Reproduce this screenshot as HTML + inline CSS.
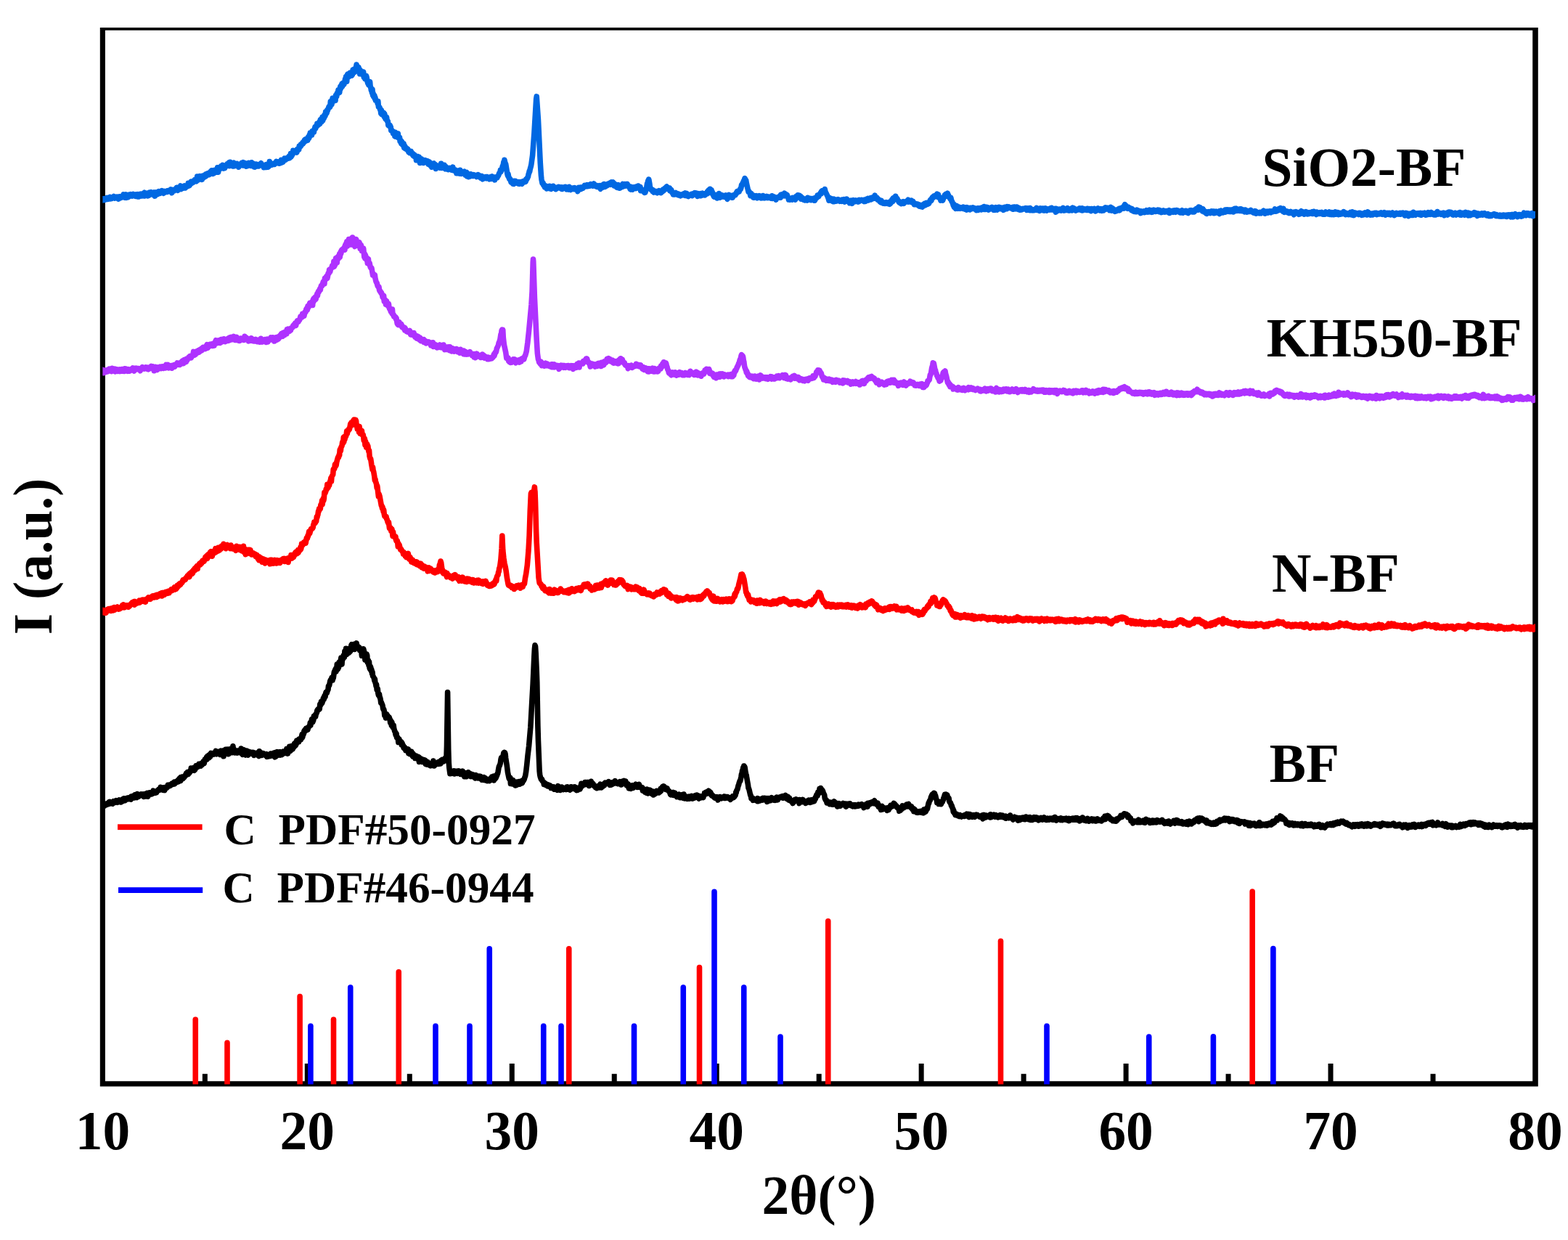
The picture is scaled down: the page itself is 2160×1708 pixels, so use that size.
<!DOCTYPE html>
<html lang="en"><head><meta charset="utf-8"><title>XRD patterns</title>
<style>html,body{margin:0;padding:0;background:#fff;}body{width:2160px;height:1708px;overflow:hidden;}svg{display:block;}text{font-family:'Liberation Serif', serif;font-weight:bold;fill:#000;}</style></head><body>
<svg width="2160" height="1708" viewBox="0 0 2160 1708">
<rect x="0" y="0" width="2160" height="1708" fill="#ffffff"/>
<defs><clipPath id="plotclip"><rect x="141.35" y="38.0" width="1973.65" height="1455.6"/></clipPath></defs>
<g fill="#000000">
<path fill-rule="evenodd" d="M137.8,38.0 H2118.8 V1496.6 H137.8 Z M144.9,41.8 V1489.3 H2111.2 V41.8 Z"/>
<rect x="419.80" y="1465" width="7.0" height="25.3"/>
<rect x="701.75" y="1465" width="7.0" height="25.3"/>
<rect x="983.70" y="1465" width="7.0" height="25.3"/>
<rect x="1265.65" y="1465" width="7.0" height="25.3"/>
<rect x="1547.60" y="1465" width="7.0" height="25.3"/>
<rect x="1829.55" y="1465" width="7.0" height="25.3"/>
<rect x="278.83" y="1479.2" width="7.0" height="11.1"/>
<rect x="560.78" y="1479.2" width="7.0" height="11.1"/>
<rect x="842.73" y="1479.2" width="7.0" height="11.1"/>
<rect x="1124.68" y="1479.2" width="7.0" height="11.1"/>
<rect x="1406.62" y="1479.2" width="7.0" height="11.1"/>
<rect x="1688.57" y="1479.2" width="7.0" height="11.1"/>
<rect x="1970.53" y="1479.2" width="7.0" height="11.1"/>
</g>
<g fill="none" stroke-linejoin="round" stroke-linecap="butt" clip-path="url(#plotclip)">
<path stroke="#000000" stroke-width="7.6" d="M138.35,1110.21 138.91,1111.82 139.47,1111.41 140.03,1109.43 140.59,1109.62 141.15,1109.35 141.71,1110.57 142.27,1109.48 142.83,1110.31 143.39,1106.87 143.95,1110.22 144.51,1108.36 145.07,1109.05 145.63,1107.89 146.19,1107.33 147.31,1108.27 147.87,1106.54 148.43,1106.47 148.99,1107.29 149.55,1105.53 150.11,1104.84 150.67,1107.41 151.79,1104.47 152.35,1105.62 152.91,1106.27 154.03,1104.92 154.59,1106.38 155.15,1107.02 155.71,1104.83 156.27,1103.85 156.83,1105.31 157.39,1105.11 157.95,1103.69 159.07,1105.25 160.19,1102.75 160.75,1104.39 161.31,1104.22 161.87,1105.18 162.43,1102.93 162.99,1103.44 163.55,1103.25 164.11,1101.84 164.67,1103.58 165.23,1104.22 165.79,1102.44 166.35,1105.01 166.91,1104.04 167.47,1103.61 168.03,1103.39 168.59,1103.73 169.15,1100.88 169.71,1103.24 170.27,1102.86 170.83,1099.81 171.39,1102.32 171.95,1101.36 172.51,1102.51 173.07,1100.61 174.19,1101.15 174.75,1099.41 175.31,1100.98 175.87,1100.02 176.43,1100.18 176.99,1099.07 177.55,1100.63 178.67,1098.76 179.79,1100.58 180.35,1101.03 180.91,1097.06 181.47,1099.69 182.59,1098.05 183.15,1096.50 183.71,1099.15 184.27,1096.04 184.83,1098.00 185.39,1098.73 185.95,1094.79 186.51,1096.11 187.07,1094.62 188.19,1097.86 188.75,1098.39 189.31,1093.47 190.99,1097.20 192.11,1094.63 192.67,1095.61 193.23,1094.82 193.79,1094.58 194.35,1093.99 194.91,1095.61 195.47,1095.83 196.59,1095.46 197.15,1094.03 197.71,1095.13 198.27,1097.26 199.39,1093.53 199.95,1096.18 200.51,1095.15 201.07,1096.87 201.63,1094.20 202.19,1093.64 202.75,1092.50 203.31,1095.97 203.87,1097.07 204.43,1092.59 204.99,1092.99 205.55,1094.20 206.11,1091.81 206.67,1092.51 207.23,1092.15 207.79,1092.66 208.35,1093.86 208.91,1092.54 209.47,1093.69 210.03,1091.60 210.59,1092.17 211.15,1089.14 211.71,1089.68 212.27,1092.52 212.83,1090.15 213.39,1091.35 213.95,1091.21 214.51,1091.95 215.07,1091.46 215.63,1091.62 216.75,1089.22 217.31,1088.54 217.87,1088.96 218.43,1087.53 219.55,1088.18 220.11,1088.19 220.67,1087.23 221.23,1084.35 221.79,1086.29 222.35,1086.70 222.91,1087.52 223.47,1086.72 224.03,1085.19 224.59,1084.91 225.15,1088.37 225.71,1086.42 226.27,1088.21 226.83,1088.54 227.39,1084.66 227.95,1086.03 229.63,1085.34 230.75,1084.19 231.31,1081.35 231.87,1082.99 232.43,1081.76 232.99,1082.23 233.55,1081.19 234.11,1082.47 234.67,1082.19 235.23,1081.07 235.79,1081.24 236.35,1080.75 236.91,1079.08 237.47,1079.29 238.03,1078.98 238.59,1080.30 239.15,1079.57 239.71,1079.87 240.27,1077.22 240.83,1079.73 241.39,1077.37 242.51,1077.64 243.07,1076.51 243.63,1077.33 244.19,1075.68 245.31,1074.31 245.87,1076.88 246.99,1072.60 247.55,1074.06 248.11,1071.72 248.67,1075.58 249.23,1070.61 249.79,1073.02 250.35,1073.12 250.91,1070.00 251.47,1072.03 252.03,1072.38 252.59,1071.20 253.15,1070.53 253.71,1070.85 254.27,1069.36 254.83,1069.09 255.39,1067.40 255.95,1067.89 256.51,1065.42 257.07,1067.47 257.63,1064.88 258.19,1063.65 259.31,1066.47 260.43,1063.09 260.99,1064.55 261.55,1062.16 262.67,1062.37 263.23,1058.16 263.79,1061.43 264.35,1059.19 264.91,1059.47 265.47,1057.72 266.03,1057.71 266.59,1058.36 267.15,1060.42 267.71,1061.20 268.27,1058.43 268.83,1059.91 269.95,1054.86 270.51,1057.49 271.07,1057.00 271.63,1055.60 272.19,1056.32 272.75,1056.20 273.31,1053.68 273.87,1052.50 274.43,1054.04 274.99,1053.80 275.55,1053.17 276.11,1054.58 276.67,1054.94 277.23,1051.50 277.79,1053.27 278.35,1053.42 278.91,1051.96 279.47,1052.07 280.03,1049.01 280.59,1049.88 281.15,1051.61 282.27,1046.22 282.83,1047.01 283.39,1046.99 283.95,1045.52 284.51,1043.08 285.07,1046.07 285.63,1041.75 286.19,1043.93 286.75,1042.78 287.31,1040.53 287.87,1043.95 288.99,1039.38 289.55,1042.38 290.67,1037.47 291.23,1039.12 291.79,1039.79 292.35,1039.82 292.91,1038.91 293.47,1038.64 294.03,1038.92 294.59,1037.23 295.15,1038.92 295.71,1036.98 296.83,1037.25 297.39,1034.40 297.95,1034.85 298.51,1038.80 299.07,1036.94 299.63,1036.24 300.19,1037.78 300.75,1036.32 301.31,1037.37 301.87,1035.85 302.43,1037.89 302.99,1034.95 303.55,1039.46 304.67,1034.11 305.23,1035.98 305.79,1035.81 306.35,1036.90 306.91,1034.73 307.47,1036.65 308.03,1041.77 308.59,1033.62 309.15,1036.13 309.71,1034.79 310.27,1035.71 310.83,1032.23 311.39,1032.48 311.95,1035.05 312.51,1033.88 313.07,1036.56 313.63,1032.17 314.19,1033.63 314.75,1038.75 315.31,1032.17 315.87,1031.86 316.43,1033.65 316.99,1033.14 317.55,1034.93 318.67,1032.23 319.23,1033.51 319.79,1036.71 320.35,1034.69 320.91,1027.84 321.47,1032.14 322.03,1031.42 322.59,1034.05 323.15,1033.11 323.71,1036.96 324.27,1035.18 324.83,1035.77 325.39,1034.50 325.95,1034.28 327.07,1037.07 327.63,1036.15 328.19,1034.22 328.75,1036.56 329.31,1034.94 329.87,1034.71 330.43,1034.01 330.99,1034.58 331.55,1034.45 332.11,1031.05 332.67,1037.74 333.23,1037.76 333.79,1036.90 334.35,1039.28 334.91,1037.86 335.47,1037.41 336.03,1032.89 336.59,1036.35 337.71,1039.71 338.27,1040.04 338.83,1039.63 339.39,1035.52 339.95,1034.07 340.51,1039.11 341.07,1038.12 341.63,1040.07 342.19,1038.18 342.75,1038.05 343.31,1035.42 343.87,1038.20 344.43,1036.50 344.99,1038.01 345.55,1037.70 346.11,1036.33 346.67,1036.89 347.23,1036.53 347.79,1038.32 348.35,1037.73 348.91,1036.40 349.47,1036.56 350.03,1040.37 350.59,1037.58 351.15,1039.63 351.71,1038.95 352.27,1037.54 352.83,1037.70 353.39,1039.22 353.95,1039.10 354.51,1039.94 355.07,1036.75 355.63,1038.33 356.19,1038.96 356.75,1041.56 357.31,1034.85 357.87,1039.10 358.43,1037.37 358.99,1038.81 359.55,1036.75 360.67,1040.33 361.23,1039.16 362.35,1039.64 362.91,1037.60 363.47,1039.47 364.59,1038.66 365.15,1039.87 365.71,1039.17 366.27,1040.71 367.39,1038.70 367.95,1042.30 368.51,1041.94 369.07,1042.06 369.63,1040.68 370.19,1039.86 371.31,1039.14 371.87,1041.55 372.43,1040.59 372.99,1038.07 373.55,1040.44 374.11,1038.34 374.67,1040.77 375.23,1038.29 375.79,1038.37 376.35,1040.85 376.91,1040.16 377.47,1037.04 378.03,1040.85 378.59,1042.74 379.15,1036.65 379.71,1042.18 380.27,1037.66 380.83,1037.71 381.39,1038.18 381.95,1035.73 382.51,1040.53 383.63,1037.28 384.19,1038.10 384.75,1035.92 385.87,1040.07 386.43,1035.66 386.99,1037.75 388.11,1039.59 388.67,1039.38 389.23,1035.82 389.79,1035.31 390.35,1036.74 390.91,1035.53 391.47,1035.21 392.03,1037.11 392.59,1037.39 393.15,1035.08 393.71,1034.52 394.27,1036.02 394.83,1031.57 395.39,1034.70 395.95,1032.36 396.51,1038.08 397.07,1034.89 398.19,1032.92 398.75,1028.30 399.31,1032.89 399.87,1034.46 400.43,1029.66 400.99,1032.04 401.55,1031.47 402.11,1027.52 402.67,1031.19 403.23,1031.77 403.79,1029.30 404.35,1028.42 404.91,1029.05 405.47,1024.59 406.03,1026.73 406.59,1027.52 407.15,1023.17 407.71,1026.16 408.83,1020.02 409.39,1023.03 409.95,1020.69 410.51,1022.22 411.07,1019.16 411.63,1021.81 412.19,1018.20 412.75,1019.86 413.31,1017.30 413.87,1017.12 414.43,1018.79 416.11,1011.69 416.67,1015.76 417.79,1010.68 418.35,1011.06 418.91,1006.96 420.03,1005.20 420.59,1007.03 421.15,1006.09 421.71,1003.45 422.27,1005.44 422.83,1005.26 423.39,1003.18 423.95,1005.11 424.51,1001.86 425.07,1001.26 425.63,1001.10 426.19,999.68 426.75,999.91 427.31,995.45 427.87,999.08 428.43,994.20 428.99,993.79 429.55,990.83 430.11,993.84 430.67,994.75 431.79,992.09 432.35,986.58 433.47,986.62 434.03,984.95 434.59,987.36 435.15,984.26 435.71,982.55 436.27,981.98 436.83,978.74 437.95,976.88 438.51,978.13 439.07,977.17 440.19,976.68 440.75,970.36 441.31,970.72 441.87,970.79 442.43,966.53 442.99,966.77 443.55,968.70 444.67,965.41 445.23,962.27 445.79,960.97 446.35,963.14 446.91,958.41 447.47,958.30 448.03,959.72 448.59,955.33 449.15,953.38 450.27,954.53 451.39,950.78 451.95,950.11 452.51,944.75 453.07,944.16 453.63,943.91 454.75,938.20 455.31,936.77 456.43,936.24 456.99,933.56 457.55,934.45 458.11,936.94 458.67,932.34 459.23,933.88 460.35,925.88 460.91,926.03 461.47,923.17 462.03,925.66 462.59,920.98 463.15,924.89 463.71,921.92 464.27,914.96 464.83,920.70 465.39,921.63 465.95,915.66 466.51,919.55 467.07,912.33 467.63,915.74 468.19,911.48 468.75,915.38 469.31,909.29 469.87,906.13 470.43,911.76 470.99,915.04 471.55,906.61 472.11,908.47 473.23,902.74 474.35,905.44 474.91,896.96 475.47,900.68 476.03,899.20 476.59,893.38 477.15,901.04 477.71,901.24 478.27,893.44 478.83,900.12 479.39,895.16 479.95,895.25 480.51,899.46 481.07,895.57 481.63,895.61 482.19,897.71 482.75,896.88 483.31,895.21 483.87,888.75 484.43,887.67 484.99,893.61 485.55,888.05 486.11,891.45 486.67,887.70 487.23,890.15 487.79,887.25 488.35,894.49 488.91,887.12 489.47,889.83 490.03,889.38 490.59,892.94 491.15,885.93 491.71,889.96 492.27,889.83 492.83,891.82 493.39,892.11 493.95,890.93 494.51,892.76 495.07,892.02 495.63,895.64 496.19,894.34 496.75,893.73 497.87,897.47 498.43,903.26 498.99,896.14 500.11,902.90 500.67,893.79 501.79,898.10 502.91,908.97 503.47,904.81 504.03,906.66 504.59,904.68 505.15,901.12 505.71,902.85 506.27,912.18 506.83,911.47 507.39,909.34 507.95,916.19 508.51,911.89 509.07,919.87 509.63,921.59 510.19,917.75 510.75,919.26 511.31,924.07 511.87,922.25 512.43,927.56 512.99,925.35 513.55,931.30 514.11,931.69 515.23,933.76 515.79,937.10 516.35,935.15 516.91,940.04 517.47,941.56 518.03,944.77 518.59,942.73 519.15,950.00 519.71,948.30 520.27,948.82 520.83,954.94 521.39,957.49 521.95,955.72 522.51,956.17 523.07,960.35 523.63,961.07 524.19,963.60 524.75,968.02 525.31,967.45 526.99,971.58 527.55,975.55 528.11,977.35 528.67,976.91 529.23,979.08 529.79,985.53 530.35,983.36 530.91,983.65 531.47,988.93 532.03,985.69 532.59,983.71 533.15,987.68 533.71,985.19 534.83,989.21 535.39,988.79 535.95,987.79 537.07,990.56 537.63,995.28 538.19,992.52 538.75,993.48 539.31,999.16 539.87,994.98 540.43,1000.17 540.99,1001.58 541.55,999.82 542.11,998.75 542.67,1003.25 543.79,1007.67 544.35,1007.75 544.91,1011.29 545.47,1013.09 546.03,1010.38 546.59,1015.82 547.15,1015.26 547.71,1015.72 548.27,1017.56 548.83,1022.50 549.39,1021.79 549.95,1018.04 550.51,1021.43 552.19,1022.73 552.75,1021.82 553.31,1025.86 553.87,1023.12 554.43,1025.24 555.55,1027.09 556.11,1030.36 556.67,1030.79 557.23,1029.52 557.79,1029.58 558.35,1031.11 558.91,1033.68 559.47,1032.95 560.03,1033.08 560.59,1032.45 561.71,1034.61 562.27,1031.91 562.83,1037.74 563.39,1034.66 563.95,1035.52 564.51,1038.52 565.07,1037.15 565.63,1037.46 566.75,1035.20 567.87,1040.66 568.43,1037.55 568.99,1042.02 569.55,1038.73 570.11,1040.13 570.67,1042.66 571.23,1042.40 571.79,1044.48 572.35,1042.17 572.91,1042.06 573.47,1041.18 574.59,1043.03 575.15,1042.69 575.71,1045.51 576.27,1044.46 576.83,1042.58 577.39,1049.40 577.95,1044.69 578.51,1044.35 579.07,1048.93 579.63,1048.93 580.19,1045.39 580.75,1045.35 581.31,1046.43 581.87,1049.46 582.43,1047.86 582.99,1047.33 583.55,1048.20 584.11,1050.14 584.67,1046.70 585.23,1048.54 585.79,1047.24 586.35,1052.61 586.91,1052.85 588.03,1051.14 588.59,1053.15 589.15,1049.41 589.71,1053.11 590.27,1050.86 590.83,1051.27 591.39,1052.35 591.95,1052.88 592.51,1054.73 593.07,1054.83 593.63,1053.94 594.19,1051.90 594.75,1054.18 595.31,1053.02 595.87,1054.33 596.99,1048.01 598.11,1054.97 598.67,1052.74 599.23,1052.14 599.79,1053.52 600.35,1052.67 600.91,1052.69 601.47,1050.97 602.03,1052.41 602.59,1052.40 603.71,1049.60 604.83,1052.35 605.39,1051.91 606.51,1050.08 607.07,1051.83 607.63,1047.58 608.19,1047.71 608.75,1049.12 609.31,1046.40 609.87,1046.91 610.99,1048.89 611.55,1046.74 612.11,1046.44 612.67,1045.60 613.23,1044.05 613.79,1047.74 614.35,1045.36 614.91,1044.97 615.47,1027.62 616.59,953.51 617.71,1031.58 618.27,1050.87 618.83,1057.76 619.95,1065.72 620.51,1065.50 621.07,1064.42 622.19,1063.79 622.75,1065.28 623.31,1062.53 623.87,1063.46 624.43,1062.12 624.99,1062.85 625.55,1062.06 626.11,1065.88 626.67,1062.01 627.23,1063.42 627.79,1063.15 628.91,1063.78 629.47,1064.32 630.03,1065.32 630.59,1062.10 631.15,1063.67 631.71,1061.99 632.27,1064.00 632.83,1062.10 633.39,1062.68 634.51,1066.27 635.07,1064.95 635.63,1064.65 636.19,1066.40 636.75,1063.43 637.31,1062.26 637.87,1065.01 638.43,1065.61 639.55,1069.50 640.11,1064.57 640.67,1069.78 642.35,1066.80 642.91,1069.69 643.47,1066.03 644.03,1065.17 644.59,1066.29 645.15,1063.83 645.71,1066.90 646.27,1066.13 647.39,1067.30 647.95,1065.57 648.51,1069.58 649.07,1066.69 649.63,1069.40 650.19,1066.43 650.75,1069.51 651.31,1068.32 651.87,1069.88 652.99,1067.47 653.55,1068.78 654.11,1071.04 654.67,1071.85 655.23,1068.99 655.79,1067.75 656.35,1069.31 656.91,1070.13 658.03,1069.28 658.59,1071.86 659.71,1071.36 660.27,1069.12 660.83,1070.71 661.39,1070.36 661.95,1069.52 662.51,1073.01 663.07,1071.65 663.63,1071.08 664.19,1074.23 664.75,1073.44 665.87,1074.28 666.43,1073.57 666.99,1070.72 668.11,1074.64 668.67,1071.72 669.79,1073.73 670.35,1075.33 670.91,1075.73 671.47,1075.45 672.03,1073.74 672.59,1074.74 673.71,1073.80 674.27,1075.59 675.39,1072.48 675.95,1074.59 676.51,1072.57 677.07,1073.40 677.63,1070.12 678.19,1071.94 678.75,1070.73 679.31,1070.67 679.87,1069.20 680.43,1075.00 680.99,1072.15 681.55,1072.26 682.11,1072.84 682.67,1070.93 683.23,1071.45 683.79,1067.85 684.35,1068.76 684.91,1066.49 685.47,1065.70 686.03,1063.51 687.15,1056.92 687.71,1055.07 688.27,1054.58 689.39,1050.83 689.95,1046.26 690.51,1043.98 691.07,1045.17 692.19,1042.70 692.75,1042.53 693.87,1036.93 694.43,1036.50 694.99,1037.40 695.55,1036.67 696.11,1038.67 696.67,1044.25 698.35,1054.89 699.47,1064.04 701.15,1072.09 701.71,1073.09 702.27,1071.90 702.83,1071.32 703.39,1079.48 703.95,1078.40 704.51,1077.76 705.07,1075.62 705.63,1076.41 706.19,1079.96 706.75,1074.57 707.87,1079.89 708.43,1078.93 708.99,1079.62 709.55,1078.35 710.11,1081.88 710.67,1077.24 711.23,1077.08 712.35,1081.05 712.91,1078.67 713.47,1079.79 714.03,1077.66 714.59,1076.79 715.15,1080.03 715.71,1080.20 716.27,1079.98 716.83,1076.98 717.39,1076.02 717.95,1076.11 718.51,1077.85 719.07,1078.82 719.63,1077.80 720.19,1074.80 720.75,1075.94 721.87,1074.07 722.43,1072.58 722.99,1070.45 723.55,1069.30 724.11,1066.05 724.67,1062.75 725.79,1053.08 726.91,1041.54 728.59,1027.58 730.83,1001.71 734.19,941.30 735.87,903.41 736.43,893.47 737.00,888.80 737.55,890.51 738.11,898.99 739.23,924.25 739.79,940.22 740.91,1000.91 741.47,1020.40 743.15,1062.22 743.71,1067.53 744.27,1069.99 745.39,1073.28 745.95,1073.75 746.51,1073.23 747.07,1075.58 748.19,1076.72 748.75,1077.03 749.31,1080.28 749.87,1079.40 750.43,1080.75 750.99,1079.55 751.55,1079.29 752.67,1081.45 753.23,1080.66 753.79,1081.02 754.35,1082.90 754.91,1082.27 755.47,1080.92 756.03,1081.99 756.59,1082.02 757.15,1083.49 757.71,1081.91 758.83,1085.43 759.39,1084.83 759.95,1083.66 760.51,1083.88 761.07,1085.10 761.63,1085.49 762.19,1086.26 763.31,1084.08 763.87,1087.27 764.43,1085.95 765.55,1086.68 766.11,1085.07 767.79,1088.19 768.35,1086.51 768.91,1082.65 769.47,1086.11 770.59,1087.37 771.15,1086.05 771.71,1088.48 772.27,1087.32 773.39,1087.02 773.95,1083.99 774.51,1086.96 775.07,1086.66 775.63,1085.66 776.19,1087.57 776.75,1087.43 777.31,1085.98 777.87,1086.34 778.43,1085.71 778.99,1086.56 779.55,1085.95 780.11,1087.50 780.67,1084.18 781.23,1086.10 781.79,1083.98 782.91,1087.12 784.59,1086.48 785.15,1088.05 785.71,1084.45 786.27,1087.04 786.83,1083.77 787.95,1086.18 788.51,1084.81 789.07,1085.79 789.63,1086.21 790.19,1084.17 790.75,1086.05 791.31,1085.59 791.87,1083.92 792.43,1086.01 792.99,1084.86 793.55,1087.62 794.11,1084.85 794.67,1088.60 795.23,1085.66 795.79,1088.27 796.35,1086.60 796.91,1085.81 797.47,1086.15 798.03,1086.03 798.59,1086.60 799.15,1086.76 799.71,1083.36 800.27,1081.78 800.83,1079.27 801.39,1081.61 801.95,1082.88 803.07,1081.48 803.63,1080.27 804.19,1079.64 805.31,1079.88 805.87,1077.53 806.43,1080.69 806.99,1077.55 807.55,1078.82 809.23,1077.50 809.79,1077.43 810.35,1078.95 810.91,1077.64 811.47,1082.36 812.03,1078.49 813.71,1078.51 814.27,1076.30 814.83,1079.40 815.39,1080.75 815.95,1078.49 816.51,1080.49 817.07,1079.51 817.63,1081.50 818.75,1083.00 819.31,1083.49 819.87,1082.65 820.43,1084.63 820.99,1083.15 821.55,1084.79 822.11,1085.61 823.23,1083.26 823.79,1084.97 824.35,1082.69 824.91,1082.81 825.47,1082.44 826.03,1084.87 826.59,1083.19 827.15,1080.16 827.71,1083.63 828.27,1084.93 828.83,1084.49 829.39,1081.30 830.51,1082.67 831.07,1082.82 832.19,1079.52 832.75,1081.63 833.31,1080.85 833.87,1078.18 834.99,1079.38 835.55,1078.40 836.67,1079.20 837.79,1078.05 838.35,1076.61 838.91,1079.44 840.03,1081.24 840.59,1078.59 841.15,1078.98 841.71,1081.12 842.27,1081.05 842.83,1079.46 843.39,1079.66 843.95,1077.75 844.51,1079.80 845.07,1077.59 845.63,1078.67 846.19,1078.51 846.75,1077.67 847.31,1075.64 848.43,1078.82 848.99,1077.84 849.55,1077.78 850.11,1078.97 851.23,1079.55 851.79,1077.72 852.35,1079.16 852.91,1078.05 854.03,1076.83 854.59,1077.98 855.15,1077.22 855.71,1081.00 856.27,1077.35 857.39,1076.54 857.95,1079.76 858.51,1075.95 859.07,1076.44 859.63,1075.56 860.75,1076.50 861.31,1078.77 861.87,1076.06 862.99,1081.61 863.55,1079.48 864.11,1081.14 864.67,1081.36 865.23,1079.79 865.79,1083.90 866.35,1085.93 867.47,1081.88 868.03,1084.95 869.15,1086.22 869.71,1085.72 870.27,1084.31 870.83,1084.63 871.39,1081.76 871.95,1085.54 872.51,1083.78 873.07,1084.58 873.63,1084.06 874.19,1082.58 874.75,1082.72 875.31,1081.77 875.87,1080.22 876.43,1082.53 876.99,1082.85 877.55,1081.42 878.11,1084.33 878.67,1083.34 879.23,1083.43 880.35,1080.41 880.91,1084.13 881.47,1083.99 882.03,1083.50 883.15,1084.45 884.27,1086.07 884.83,1084.81 885.39,1089.12 885.95,1086.53 886.51,1088.63 887.63,1089.86 888.19,1087.45 888.75,1091.20 889.31,1090.26 889.87,1090.85 890.43,1091.92 891.55,1087.13 892.11,1091.61 892.67,1092.82 893.23,1092.50 893.79,1090.31 894.91,1091.13 895.47,1088.17 896.03,1089.77 896.59,1089.75 897.15,1092.68 897.71,1090.08 898.27,1093.42 899.39,1090.00 899.95,1094.86 900.51,1091.01 901.63,1094.21 902.19,1091.37 902.75,1090.43 903.31,1092.78 904.43,1089.31 904.99,1089.39 905.55,1090.00 906.11,1091.91 906.67,1090.21 907.79,1091.85 908.35,1090.95 908.91,1091.10 909.47,1090.57 910.03,1086.48 910.59,1089.49 912.27,1084.25 912.83,1083.44 913.95,1084.79 914.51,1083.01 915.63,1084.02 916.19,1085.89 916.25,1085.00 916.75,1085.53 917.31,1087.34 917.87,1085.54 918.43,1087.15 918.99,1085.68 919.55,1088.19 920.11,1088.54 920.67,1089.36 921.23,1089.28 921.79,1089.58 922.35,1091.39 922.91,1091.61 923.47,1094.31 924.03,1094.70 924.59,1091.98 925.15,1094.16 925.71,1092.37 926.27,1093.62 927.39,1091.58 927.95,1095.41 928.51,1094.91 929.07,1092.88 929.63,1092.22 930.19,1094.27 930.75,1094.21 931.87,1096.20 932.43,1097.69 932.99,1095.22 933.55,1097.49 934.11,1097.12 935.23,1094.07 935.79,1096.89 936.35,1096.70 936.91,1098.72 938.03,1096.57 938.59,1097.64 939.15,1094.87 939.71,1096.88 940.27,1096.17 940.83,1099.17 941.39,1098.16 941.95,1094.04 942.51,1099.58 943.07,1097.43 943.63,1099.78 944.19,1098.31 945.31,1099.59 945.87,1098.81 946.43,1097.35 946.99,1100.28 948.11,1098.31 948.67,1098.90 949.23,1097.06 949.79,1100.16 950.35,1098.21 950.91,1098.59 951.47,1098.47 952.03,1096.91 952.59,1096.41 953.15,1098.34 953.71,1098.57 954.27,1100.00 954.83,1098.82 955.39,1096.74 955.95,1098.52 957.07,1098.81 957.63,1097.61 958.19,1095.69 958.75,1098.38 959.31,1096.16 959.87,1097.91 960.43,1095.12 960.99,1097.71 961.55,1096.17 962.11,1098.76 962.67,1099.97 963.23,1099.35 963.79,1096.66 964.91,1096.68 965.47,1098.84 967.15,1097.87 968.27,1097.66 968.83,1098.40 969.39,1096.02 969.95,1095.47 970.51,1092.29 971.07,1092.27 971.63,1092.55 972.19,1091.57 972.75,1092.90 973.31,1093.19 973.87,1090.86 974.99,1090.06 975.55,1090.61 976.11,1089.23 976.25,1090.00 976.67,1090.49 977.23,1090.42 977.79,1091.13 978.35,1090.97 978.91,1091.63 979.47,1094.65 980.03,1093.68 980.59,1095.84 981.15,1095.57 981.71,1095.63 982.27,1096.46 982.83,1096.78 983.39,1098.11 983.95,1097.75 984.51,1097.72 985.07,1099.19 985.63,1097.75 986.19,1099.19 986.75,1098.33 987.31,1099.30 987.87,1097.78 988.43,1099.00 988.99,1101.96 989.55,1099.94 990.11,1100.37 990.67,1099.24 991.23,1100.13 991.79,1097.58 992.35,1097.68 992.91,1099.40 993.47,1099.69 994.03,1098.17 994.59,1098.76 995.15,1098.39 995.71,1098.59 996.27,1097.62 996.83,1097.34 997.39,1099.29 997.95,1097.07 998.51,1097.92 999.07,1098.35 999.63,1097.61 1000.19,1099.27 1000.75,1098.37 1001.31,1098.69 1001.87,1097.64 1002.43,1097.66 1002.99,1099.08 1003.55,1099.57 1004.11,1098.57 1004.67,1099.91 1005.23,1099.56 1005.79,1099.47 1006.35,1101.26 1006.91,1098.60 1007.47,1099.43 1008.03,1099.55 1009.15,1096.93 1009.71,1098.92 1010.27,1098.74 1011.95,1097.15 1012.51,1095.50 1013.07,1095.47 1013.63,1091.69 1014.19,1091.85 1014.75,1088.85 1015.87,1087.18 1016.99,1082.26 1017.55,1081.29 1018.11,1078.73 1019.23,1075.45 1019.79,1075.61 1020.91,1070.15 1021.47,1066.18 1022.03,1065.56 1022.59,1061.23 1023.15,1061.03 1023.71,1057.49 1024.27,1060.94 1024.83,1055.00 1025.00,1057.50 1025.39,1058.65 1025.95,1056.33 1027.07,1063.89 1027.63,1066.59 1028.19,1067.65 1028.75,1071.68 1030.43,1080.88 1030.99,1085.49 1031.55,1086.21 1032.11,1088.20 1033.79,1095.68 1034.35,1095.80 1034.91,1099.78 1035.47,1098.28 1036.03,1100.14 1037.15,1102.26 1037.71,1099.78 1038.83,1102.04 1039.39,1101.83 1040.51,1102.20 1041.07,1101.26 1042.19,1102.46 1042.75,1101.60 1043.31,1103.55 1043.87,1099.64 1044.43,1100.46 1044.99,1103.58 1046.11,1101.00 1047.23,1102.84 1047.79,1100.73 1048.35,1101.87 1048.91,1100.73 1049.47,1100.83 1050.03,1100.68 1050.59,1101.94 1051.15,1099.48 1052.27,1101.64 1052.83,1099.28 1053.39,1099.26 1053.95,1101.48 1054.51,1100.73 1055.63,1101.27 1056.19,1099.65 1056.75,1104.33 1057.31,1100.27 1057.87,1101.11 1058.43,1099.57 1058.99,1100.70 1059.55,1103.02 1060.11,1100.72 1060.67,1101.44 1061.23,1100.44 1061.79,1102.53 1062.91,1098.60 1063.47,1101.11 1064.03,1100.13 1064.59,1101.41 1065.15,1101.37 1065.71,1101.99 1066.27,1101.69 1067.39,1099.77 1067.95,1102.31 1068.51,1101.09 1069.07,1101.44 1069.63,1100.40 1070.19,1098.24 1070.75,1098.75 1071.31,1101.87 1071.87,1099.44 1072.43,1099.79 1072.99,1098.47 1073.55,1099.03 1075.23,1098.50 1075.79,1097.26 1077.47,1097.72 1078.03,1096.87 1078.59,1099.24 1079.15,1097.56 1079.71,1097.40 1080.27,1096.74 1080.83,1098.91 1081.39,1095.86 1081.95,1095.42 1082.51,1096.51 1083.07,1099.17 1083.63,1097.19 1084.19,1100.19 1085.31,1097.21 1086.43,1102.01 1086.99,1099.30 1087.55,1099.30 1088.11,1101.74 1088.67,1103.13 1089.23,1103.37 1089.79,1102.40 1090.91,1104.01 1092.03,1106.58 1092.59,1103.86 1093.15,1105.19 1093.71,1103.17 1094.27,1103.99 1094.83,1101.69 1095.39,1101.80 1095.95,1102.49 1096.51,1100.84 1097.07,1102.83 1097.63,1101.35 1098.19,1102.42 1099.31,1102.21 1100.43,1104.24 1100.99,1106.64 1101.55,1101.45 1102.11,1103.50 1102.67,1102.96 1103.23,1101.88 1103.79,1103.48 1104.35,1101.95 1105.47,1104.48 1106.03,1101.39 1106.59,1104.47 1107.15,1104.70 1107.71,1103.01 1108.27,1104.94 1108.83,1105.25 1109.39,1104.44 1109.95,1106.30 1110.51,1103.57 1111.07,1105.73 1112.19,1103.31 1112.75,1104.33 1113.31,1104.01 1113.87,1104.68 1114.43,1102.20 1114.99,1103.56 1115.55,1103.08 1116.11,1105.30 1116.67,1102.29 1117.23,1104.98 1117.79,1101.74 1118.35,1104.04 1118.91,1103.50 1119.47,1104.27 1120.59,1101.37 1121.15,1101.22 1121.71,1103.69 1122.83,1099.20 1123.39,1100.13 1123.95,1097.37 1125.07,1094.46 1125.63,1096.23 1126.19,1096.04 1126.75,1091.37 1127.31,1091.69 1127.87,1091.66 1128.43,1092.43 1128.99,1086.48 1129.55,1088.90 1130.11,1088.60 1130.67,1085.47 1131.23,1087.72 1131.79,1088.94 1132.35,1087.63 1132.91,1089.54 1133.47,1089.36 1134.03,1091.70 1135.71,1095.21 1136.27,1099.71 1137.39,1102.05 1137.95,1101.63 1138.51,1102.92 1139.07,1105.84 1140.19,1103.82 1140.75,1105.10 1141.87,1105.91 1142.43,1105.11 1142.99,1107.68 1144.11,1106.37 1144.67,1105.25 1145.79,1106.72 1146.35,1108.04 1146.91,1106.40 1147.47,1108.10 1148.59,1106.21 1149.15,1103.88 1149.71,1105.88 1150.27,1105.87 1150.83,1107.49 1151.39,1107.63 1151.95,1108.84 1153.07,1106.53 1153.63,1110.88 1154.19,1108.94 1155.31,1107.80 1155.87,1106.73 1156.43,1109.06 1156.99,1108.64 1157.55,1110.13 1158.67,1108.69 1159.23,1108.55 1159.79,1107.17 1160.35,1107.12 1160.91,1107.51 1161.47,1106.53 1162.03,1108.03 1162.59,1107.86 1163.15,1108.95 1163.71,1108.73 1164.27,1107.19 1165.39,1111.18 1165.95,1107.25 1167.07,1109.13 1167.63,1107.41 1168.19,1108.42 1168.75,1108.93 1169.31,1107.22 1169.87,1108.60 1170.43,1108.41 1170.99,1106.89 1172.11,1109.56 1172.67,1108.57 1173.23,1109.44 1173.79,1109.61 1174.35,1109.03 1174.91,1110.75 1175.47,1110.17 1176.03,1108.72 1176.59,1110.45 1177.71,1110.80 1178.27,1108.57 1179.39,1110.39 1179.95,1109.20 1180.51,1110.32 1181.07,1110.37 1181.63,1108.94 1182.19,1109.61 1182.75,1108.29 1183.31,1110.00 1184.43,1108.45 1184.99,1108.95 1185.55,1108.88 1186.11,1109.31 1186.67,1109.16 1187.23,1107.79 1187.79,1108.53 1188.35,1109.81 1188.91,1109.85 1189.47,1109.52 1190.03,1112.54 1191.15,1109.65 1191.71,1110.64 1192.27,1111.17 1192.83,1110.02 1193.39,1107.71 1193.95,1109.30 1194.51,1108.97 1195.07,1111.05 1195.63,1106.41 1196.19,1109.44 1196.75,1107.03 1197.31,1107.86 1197.87,1105.94 1198.43,1106.16 1198.99,1107.25 1199.55,1105.90 1200.11,1106.60 1200.67,1104.80 1201.23,1104.80 1201.79,1105.15 1202.35,1104.43 1202.91,1104.57 1203.47,1106.67 1204.03,1103.65 1204.59,1102.85 1205.71,1106.61 1206.27,1106.11 1207.39,1107.89 1207.95,1106.67 1208.51,1107.93 1209.07,1106.04 1210.19,1111.32 1210.75,1109.56 1211.31,1109.47 1211.87,1110.42 1213.55,1115.42 1214.11,1114.11 1214.67,1111.23 1215.23,1110.56 1215.79,1113.69 1216.35,1114.72 1216.91,1112.41 1217.47,1113.55 1218.03,1113.42 1218.59,1113.65 1219.15,1113.26 1220.27,1114.85 1220.83,1114.03 1221.95,1116.31 1222.51,1112.75 1223.07,1112.82 1223.63,1114.51 1224.19,1115.43 1224.75,1112.99 1225.31,1113.56 1225.87,1111.21 1226.43,1111.65 1226.99,1109.44 1227.55,1110.93 1228.11,1110.59 1228.67,1109.85 1229.23,1110.77 1229.79,1110.12 1230.35,1107.87 1230.91,1109.44 1231.47,1106.44 1232.03,1109.67 1232.50,1107.50 1232.59,1109.04 1233.15,1109.36 1233.71,1109.23 1234.27,1110.49 1234.83,1109.90 1235.39,1111.81 1235.95,1111.50 1236.51,1112.10 1237.07,1113.39 1237.63,1113.92 1238.19,1112.55 1238.75,1117.22 1239.87,1113.54 1240.43,1116.32 1240.99,1114.64 1242.11,1114.49 1243.23,1109.90 1243.79,1112.74 1244.35,1112.44 1244.91,1112.64 1245.47,1110.45 1246.59,1111.47 1247.15,1110.49 1247.71,1109.98 1248.27,1109.95 1248.83,1108.03 1249.39,1110.90 1249.95,1108.00 1250.51,1108.76 1251.07,1107.89 1251.63,1107.54 1253.31,1111.22 1254.43,1110.45 1254.99,1112.33 1255.55,1110.88 1256.11,1113.22 1256.67,1114.51 1257.23,1115.25 1257.79,1113.82 1258.35,1113.77 1258.91,1117.67 1259.47,1115.82 1260.03,1114.98 1260.59,1115.82 1261.15,1117.39 1261.71,1118.36 1262.27,1117.58 1262.83,1118.98 1263.95,1118.35 1264.51,1119.19 1265.07,1118.05 1265.63,1118.49 1266.19,1117.85 1266.75,1117.61 1267.31,1118.82 1267.87,1117.42 1268.43,1118.20 1268.99,1117.67 1269.55,1117.88 1270.11,1117.46 1270.67,1119.31 1271.23,1118.22 1271.79,1118.38 1272.35,1119.80 1272.91,1115.06 1273.47,1117.11 1274.03,1115.43 1274.59,1117.99 1275.15,1118.11 1276.27,1115.51 1276.83,1113.16 1277.39,1114.42 1279.07,1106.45 1279.63,1106.55 1280.19,1103.87 1280.75,1102.76 1281.31,1102.22 1281.87,1100.92 1282.43,1098.21 1282.99,1099.13 1283.55,1095.68 1284.11,1094.57 1284.67,1094.89 1286.35,1092.46 1286.75,1093.75 1286.91,1093.19 1287.47,1092.71 1288.03,1096.22 1288.59,1095.59 1289.71,1100.53 1290.27,1101.74 1290.83,1105.74 1291.39,1102.93 1292.51,1105.44 1293.07,1107.46 1294.19,1104.40 1294.75,1107.39 1295.31,1105.55 1296.43,1107.62 1296.99,1105.44 1298.11,1104.80 1298.67,1102.96 1299.23,1102.19 1299.79,1099.50 1300.35,1098.57 1301.47,1094.50 1302.03,1097.61 1303.15,1094.07 1303.71,1095.36 1304.27,1095.86 1304.83,1095.08 1305.39,1098.48 1305.95,1098.11 1306.51,1099.79 1307.07,1099.51 1307.63,1103.51 1308.75,1105.61 1309.31,1105.49 1309.87,1107.12 1310.43,1109.71 1310.99,1109.42 1312.11,1113.16 1312.67,1113.76 1313.23,1117.88 1313.79,1116.31 1314.35,1119.66 1314.91,1120.53 1315.47,1120.00 1316.03,1122.53 1317.15,1122.13 1317.71,1121.21 1318.83,1123.01 1319.39,1122.27 1319.95,1123.97 1320.51,1123.20 1321.07,1123.27 1321.63,1124.51 1322.19,1122.52 1322.75,1123.01 1323.31,1124.00 1323.87,1124.14 1324.43,1124.94 1325.55,1123.85 1326.11,1123.94 1326.67,1123.39 1327.79,1122.91 1328.35,1124.41 1328.91,1122.73 1329.47,1123.06 1330.03,1123.82 1330.59,1122.82 1331.15,1123.23 1331.71,1121.21 1332.27,1123.77 1332.83,1122.98 1333.95,1123.80 1334.51,1121.40 1335.07,1125.56 1335.63,1123.44 1336.19,1123.46 1336.75,1121.78 1337.31,1124.43 1337.87,1124.21 1338.43,1123.48 1339.55,1125.22 1340.11,1123.75 1340.67,1122.85 1341.23,1124.90 1341.79,1123.52 1342.35,1122.76 1342.91,1125.30 1343.47,1123.16 1344.03,1122.73 1344.59,1123.45 1345.15,1122.32 1345.71,1123.11 1346.27,1123.31 1346.83,1122.79 1347.39,1123.47 1349.63,1125.12 1350.75,1125.53 1351.31,1124.78 1351.87,1124.78 1352.43,1125.91 1352.99,1123.08 1354.11,1127.80 1354.67,1122.61 1355.23,1125.52 1355.79,1122.51 1356.91,1125.73 1357.47,1125.96 1358.03,1123.37 1358.59,1123.09 1359.15,1123.17 1359.71,1125.04 1360.27,1123.87 1362.51,1124.63 1363.07,1124.39 1363.63,1122.48 1364.19,1125.89 1364.75,1121.72 1365.31,1125.79 1365.87,1123.71 1366.43,1124.25 1366.99,1123.73 1367.55,1123.58 1368.11,1123.70 1368.67,1123.27 1369.23,1122.35 1369.79,1124.32 1370.35,1122.88 1370.91,1125.10 1371.47,1123.18 1372.03,1122.71 1372.59,1124.22 1373.15,1124.91 1373.71,1123.37 1374.27,1124.05 1374.83,1125.96 1375.39,1123.76 1375.95,1123.83 1376.51,1125.32 1377.63,1122.57 1378.19,1123.28 1378.75,1124.89 1379.31,1125.08 1380.43,1124.59 1380.99,1123.07 1381.55,1125.13 1382.11,1125.71 1382.67,1124.12 1383.23,1125.87 1383.79,1125.05 1384.91,1126.08 1385.47,1124.09 1386.03,1127.24 1386.59,1124.88 1387.15,1125.35 1387.71,1124.93 1388.27,1125.83 1388.83,1125.82 1389.39,1125.47 1389.95,1126.76 1391.07,1125.28 1391.63,1123.01 1392.19,1125.96 1392.75,1126.20 1393.31,1125.86 1393.87,1125.88 1394.43,1127.52 1395.55,1129.05 1396.11,1128.10 1396.67,1126.06 1397.23,1126.94 1397.79,1125.28 1398.35,1127.22 1398.91,1126.99 1399.47,1126.18 1400.03,1126.48 1401.15,1126.41 1402.27,1130.18 1402.83,1127.82 1403.39,1128.16 1403.95,1127.24 1404.51,1126.78 1405.07,1129.59 1405.63,1126.86 1406.19,1127.23 1406.75,1126.68 1407.31,1127.38 1407.87,1127.10 1408.43,1127.95 1408.99,1126.14 1410.11,1128.26 1410.67,1126.03 1411.23,1126.76 1411.79,1128.73 1412.35,1127.68 1412.91,1128.28 1413.47,1125.07 1414.03,1127.21 1414.59,1125.98 1415.15,1125.79 1415.71,1127.87 1416.27,1128.47 1416.83,1126.00 1418.51,1126.83 1419.07,1125.69 1419.63,1129.35 1420.75,1126.69 1421.31,1126.73 1421.87,1129.42 1422.43,1129.17 1422.99,1126.67 1424.11,1128.24 1424.67,1125.67 1425.23,1126.46 1425.79,1128.30 1426.35,1126.07 1426.91,1126.66 1427.47,1126.13 1428.03,1126.94 1428.59,1128.49 1429.15,1127.12 1429.71,1126.67 1430.27,1127.39 1430.83,1129.83 1431.39,1128.39 1431.95,1127.82 1432.51,1128.48 1433.63,1128.41 1434.19,1126.45 1434.75,1128.65 1435.31,1127.80 1435.87,1128.99 1436.43,1126.61 1436.99,1128.64 1438.11,1125.85 1438.67,1128.75 1439.23,1127.21 1439.79,1128.34 1440.35,1128.26 1440.91,1129.36 1441.47,1129.52 1442.59,1129.25 1443.15,1127.18 1443.71,1127.40 1444.27,1129.23 1444.83,1127.94 1445.39,1129.10 1445.95,1128.68 1446.51,1127.07 1447.07,1127.56 1447.63,1127.27 1448.75,1127.70 1449.87,1129.04 1450.43,1126.87 1450.99,1127.00 1451.55,1129.24 1452.67,1128.07 1453.23,1125.49 1454.35,1128.16 1454.91,1127.36 1455.47,1130.04 1456.03,1128.54 1456.59,1128.78 1457.15,1127.51 1457.71,1127.52 1458.27,1127.90 1459.39,1128.11 1459.95,1128.63 1460.51,1128.48 1461.07,1129.38 1461.63,1126.88 1462.19,1128.28 1462.75,1128.28 1463.31,1129.69 1463.87,1127.91 1464.43,1128.73 1464.99,1127.66 1465.55,1128.92 1466.11,1128.67 1466.67,1127.60 1467.79,1128.30 1468.35,1128.95 1468.91,1127.09 1469.47,1128.93 1470.03,1127.95 1470.59,1129.99 1471.15,1129.49 1471.71,1127.83 1472.27,1127.45 1472.83,1130.57 1473.39,1128.70 1473.95,1128.58 1474.51,1127.73 1475.07,1127.86 1475.63,1128.89 1476.19,1128.93 1476.75,1127.43 1477.31,1129.21 1477.87,1128.54 1478.43,1127.12 1478.99,1129.15 1479.55,1128.05 1480.11,1129.00 1480.67,1127.60 1481.23,1128.38 1481.79,1126.55 1482.35,1129.11 1482.91,1127.42 1483.47,1129.21 1484.03,1126.73 1484.59,1128.92 1485.15,1129.67 1485.71,1129.55 1486.27,1130.34 1486.83,1128.39 1487.39,1130.83 1487.95,1130.60 1488.51,1127.51 1489.07,1127.74 1490.19,1128.78 1490.75,1128.64 1491.31,1126.02 1491.87,1128.99 1492.99,1127.47 1493.55,1129.84 1494.11,1128.92 1494.67,1129.89 1495.23,1129.23 1495.79,1128.96 1496.35,1130.70 1496.91,1130.19 1498.03,1127.36 1499.15,1129.27 1499.71,1128.74 1500.27,1131.11 1500.83,1129.55 1501.39,1129.33 1501.95,1129.67 1502.51,1128.50 1503.07,1129.58 1503.63,1129.09 1504.19,1127.87 1504.75,1128.38 1505.31,1130.64 1505.87,1129.53 1506.43,1130.06 1506.99,1128.41 1507.55,1129.18 1508.11,1130.49 1509.23,1128.77 1509.79,1130.97 1510.35,1129.45 1510.91,1129.20 1511.47,1130.27 1512.03,1127.88 1512.59,1130.22 1513.15,1128.71 1514.83,1130.21 1515.39,1130.36 1516.51,1130.08 1517.07,1130.97 1517.63,1130.88 1518.19,1129.55 1518.75,1129.40 1519.31,1127.41 1519.87,1126.78 1520.43,1127.98 1520.99,1127.04 1521.55,1127.54 1522.11,1124.23 1522.67,1128.56 1523.23,1124.44 1524.35,1126.77 1524.91,1124.11 1525.47,1124.82 1526.03,1123.47 1526.59,1124.25 1527.15,1124.25 1527.71,1126.47 1528.27,1126.78 1528.83,1126.24 1529.39,1128.21 1529.95,1128.74 1530.51,1127.61 1531.63,1128.52 1532.19,1128.56 1532.75,1130.56 1533.31,1129.83 1533.87,1129.46 1534.43,1129.73 1534.99,1130.75 1535.55,1130.19 1536.11,1130.65 1536.67,1130.03 1537.23,1131.23 1537.79,1131.06 1538.35,1128.14 1538.91,1129.13 1539.47,1129.33 1540.03,1127.41 1540.59,1128.08 1541.15,1127.29 1541.71,1126.87 1542.27,1125.81 1543.39,1125.45 1543.95,1123.20 1545.07,1123.16 1545.63,1125.35 1546.19,1123.49 1547.31,1122.63 1547.87,1121.56 1548.43,1120.95 1548.99,1122.07 1549.55,1120.85 1550.11,1121.51 1551.23,1121.42 1551.79,1121.64 1552.35,1122.18 1553.47,1125.60 1554.03,1123.06 1554.59,1124.97 1555.15,1126.09 1555.71,1125.34 1556.83,1127.79 1557.39,1126.96 1557.95,1130.63 1558.51,1130.51 1559.07,1130.77 1560.19,1131.73 1560.75,1133.92 1561.31,1131.73 1561.87,1132.25 1562.43,1130.90 1562.99,1131.93 1563.55,1131.35 1564.11,1131.59 1564.67,1131.09 1565.23,1131.26 1565.79,1132.47 1566.35,1132.67 1566.91,1132.45 1567.47,1131.07 1568.03,1131.84 1568.59,1129.16 1569.15,1132.58 1569.71,1131.52 1570.27,1131.72 1570.83,1132.57 1571.39,1131.15 1571.95,1132.52 1572.51,1131.24 1573.07,1132.28 1573.63,1131.43 1574.19,1131.69 1574.75,1132.60 1575.31,1130.10 1575.87,1130.19 1576.99,1130.93 1577.55,1133.23 1578.11,1129.93 1578.67,1128.38 1579.23,1129.94 1579.79,1129.26 1580.35,1130.55 1580.91,1131.24 1581.47,1130.40 1582.03,1130.66 1582.59,1129.89 1583.15,1132.23 1583.71,1131.59 1584.27,1133.51 1584.83,1133.39 1585.39,1131.62 1586.51,1131.85 1587.07,1132.72 1587.63,1130.02 1588.19,1130.96 1588.75,1132.85 1589.31,1131.10 1589.87,1131.69 1590.43,1131.31 1590.99,1130.52 1591.55,1132.52 1592.11,1131.71 1592.67,1131.78 1593.23,1132.79 1593.79,1132.54 1594.35,1129.67 1594.91,1131.56 1595.47,1130.78 1596.03,1131.25 1596.59,1130.49 1597.15,1130.50 1597.71,1132.16 1598.27,1131.07 1598.83,1130.96 1599.39,1131.15 1599.95,1131.91 1600.51,1131.69 1601.07,1129.39 1601.63,1130.99 1603.31,1133.51 1603.87,1131.57 1604.43,1134.30 1604.99,1132.30 1605.55,1133.02 1606.11,1132.19 1606.67,1132.00 1607.23,1133.93 1607.79,1132.17 1608.35,1132.34 1609.47,1134.04 1610.03,1130.97 1610.59,1132.21 1611.15,1132.48 1611.71,1134.55 1612.27,1135.06 1612.83,1132.87 1613.39,1132.72 1614.51,1133.46 1615.07,1132.28 1615.63,1133.34 1616.75,1130.41 1618.43,1133.96 1618.99,1131.33 1619.55,1131.45 1620.11,1132.90 1620.67,1129.55 1621.23,1133.25 1621.79,1133.41 1622.35,1129.93 1622.91,1133.26 1623.47,1132.32 1624.03,1133.67 1624.59,1132.84 1625.15,1132.64 1626.27,1133.73 1626.83,1133.02 1627.39,1132.70 1627.95,1131.65 1628.51,1133.85 1629.07,1133.52 1629.63,1134.94 1630.19,1133.47 1630.75,1133.52 1631.31,1133.23 1631.87,1134.49 1632.99,1133.13 1633.55,1135.10 1634.11,1135.04 1634.67,1132.99 1635.23,1132.10 1635.79,1134.06 1636.35,1132.17 1636.91,1135.66 1637.47,1132.59 1638.03,1133.48 1638.59,1131.22 1639.71,1133.78 1640.27,1133.45 1640.83,1132.38 1641.39,1135.01 1641.95,1132.93 1642.51,1132.30 1643.07,1131.82 1643.63,1131.91 1644.19,1132.99 1644.75,1130.67 1645.31,1130.72 1645.87,1129.76 1646.43,1131.27 1646.99,1129.70 1647.55,1129.98 1648.11,1129.42 1648.67,1128.05 1649.23,1129.24 1649.79,1129.30 1650.35,1127.18 1650.91,1128.68 1651.47,1131.65 1652.00,1127.50 1652.03,1129.01 1652.59,1126.76 1653.15,1128.47 1653.71,1127.29 1654.27,1128.41 1655.39,1127.17 1655.95,1129.64 1656.51,1128.61 1657.07,1128.26 1657.63,1129.58 1658.19,1129.13 1658.75,1130.56 1659.31,1130.72 1659.87,1130.58 1660.43,1131.77 1660.99,1130.19 1661.55,1132.68 1662.11,1129.88 1662.67,1133.77 1663.23,1132.44 1663.79,1132.63 1664.35,1132.41 1664.91,1133.66 1665.47,1133.32 1666.03,1133.30 1666.59,1134.48 1667.15,1133.29 1667.71,1133.63 1668.83,1135.17 1669.39,1133.94 1669.95,1134.38 1670.51,1133.98 1671.63,1135.31 1672.19,1133.16 1672.75,1133.65 1673.31,1133.66 1674.43,1135.00 1674.99,1133.46 1675.55,1133.49 1676.11,1134.40 1676.67,1131.30 1677.79,1131.49 1678.91,1131.21 1679.47,1130.04 1680.03,1131.85 1680.59,1129.23 1681.15,1129.41 1681.71,1131.00 1682.27,1130.48 1682.83,1129.45 1683.95,1129.74 1684.51,1129.27 1685.07,1129.84 1685.63,1128.24 1686.19,1129.15 1686.75,1127.07 1687.31,1127.67 1687.87,1127.39 1688.43,1129.81 1688.99,1128.46 1689.55,1128.94 1690.11,1127.49 1690.67,1128.32 1691.23,1128.21 1691.79,1127.81 1692.35,1129.95 1692.91,1127.67 1694.03,1131.58 1694.59,1128.52 1695.15,1130.00 1695.71,1128.56 1696.27,1130.06 1696.83,1128.57 1697.39,1130.92 1698.51,1128.69 1699.07,1129.55 1699.63,1129.38 1700.75,1131.56 1701.31,1130.67 1701.87,1130.18 1702.43,1130.40 1702.99,1131.84 1703.55,1129.52 1704.11,1132.58 1704.67,1132.50 1705.23,1130.01 1705.79,1133.72 1706.35,1131.33 1707.47,1134.43 1708.03,1131.53 1708.59,1131.43 1709.71,1131.68 1710.27,1132.57 1710.83,1132.20 1711.95,1132.09 1712.51,1132.60 1713.07,1132.17 1713.63,1133.12 1714.19,1132.96 1714.75,1132.09 1715.31,1134.98 1715.87,1132.38 1716.43,1134.36 1716.99,1132.84 1717.55,1133.61 1718.11,1133.82 1718.67,1134.45 1719.23,1135.47 1719.79,1133.43 1720.35,1137.18 1720.91,1134.79 1721.47,1133.76 1722.03,1133.56 1722.59,1137.38 1723.15,1136.72 1723.71,1134.97 1724.83,1136.15 1725.39,1134.87 1725.95,1134.47 1726.51,1134.95 1727.07,1135.88 1728.19,1134.26 1728.75,1136.80 1729.31,1134.80 1729.87,1135.71 1730.43,1137.60 1730.99,1136.47 1731.55,1136.41 1732.11,1136.05 1732.67,1137.07 1733.79,1133.88 1734.35,1135.76 1734.91,1132.76 1735.47,1133.67 1736.03,1137.53 1736.59,1137.20 1737.15,1135.73 1738.27,1136.26 1738.83,1136.78 1739.39,1135.32 1739.95,1135.21 1740.51,1135.37 1741.07,1135.84 1741.63,1135.89 1742.19,1135.48 1742.75,1136.73 1743.31,1135.07 1743.87,1136.02 1744.99,1134.97 1745.55,1137.17 1746.11,1135.55 1746.67,1134.73 1747.23,1135.66 1747.79,1134.54 1748.35,1135.85 1748.91,1135.97 1749.47,1135.75 1750.03,1133.65 1750.59,1134.26 1751.15,1136.06 1751.71,1133.87 1752.27,1134.89 1752.83,1134.78 1753.39,1131.31 1753.95,1133.26 1754.51,1132.41 1755.07,1132.40 1755.63,1132.96 1756.75,1130.29 1757.31,1130.40 1757.87,1129.11 1758.43,1129.82 1758.99,1126.90 1759.55,1129.91 1760.11,1126.93 1760.67,1127.17 1761.79,1126.22 1762.91,1125.88 1763.47,1123.97 1764.03,1124.95 1765.15,1124.91 1765.71,1128.03 1766.27,1127.32 1766.83,1128.00 1767.39,1126.73 1767.95,1127.32 1768.51,1128.61 1769.07,1129.15 1770.19,1129.04 1770.75,1130.55 1771.31,1130.81 1771.87,1134.26 1772.43,1132.99 1773.55,1134.75 1774.11,1134.67 1774.67,1135.60 1775.79,1133.38 1776.35,1136.39 1776.91,1133.86 1777.47,1134.21 1778.03,1134.01 1778.59,1134.28 1779.71,1135.67 1780.27,1133.95 1780.83,1135.73 1781.39,1134.96 1781.95,1136.91 1782.51,1134.70 1783.07,1135.91 1783.63,1136.55 1784.19,1134.38 1784.75,1136.05 1785.31,1136.37 1785.87,1134.99 1786.43,1135.34 1786.99,1136.51 1788.11,1134.95 1788.67,1135.26 1789.79,1136.53 1790.35,1136.01 1791.47,1137.32 1792.03,1134.73 1792.59,1134.78 1793.15,1134.54 1793.71,1137.50 1794.27,1134.86 1794.83,1136.73 1795.39,1137.65 1795.95,1135.59 1796.51,1136.19 1797.07,1135.98 1797.63,1137.00 1798.19,1134.62 1798.75,1136.29 1799.31,1136.62 1800.43,1136.07 1800.99,1137.12 1801.55,1136.35 1802.11,1136.29 1802.67,1135.78 1803.23,1136.90 1803.79,1135.87 1804.35,1136.50 1804.91,1135.85 1805.47,1136.83 1806.03,1135.05 1808.27,1137.24 1808.83,1136.77 1809.95,1138.75 1810.51,1137.71 1811.07,1136.04 1811.63,1136.23 1812.19,1138.27 1812.75,1137.18 1813.31,1137.58 1813.87,1137.14 1814.43,1138.28 1814.99,1138.17 1815.55,1136.06 1816.11,1137.07 1817.23,1135.43 1817.79,1137.44 1818.35,1137.08 1818.91,1137.58 1819.47,1139.56 1820.03,1138.81 1820.59,1138.89 1821.15,1137.58 1821.71,1136.89 1822.27,1139.39 1822.83,1137.90 1823.39,1137.98 1823.95,1137.59 1824.51,1138.18 1825.07,1140.09 1825.63,1137.32 1826.75,1137.86 1827.31,1137.46 1827.87,1135.80 1828.43,1135.33 1828.99,1136.27 1829.55,1136.44 1830.11,1135.83 1831.23,1135.18 1832.35,1135.96 1832.91,1134.56 1834.03,1136.47 1834.59,1135.95 1835.15,1134.73 1835.71,1135.79 1836.27,1135.74 1836.83,1136.40 1837.39,1133.75 1837.95,1135.97 1838.51,1134.50 1839.07,1134.95 1839.63,1134.82 1840.19,1133.03 1840.75,1132.78 1841.87,1134.41 1842.99,1132.21 1844.67,1134.09 1845.23,1132.49 1845.79,1132.53 1846.91,1132.09 1847.47,1131.24 1848.59,1132.43 1849.71,1132.01 1850.27,1131.27 1851.39,1132.07 1851.95,1133.77 1852.51,1134.14 1853.07,1133.35 1853.63,1134.69 1854.19,1133.55 1854.75,1134.16 1855.31,1133.55 1855.87,1135.20 1856.43,1134.71 1856.99,1135.87 1857.55,1136.47 1858.67,1135.73 1859.23,1136.36 1859.79,1136.48 1860.35,1136.89 1860.91,1137.70 1861.47,1137.02 1862.03,1136.88 1862.59,1138.78 1863.71,1136.32 1864.27,1135.83 1865.39,1136.39 1865.95,1136.98 1866.51,1138.33 1867.07,1135.90 1868.19,1135.96 1868.75,1136.52 1869.87,1135.85 1870.43,1137.93 1870.99,1136.98 1871.55,1138.07 1872.11,1136.52 1872.67,1137.21 1873.23,1137.55 1873.79,1135.36 1874.35,1135.66 1874.91,1137.42 1875.47,1136.81 1876.03,1135.02 1876.59,1135.99 1877.15,1135.53 1877.71,1136.07 1878.27,1137.76 1878.83,1135.60 1879.39,1138.13 1879.95,1135.87 1880.51,1135.23 1881.07,1137.28 1881.63,1136.28 1882.75,1137.74 1883.31,1137.04 1883.87,1137.42 1884.43,1134.65 1884.99,1135.40 1885.55,1136.87 1886.11,1136.65 1886.67,1137.30 1887.23,1135.73 1887.79,1137.33 1888.35,1138.00 1888.91,1136.56 1890.03,1136.44 1890.59,1136.67 1891.71,1135.63 1892.27,1136.42 1892.83,1136.22 1893.39,1134.54 1893.95,1135.96 1895.07,1136.13 1895.63,1135.60 1896.19,1136.37 1896.75,1136.47 1897.31,1135.40 1898.43,1136.77 1898.99,1137.01 1899.55,1135.43 1900.11,1135.19 1900.67,1136.14 1901.23,1135.20 1901.79,1138.36 1902.35,1135.41 1902.91,1135.43 1903.47,1136.89 1904.59,1133.94 1905.15,1135.77 1905.71,1134.99 1906.27,1135.58 1906.83,1134.83 1907.95,1136.15 1908.51,1136.11 1909.07,1135.38 1909.63,1135.83 1910.19,1135.78 1910.75,1136.67 1911.31,1136.35 1911.87,1135.28 1912.43,1136.95 1912.99,1135.68 1913.55,1136.73 1914.11,1135.52 1914.67,1136.51 1915.79,1136.13 1916.35,1136.60 1917.47,1135.93 1918.03,1135.89 1918.59,1134.64 1919.15,1135.60 1919.71,1134.12 1920.27,1134.28 1920.83,1135.86 1921.39,1135.86 1921.95,1137.67 1922.51,1136.95 1923.07,1137.50 1923.63,1136.25 1924.75,1137.43 1925.31,1136.84 1925.87,1136.98 1926.43,1136.76 1926.99,1135.66 1927.55,1135.98 1928.11,1135.46 1928.67,1137.31 1929.79,1137.02 1930.35,1137.87 1930.91,1137.20 1932.03,1139.70 1932.59,1138.22 1933.71,1136.32 1934.27,1139.10 1935.39,1136.41 1935.95,1138.43 1936.51,1136.02 1937.07,1137.06 1937.63,1137.51 1938.19,1137.57 1938.75,1136.91 1939.31,1140.45 1939.87,1137.83 1940.43,1138.41 1940.99,1138.04 1941.55,1136.78 1943.23,1138.98 1943.79,1138.00 1944.35,1138.59 1944.91,1137.82 1945.47,1138.75 1946.03,1135.96 1946.59,1138.59 1947.15,1137.33 1947.71,1137.37 1948.27,1135.31 1949.39,1137.66 1949.95,1139.38 1950.51,1136.59 1951.07,1136.60 1951.63,1137.50 1952.19,1137.41 1952.75,1136.72 1953.31,1136.86 1953.87,1136.32 1954.43,1137.34 1954.99,1137.49 1955.55,1138.36 1956.11,1137.64 1957.23,1136.76 1957.79,1137.34 1958.35,1135.51 1958.91,1138.58 1959.47,1137.05 1960.03,1137.89 1960.59,1135.68 1961.15,1137.21 1962.83,1135.17 1963.39,1135.11 1963.95,1137.42 1964.51,1136.81 1965.07,1135.58 1965.63,1135.39 1966.75,1133.64 1967.31,1133.56 1967.87,1134.37 1968.43,1134.53 1968.99,1133.48 1969.55,1135.21 1970.11,1134.76 1970.67,1134.68 1971.23,1132.77 1971.79,1134.20 1972.35,1134.29 1973.47,1132.62 1974.03,1136.80 1975.15,1134.38 1975.71,1136.24 1976.27,1136.04 1976.83,1135.18 1977.39,1135.31 1978.51,1136.72 1979.07,1135.22 1979.63,1135.02 1980.19,1135.81 1980.75,1132.94 1981.31,1135.61 1981.87,1135.61 1982.43,1135.92 1982.99,1135.67 1983.55,1136.00 1984.11,1135.71 1985.79,1136.19 1986.35,1135.49 1986.91,1136.80 1987.47,1134.39 1988.03,1136.46 1988.59,1136.98 1989.15,1135.62 1989.71,1136.26 1990.27,1138.27 1991.39,1136.42 1991.95,1134.78 1992.51,1137.86 1993.07,1137.44 1993.63,1137.74 1994.19,1139.14 1994.75,1137.57 1995.31,1137.78 1995.87,1136.88 1996.43,1137.65 1996.99,1137.56 1997.55,1138.48 1998.11,1138.29 1998.67,1137.21 1999.23,1137.69 1999.79,1139.56 2000.35,1137.14 2000.91,1138.73 2001.47,1139.37 2002.03,1138.43 2002.59,1137.99 2003.15,1138.97 2003.71,1138.16 2004.83,1137.57 2005.39,1138.90 2005.95,1138.59 2006.51,1139.40 2007.07,1137.96 2007.63,1138.40 2008.19,1138.09 2008.75,1138.72 2009.31,1137.71 2009.87,1139.14 2010.43,1138.59 2011.55,1135.35 2012.11,1136.09 2012.67,1138.60 2013.23,1137.50 2013.79,1137.46 2014.35,1137.12 2014.91,1137.54 2015.47,1135.29 2016.03,1135.10 2016.59,1135.27 2017.15,1136.93 2017.71,1137.36 2018.83,1136.06 2019.39,1134.60 2019.95,1136.40 2020.51,1135.39 2021.07,1135.54 2021.63,1135.27 2022.75,1133.90 2023.31,1134.14 2023.87,1133.37 2024.43,1134.58 2024.99,1134.21 2025.55,1135.41 2026.11,1132.82 2026.67,1135.66 2027.23,1134.32 2027.79,1134.34 2028.35,1133.47 2028.91,1133.68 2029.47,1132.81 2030.03,1134.98 2030.59,1133.95 2031.15,1134.58 2031.71,1134.28 2032.27,1133.03 2033.39,1133.45 2033.95,1134.71 2034.51,1134.26 2035.07,1134.24 2035.63,1134.47 2036.19,1134.05 2036.75,1136.31 2037.31,1133.84 2037.87,1136.02 2038.43,1136.15 2038.99,1133.74 2039.55,1135.35 2040.11,1135.32 2040.67,1136.08 2041.23,1134.35 2041.79,1136.36 2042.35,1135.55 2042.91,1136.45 2043.47,1138.12 2044.59,1135.71 2045.71,1137.01 2046.27,1139.22 2046.83,1137.51 2047.39,1136.58 2047.95,1138.92 2048.51,1138.43 2049.07,1138.52 2049.63,1137.39 2050.19,1139.48 2051.31,1136.06 2053.55,1138.53 2054.11,1137.05 2054.67,1137.28 2055.23,1139.63 2055.79,1137.73 2056.35,1137.22 2056.91,1137.57 2057.47,1135.98 2058.03,1137.44 2058.59,1137.94 2059.15,1136.64 2059.71,1138.20 2060.27,1137.17 2060.83,1137.66 2061.39,1136.80 2062.51,1136.78 2063.07,1138.37 2063.63,1137.80 2064.19,1137.75 2064.75,1136.95 2065.31,1136.84 2065.87,1137.23 2066.43,1138.25 2066.99,1138.32 2067.55,1137.14 2068.67,1139.54 2069.23,1138.30 2069.79,1139.72 2070.35,1138.32 2070.91,1139.18 2071.47,1137.29 2072.03,1138.66 2072.59,1136.67 2073.15,1137.75 2073.71,1137.58 2074.27,1135.92 2074.83,1136.68 2075.39,1138.87 2075.95,1138.33 2076.51,1139.31 2077.07,1138.19 2077.63,1135.20 2078.19,1138.05 2078.75,1136.87 2080.43,1136.91 2080.99,1136.58 2081.55,1138.40 2082.11,1137.82 2082.67,1136.78 2083.23,1136.81 2083.79,1138.16 2084.35,1137.54 2084.91,1137.35 2085.47,1135.88 2086.03,1136.51 2087.15,1135.53 2087.71,1138.34 2088.27,1137.66 2088.83,1137.62 2089.39,1137.07 2089.95,1138.90 2090.51,1140.03 2091.07,1139.00 2091.63,1139.14 2092.19,1136.95 2092.75,1138.12 2093.31,1137.73 2093.87,1138.91 2094.99,1136.76 2095.55,1137.65 2096.11,1137.40 2096.67,1139.23 2097.23,1138.36 2097.79,1138.17 2098.91,1139.18 2099.47,1138.11 2100.03,1137.62 2100.59,1136.50 2101.15,1138.98 2101.71,1138.25 2102.27,1138.64 2102.83,1137.99 2103.39,1139.09 2103.95,1136.76 2104.51,1138.72 2105.07,1136.88 2105.63,1137.34 2106.19,1136.82 2106.75,1138.00 2107.31,1137.57 2107.87,1138.34 2108.99,1136.71 2109.55,1138.31 2110.11,1138.78 2111.23,1138.15 2111.79,1138.68 2112.35,1136.43 2113.47,1138.57 2114.59,1136.51 2115.15,1138.23 2115.71,1137.03 2116.27,1137.49 2116.83,1135.56 2117.95,1137.50"/>
<path stroke="#ff0000" stroke-width="7.6" d="M138.35,841.35 138.91,841.48 139.47,841.15 140.03,841.85 140.59,843.82 141.15,840.28 141.71,843.06 142.27,843.22 142.83,841.11 143.39,840.68 145.07,844.35 145.63,843.22 146.19,844.00 146.75,841.59 147.31,840.99 147.87,839.53 149.55,840.77 150.11,838.54 150.67,840.29 151.23,838.97 151.79,838.41 152.35,838.18 152.91,841.43 153.47,839.38 154.03,838.17 154.59,837.83 155.15,840.91 155.71,838.41 156.27,840.86 156.83,840.51 157.39,836.55 157.95,840.17 158.51,837.81 159.07,836.89 159.63,837.24 160.19,838.37 160.75,838.17 161.31,837.42 161.87,836.00 162.43,837.84 162.99,838.16 163.55,838.97 164.11,837.76 164.67,838.73 165.23,838.57 165.79,836.75 166.35,836.92 166.91,836.84 167.47,836.43 168.03,836.85 168.59,833.74 169.15,835.06 169.71,835.64 170.27,832.90 170.83,833.64 171.39,836.81 171.95,833.73 173.07,835.54 173.63,834.22 174.19,833.82 174.75,834.40 175.31,834.48 175.87,834.03 176.99,836.13 177.55,834.26 178.11,835.40 178.67,834.14 179.23,833.95 179.79,833.16 180.35,831.76 180.91,832.38 181.47,831.75 182.03,829.96 182.59,832.01 183.15,831.66 183.71,831.66 184.27,830.83 184.83,828.50 185.39,833.13 186.51,828.62 187.07,831.75 187.63,829.59 188.19,831.19 188.75,829.96 189.31,830.87 189.87,829.48 190.99,828.89 191.55,830.03 192.11,827.16 192.67,830.00 193.23,828.91 193.79,827.06 194.35,827.54 194.91,826.75 196.03,828.09 196.59,826.08 197.15,827.56 197.71,827.81 198.27,827.65 198.83,828.52 199.39,826.05 199.95,827.00 200.51,829.13 201.07,825.86 202.19,825.18 202.75,825.45 203.31,823.97 203.87,824.61 204.43,822.83 204.99,823.72 205.55,823.31 206.11,823.19 206.67,823.89 207.23,825.33 208.35,822.39 208.91,823.66 209.47,823.46 210.03,821.23 210.59,822.79 211.15,821.01 211.71,821.32 212.27,820.94 212.83,822.88 213.39,820.48 214.51,821.27 215.07,822.21 215.63,822.44 216.19,819.32 216.75,821.89 217.31,820.40 217.87,821.37 218.43,820.96 218.99,818.91 219.55,819.39 220.11,817.92 220.67,818.52 221.23,820.34 221.79,817.77 222.35,816.89 222.91,821.03 223.47,816.50 224.03,817.70 224.59,817.56 225.15,816.45 225.71,819.03 226.27,819.33 226.83,818.13 227.39,818.08 227.95,817.61 228.51,815.49 229.07,817.88 229.63,815.81 230.19,815.79 230.75,816.83 231.31,817.10 231.87,814.32 232.43,816.44 232.99,816.56 233.55,814.14 234.11,813.62 234.67,813.70 235.23,813.04 235.79,811.93 236.35,813.65 236.91,813.61 237.47,812.17 238.59,810.97 239.15,810.92 240.27,808.92 240.83,812.16 241.39,809.93 241.95,809.84 242.51,811.42 243.07,808.92 243.63,810.13 244.19,806.51 245.31,808.05 246.43,804.54 246.99,804.24 247.55,806.18 248.11,803.67 248.67,805.07 249.79,802.73 250.35,802.27 250.91,802.52 252.03,798.82 252.59,800.01 253.15,798.56 253.71,798.16 254.27,798.44 254.83,797.59 255.39,798.25 255.95,796.36 256.51,795.50 257.07,795.17 257.63,795.40 258.19,793.24 258.75,793.29 259.87,791.42 260.43,791.33 260.99,794.66 261.55,790.04 262.11,790.39 263.23,788.67 263.79,788.46 264.35,790.61 264.91,787.33 265.47,789.55 266.59,785.15 267.15,784.53 267.71,784.40 268.27,782.92 268.83,785.48 269.39,783.98 269.95,783.36 270.51,780.81 271.07,782.04 271.63,779.58 272.19,783.61 272.75,779.19 273.31,778.97 273.87,778.41 274.43,776.70 274.99,776.08 275.55,775.81 276.11,777.75 276.67,775.00 277.23,775.24 277.79,775.95 278.91,772.30 279.47,771.95 280.03,772.84 280.59,771.68 281.15,773.23 281.71,770.79 282.27,770.07 282.83,767.51 283.39,769.04 284.51,765.83 285.07,766.29 285.63,769.44 286.19,764.20 286.75,763.67 287.31,766.17 287.87,765.46 288.43,763.77 288.99,766.00 289.55,760.75 290.11,761.41 290.67,759.71 291.23,764.62 291.79,762.23 292.35,766.13 292.91,762.69 293.47,762.42 294.03,759.30 294.59,759.03 295.15,759.76 295.71,761.68 296.27,757.79 296.83,755.62 297.39,760.63 297.95,760.06 298.51,756.37 299.07,758.45 299.63,759.05 300.19,758.98 300.75,754.33 301.31,757.61 301.87,755.14 302.43,758.00 303.55,754.00 304.11,755.36 304.67,756.07 305.23,752.18 305.79,751.77 306.35,751.79 306.91,752.85 307.47,752.07 308.03,749.27 308.59,749.90 309.15,752.24 309.71,753.00 310.27,750.68 311.39,755.67 311.95,752.00 312.51,751.00 313.07,750.51 313.63,752.20 314.19,752.64 314.75,753.49 315.31,752.50 315.87,753.28 316.43,753.14 316.99,752.30 317.55,755.55 318.11,751.02 318.67,755.27 319.23,753.19 319.79,753.88 320.35,755.94 320.91,753.80 322.03,754.21 322.59,756.23 323.15,756.59 323.71,754.15 324.27,755.75 324.83,758.29 325.39,756.05 325.95,752.31 326.51,753.21 327.07,753.69 327.63,755.33 328.19,753.76 328.75,756.87 329.31,753.64 329.87,757.16 330.43,753.21 330.99,756.60 331.55,755.22 332.11,757.60 332.67,758.75 333.23,758.78 333.79,758.33 334.35,755.42 334.91,755.59 335.47,752.27 336.03,760.64 337.15,761.04 337.71,757.47 338.27,763.69 338.83,758.05 339.39,761.12 339.95,757.16 340.51,758.74 341.07,761.43 341.63,760.84 342.19,757.30 343.31,762.15 343.87,757.23 344.43,761.83 344.99,757.82 345.55,762.34 346.11,761.61 346.67,763.99 347.23,761.51 348.35,762.10 348.91,761.84 349.47,762.79 350.03,762.47 350.59,762.82 351.15,764.80 351.71,763.24 352.27,766.39 352.83,766.13 353.39,766.89 353.95,764.38 355.07,769.20 355.63,769.01 356.75,771.65 357.31,766.97 357.87,771.06 358.43,771.23 359.55,768.44 360.11,770.68 360.67,770.62 361.23,774.08 361.79,773.34 362.35,771.14 362.91,769.91 363.47,770.56 364.03,772.27 364.59,771.36 365.15,775.86 365.71,770.98 366.27,773.24 366.83,773.29 367.39,773.98 367.95,771.90 369.07,774.21 369.63,774.34 370.19,773.66 370.75,773.51 371.31,774.05 371.87,776.70 372.43,771.33 372.99,774.76 373.55,776.35 374.11,771.31 374.67,775.92 375.23,775.33 375.79,773.65 376.91,776.10 377.47,772.88 378.03,773.72 378.59,771.45 379.71,773.26 380.27,773.38 380.83,776.00 381.95,771.73 382.51,775.51 384.19,773.36 384.75,772.12 385.31,772.21 385.87,775.45 386.99,772.65 387.55,773.01 388.67,770.65 389.79,772.45 390.35,769.57 390.91,770.06 391.47,769.47 392.59,773.32 393.15,770.62 393.71,770.92 394.27,769.72 394.83,771.58 395.39,770.03 395.95,769.89 396.51,769.13 397.07,774.42 397.63,770.40 398.19,768.44 398.75,768.16 399.31,769.77 399.87,769.06 400.43,768.25 400.99,764.53 401.55,769.19 402.11,769.03 402.67,768.37 403.79,766.21 404.35,767.59 404.91,764.20 405.47,765.41 406.03,762.24 407.71,760.03 408.27,760.13 408.83,761.80 409.39,762.56 409.95,759.14 410.51,757.78 411.07,761.17 411.63,758.02 412.19,758.38 412.75,757.51 413.31,757.94 413.87,753.99 414.43,756.56 414.99,754.72 415.55,749.05 416.11,751.29 416.67,750.27 417.23,750.50 418.35,747.18 419.47,747.63 420.59,745.25 421.15,748.16 422.27,741.36 422.83,742.06 423.39,741.75 423.95,738.07 424.51,738.48 425.63,732.47 426.19,735.31 426.75,734.55 428.43,728.58 428.99,729.15 429.55,728.34 430.67,727.65 431.23,726.26 431.79,722.44 432.35,722.31 432.91,718.98 433.47,721.16 434.03,720.00 434.59,719.97 435.15,717.59 435.71,717.67 436.27,712.14 436.83,712.98 437.39,710.28 437.95,708.80 438.51,704.37 439.07,704.49 439.63,700.71 440.19,702.19 440.75,700.94 441.31,700.73 441.87,695.46 442.43,696.40 442.99,694.42 443.55,689.60 444.11,694.65 445.23,686.93 445.79,689.54 446.35,686.59 446.91,678.30 447.47,680.14 448.03,678.64 448.59,677.76 449.15,674.02 449.71,674.66 450.27,673.90 450.83,667.24 451.39,670.92 451.95,671.85 452.51,668.70 453.07,669.01 453.63,668.46 454.19,665.04 454.75,662.89 455.31,661.58 455.87,658.52 456.43,663.04 456.99,656.76 457.55,655.24 458.67,653.83 459.23,646.48 459.79,645.61 460.35,646.14 460.91,645.24 461.47,639.68 462.03,638.92 462.59,641.85 463.15,640.60 463.71,636.67 465.39,630.49 465.95,629.20 466.51,629.91 467.07,626.71 467.63,627.10 468.19,619.86 468.75,618.36 469.31,621.01 469.87,616.06 470.99,614.24 471.55,609.86 472.11,607.99 472.67,610.45 473.23,602.65 473.79,608.37 474.35,601.45 474.91,605.42 475.47,602.77 476.03,601.56 476.59,600.94 477.15,598.44 477.71,593.78 478.27,597.50 478.83,594.35 479.39,594.00 480.51,590.88 481.07,591.82 481.63,590.36 482.75,583.87 483.31,583.47 483.87,582.25 484.43,586.09 485.55,582.78 486.11,582.06 486.67,579.65 487.23,583.51 487.70,580.50 487.79,578.11 488.35,581.64 488.91,582.13 489.47,580.76 490.03,578.38 490.59,580.08 491.15,586.82 491.71,586.82 492.27,590.95 492.83,586.78 493.39,590.31 493.95,588.74 494.51,595.05 495.07,587.43 495.63,593.44 496.19,597.12 496.75,592.06 497.87,593.98 498.43,593.45 498.99,599.03 499.55,599.29 500.11,598.49 500.67,601.29 501.23,606.53 501.79,603.52 502.35,604.27 502.91,612.78 503.47,607.53 504.03,610.10 504.59,616.25 505.15,614.64 505.71,611.84 506.27,615.76 506.83,614.12 507.39,619.10 507.95,622.00 508.51,620.28 509.07,628.45 510.19,632.41 510.75,632.42 511.87,640.36 512.99,646.44 513.55,643.46 514.11,648.24 514.67,649.71 515.79,656.05 516.35,661.47 516.91,659.77 517.47,663.61 518.03,664.82 518.59,666.97 519.15,671.85 519.71,669.23 521.39,683.86 521.95,680.23 522.51,681.81 523.07,683.60 525.31,696.23 525.87,696.58 526.43,699.93 526.99,698.32 528.11,704.48 528.67,702.24 529.23,708.09 529.79,710.75 530.35,710.44 530.91,711.91 531.47,712.57 532.03,711.60 532.59,714.83 533.15,715.21 533.71,717.78 534.83,720.71 535.39,719.09 536.51,727.74 537.07,727.94 537.63,727.26 538.19,727.06 538.75,731.30 539.31,730.99 539.87,728.80 540.99,738.20 541.55,732.75 542.11,737.39 542.67,737.27 543.23,739.68 543.79,740.18 544.35,740.46 544.91,739.07 545.47,743.67 546.03,745.06 546.59,745.65 547.15,744.61 547.71,747.03 548.27,752.76 548.83,748.50 549.39,750.53 549.95,750.22 551.63,756.81 552.19,756.38 552.75,756.68 553.87,759.33 554.43,759.32 554.99,759.96 555.55,762.97 556.11,760.46 556.67,762.59 557.23,761.69 557.79,762.40 558.35,765.82 558.91,762.66 560.03,767.76 560.59,765.60 561.71,764.11 562.27,762.30 562.83,765.72 563.39,766.70 563.95,770.33 564.51,770.59 565.07,767.50 565.63,771.18 566.19,769.36 566.75,773.81 567.87,772.53 568.43,771.27 568.99,774.58 569.55,773.82 570.11,775.29 570.67,774.25 571.23,773.79 571.79,776.15 572.35,773.76 572.91,776.61 573.47,775.86 574.03,773.86 574.59,777.67 575.15,776.89 575.71,776.58 576.27,777.28 576.83,778.64 577.39,776.04 577.95,776.29 578.51,779.73 579.07,779.08 579.63,776.31 580.19,779.64 580.75,777.61 581.31,781.74 581.87,781.39 582.43,782.07 582.99,779.46 583.55,780.61 584.11,783.02 584.67,780.00 585.23,782.93 585.79,782.00 586.35,782.35 586.91,781.11 587.47,783.08 588.03,782.84 588.59,783.87 589.15,786.86 589.71,782.47 590.27,783.55 590.83,781.95 591.39,786.41 591.95,783.22 592.51,785.90 593.07,782.88 593.63,783.89 594.19,785.80 594.75,786.00 595.31,785.15 595.87,786.89 596.43,786.27 596.99,788.14 597.55,785.95 598.11,787.50 598.67,786.51 599.23,788.96 599.79,787.20 600.35,786.70 600.91,785.73 601.47,787.68 602.03,785.98 602.59,785.10 603.15,787.65 603.71,784.13 604.27,785.92 604.83,784.07 605.39,778.06 605.95,777.47 607.00,773.00 607.07,775.63 607.63,774.37 608.19,778.93 608.75,782.44 609.31,784.61 609.87,788.54 610.43,787.67 610.99,789.79 611.55,788.46 612.11,789.91 612.67,787.98 613.23,789.57 613.79,790.43 614.35,790.89 615.47,794.55 616.03,789.59 616.59,792.71 617.15,791.48 617.71,792.09 618.83,792.62 619.39,793.30 620.51,795.51 621.07,794.60 621.63,794.43 622.19,795.48 622.75,795.09 623.31,797.00 623.87,793.52 624.43,792.85 624.99,794.50 625.55,795.19 626.11,794.51 626.67,795.50 627.23,791.65 627.79,794.59 628.35,795.16 628.91,793.93 630.59,797.19 631.15,795.43 631.71,794.78 632.83,800.10 633.39,797.85 633.95,797.98 634.51,796.51 635.63,800.04 636.19,795.57 636.75,799.66 637.31,795.16 637.87,799.89 638.99,797.73 639.55,798.79 640.11,800.83 640.67,797.42 641.23,800.26 642.35,799.08 642.91,801.44 643.47,797.07 644.03,799.25 644.59,797.78 645.15,799.78 645.71,800.49 646.27,797.41 646.83,799.89 647.39,799.74 647.95,798.28 649.07,801.12 649.63,800.11 650.19,802.19 650.75,798.58 651.31,798.60 651.87,802.25 652.43,799.25 652.99,802.95 653.55,801.02 654.11,801.90 654.67,800.45 655.23,802.16 655.79,802.78 656.35,802.85 656.91,801.57 657.47,799.28 658.03,802.16 658.59,801.28 659.15,803.05 659.71,799.20 660.27,801.75 660.83,800.29 661.39,800.78 661.95,802.42 662.51,802.27 663.07,803.46 663.63,802.31 664.19,802.55 664.75,802.46 665.31,800.81 665.87,804.33 666.43,801.56 666.99,802.09 667.55,803.57 668.11,801.94 668.67,802.72 669.23,800.47 669.79,802.94 670.35,802.86 670.91,803.88 671.47,806.13 672.03,805.44 672.59,805.77 673.71,807.52 674.27,807.35 675.39,805.71 675.95,807.18 676.51,805.61 677.07,805.39 677.63,806.53 678.75,803.75 679.31,803.77 680.43,804.90 680.99,804.47 681.55,801.66 682.11,801.87 683.23,797.83 683.79,800.31 684.35,795.07 684.91,793.39 686.03,791.84 686.59,788.05 687.15,787.55 687.71,782.97 688.27,781.83 688.83,778.94 689.95,770.50 691.07,755.72 691.80,738.00 692.75,757.73 693.87,768.48 694.99,775.82 696.11,780.52 697.23,786.90 698.35,795.45 700.03,804.53 700.59,806.27 701.71,806.39 702.83,807.41 703.39,807.38 703.95,806.46 705.07,809.38 706.19,808.11 706.75,809.50 707.31,809.93 707.87,808.04 708.43,811.47 708.99,810.59 709.55,808.20 710.11,809.81 710.67,808.87 711.23,809.24 711.79,806.92 712.35,807.52 713.47,807.48 714.03,807.15 714.59,806.15 715.15,806.64 715.71,808.19 716.27,807.26 716.83,810.08 717.39,809.38 717.95,807.70 718.51,808.01 719.07,805.58 719.63,808.05 720.19,808.11 720.75,805.80 721.31,804.98 722.43,804.27 723.55,796.05 724.67,790.48 726.35,778.38 728.03,758.15 729.15,737.40 730.27,703.25 731.39,680.03 731.95,678.34 732.51,683.25 733.63,688.76 734.19,684.79 735.31,680.47 735.87,674.43 736.43,670.89 736.60,674.20 736.99,677.13 737.55,691.35 738.67,733.11 739.23,747.52 742.03,795.74 743.15,802.99 744.27,804.33 744.83,804.15 745.39,805.05 745.95,807.49 747.07,807.37 747.63,810.12 748.19,808.38 748.75,808.02 749.87,811.88 750.99,813.54 751.55,811.79 752.11,813.73 753.23,813.57 753.79,812.38 754.35,815.09 755.47,812.79 756.03,814.23 756.59,816.84 757.15,811.60 758.27,816.39 758.83,816.96 759.39,814.14 759.95,815.20 760.51,813.09 761.07,815.36 761.63,813.46 762.19,814.37 762.75,817.24 763.31,813.32 763.87,812.13 764.43,814.22 765.55,814.44 766.11,815.99 766.67,813.50 767.79,815.15 768.35,814.30 768.91,816.42 770.03,814.32 770.59,814.03 771.71,814.19 772.27,811.08 773.39,812.72 773.95,812.94 774.51,813.76 775.07,813.82 775.63,814.71 776.19,814.41 776.75,815.72 777.87,815.44 778.99,814.40 779.55,815.60 780.11,814.16 781.23,816.32 781.79,815.35 782.35,813.20 782.91,813.89 783.47,816.93 784.03,812.28 784.59,816.17 785.15,813.11 786.27,814.98 786.83,812.44 787.39,814.81 787.95,810.76 788.51,813.53 789.07,812.76 789.63,813.73 790.19,814.07 790.75,814.80 791.31,814.81 791.87,812.85 792.43,812.15 792.99,813.74 793.55,812.56 794.11,810.55 794.67,810.47 795.23,812.41 795.79,812.22 796.35,812.67 796.91,812.32 797.47,809.79 798.03,812.36 798.59,810.49 799.15,812.78 799.71,811.94 800.27,813.49 801.39,809.16 802.51,809.43 803.07,808.91 803.63,807.93 804.19,805.18 804.75,805.00 805.31,807.52 805.87,806.61 806.43,807.51 806.99,806.59 807.55,807.66 808.11,806.70 808.67,804.48 809.23,806.49 809.79,804.19 811.47,808.68 812.03,809.43 812.59,807.12 813.15,811.01 813.71,808.83 814.27,810.90 814.83,810.16 815.39,812.91 815.95,811.47 817.07,811.73 818.19,809.71 818.75,811.94 819.31,810.61 819.87,810.47 820.43,806.48 820.99,806.31 821.55,810.73 822.11,809.17 822.67,806.07 823.23,808.73 823.79,808.30 824.35,806.29 824.91,806.92 825.47,809.95 826.03,806.26 826.59,807.71 827.15,805.42 827.71,804.46 828.27,809.47 829.39,805.34 830.51,804.39 831.07,802.97 831.63,804.59 832.19,804.64 832.75,802.69 833.31,802.82 833.87,800.56 834.43,802.79 834.99,799.94 836.11,804.67 836.67,801.96 837.23,806.07 837.79,801.20 838.35,802.07 838.91,802.38 839.47,803.45 840.03,803.51 841.15,799.02 841.71,802.76 842.27,801.60 842.83,801.79 843.39,799.15 843.95,802.13 844.51,801.48 845.63,805.43 846.19,802.83 846.75,804.80 847.31,805.65 847.87,804.82 848.43,805.87 848.99,805.66 849.55,803.66 850.11,803.21 850.67,804.07 851.23,800.91 851.79,802.57 852.91,801.65 853.47,798.69 854.03,801.79 854.59,801.91 855.00,798.75 855.15,801.04 855.71,800.86 856.83,799.28 857.39,801.90 857.95,800.80 859.07,805.14 859.63,805.94 860.19,805.93 860.75,807.14 861.31,807.10 861.87,807.60 862.43,806.58 862.99,806.55 863.55,807.46 864.11,806.51 865.23,811.58 865.79,809.60 866.35,810.60 866.91,808.04 867.47,809.41 868.03,808.09 868.59,810.48 869.15,810.05 869.71,808.80 870.27,811.82 870.83,809.80 871.39,810.85 872.51,811.62 873.07,810.99 873.63,809.68 874.19,808.93 874.75,808.96 875.31,808.40 875.87,811.78 876.43,809.01 876.99,811.28 877.55,808.62 878.11,809.33 878.67,811.56 879.23,811.11 879.79,810.27 880.35,813.49 880.91,810.58 881.47,811.54 882.03,814.40 882.59,815.73 883.15,814.03 883.71,813.60 884.27,817.26 884.83,814.88 885.39,814.17 886.51,817.22 887.07,812.16 888.19,816.98 889.31,816.32 889.87,816.46 890.43,817.96 890.99,818.62 891.55,816.81 892.11,817.27 892.67,818.84 893.79,816.90 894.35,818.45 894.91,817.09 895.47,819.27 896.03,819.79 896.59,818.58 897.71,819.98 898.27,821.03 898.83,820.92 899.39,820.41 899.95,820.73 900.51,821.86 901.63,820.76 902.19,818.45 902.75,819.24 903.31,819.51 904.99,816.04 905.55,818.73 906.67,817.57 907.23,816.51 907.79,817.19 908.35,817.23 908.91,818.00 909.47,816.79 910.03,814.83 910.59,814.76 911.15,813.64 911.71,816.42 912.27,813.42 912.83,815.41 913.39,813.51 913.95,815.49 914.51,811.75 915.00,813.75 915.07,812.13 915.63,812.22 916.19,813.11 916.75,812.66 917.87,816.06 918.43,818.89 918.99,817.35 919.55,816.76 920.11,819.73 920.67,821.28 921.23,817.37 921.79,821.12 922.35,819.48 922.91,819.13 923.47,821.79 924.59,823.82 925.15,822.25 925.71,821.82 926.27,822.49 927.95,823.64 928.51,823.22 929.07,823.79 929.63,823.87 930.19,822.99 931.31,826.19 931.87,825.66 932.43,822.72 932.99,827.29 933.55,824.52 934.11,827.86 934.67,827.46 935.23,825.61 935.79,827.16 936.35,823.80 936.91,824.81 937.47,824.02 938.03,824.65 938.59,824.32 939.71,824.72 940.27,826.79 940.83,825.17 941.39,824.65 941.95,824.72 942.51,825.53 943.07,825.72 943.63,824.22 944.75,824.56 945.87,822.45 946.43,823.52 946.99,821.59 947.55,824.00 948.11,822.80 948.67,823.66 949.23,824.06 949.79,825.86 950.91,826.18 951.47,823.99 952.03,823.31 952.59,824.95 953.15,823.10 953.71,823.68 954.27,822.86 955.39,824.96 955.95,822.95 956.51,824.35 957.63,823.68 958.19,823.85 958.75,823.29 959.31,824.01 959.87,823.76 960.43,822.55 960.99,825.81 961.55,824.84 962.11,825.05 963.23,821.72 963.79,824.00 964.35,822.77 964.91,825.55 965.47,825.22 966.03,822.42 966.59,824.18 967.71,821.96 968.27,819.78 968.83,821.66 969.95,820.56 970.51,817.87 971.07,817.96 972.19,816.22 972.75,814.83 973.31,816.47 974.43,814.05 975.00,815.00 976.11,816.07 976.67,817.40 977.23,816.63 977.79,819.45 978.35,819.17 979.47,823.40 980.03,822.50 980.59,825.33 981.15,825.60 981.71,826.61 982.83,821.17 983.95,827.89 984.51,825.77 985.07,825.14 985.63,825.41 986.19,826.20 986.75,825.50 987.31,828.16 988.43,824.50 988.99,824.77 989.55,826.53 990.11,826.72 990.67,827.65 991.79,828.82 992.35,826.45 992.91,827.68 993.47,826.33 994.03,827.04 994.59,825.74 995.15,828.25 995.71,828.79 996.83,825.62 997.39,827.88 997.95,827.17 998.51,825.91 999.07,828.10 1000.19,827.89 1000.75,825.12 1001.31,827.98 1001.87,828.41 1002.43,826.44 1002.99,828.47 1003.55,827.26 1004.11,827.92 1004.67,824.92 1005.79,827.31 1006.35,825.13 1007.47,828.71 1008.03,825.04 1008.59,828.00 1009.15,826.93 1009.71,824.57 1010.83,822.32 1011.39,822.33 1011.95,818.74 1012.51,820.84 1013.07,817.12 1013.63,817.29 1014.19,815.61 1014.75,815.07 1015.31,811.69 1015.87,810.39 1016.43,811.18 1016.99,809.59 1017.55,805.67 1019.79,797.03 1020.91,791.43 1021.47,792.82 1022.03,791.41 1022.50,791.00 1022.59,793.10 1023.15,794.26 1023.71,793.33 1024.27,796.36 1024.83,797.35 1027.07,810.88 1027.63,815.58 1028.19,815.40 1028.75,818.64 1029.31,818.43 1029.87,821.10 1030.43,818.95 1032.11,826.50 1033.23,825.38 1034.35,828.90 1034.91,826.07 1035.47,827.68 1036.59,826.87 1037.15,827.94 1037.71,826.56 1038.27,828.04 1038.83,828.45 1039.39,829.77 1039.95,828.47 1040.51,828.84 1041.07,827.96 1041.63,829.10 1042.19,828.24 1042.75,831.22 1043.31,827.00 1043.87,830.04 1044.43,829.57 1044.99,829.94 1045.55,827.95 1046.11,830.74 1046.67,827.76 1047.23,826.45 1047.79,827.57 1048.35,827.65 1048.91,830.15 1050.03,828.28 1050.59,828.70 1051.15,829.50 1051.71,829.32 1052.83,831.18 1053.39,828.66 1054.51,830.07 1055.07,828.10 1055.63,830.49 1056.19,831.46 1056.75,830.19 1057.31,830.80 1057.87,829.72 1058.99,830.41 1059.55,830.37 1060.11,831.85 1060.67,829.85 1061.23,831.69 1061.79,829.98 1062.35,832.37 1062.91,832.12 1064.03,829.03 1064.59,829.62 1065.15,827.84 1065.71,831.67 1066.27,830.05 1066.83,829.55 1067.39,830.00 1067.95,828.12 1070.19,831.37 1070.75,827.75 1071.31,829.51 1071.87,827.70 1072.43,827.05 1072.99,828.44 1073.55,828.18 1074.11,825.79 1075.23,829.00 1075.79,825.78 1076.35,825.67 1076.91,827.94 1078.03,825.34 1078.59,826.71 1079.15,825.47 1079.71,824.89 1080.27,826.88 1080.83,825.70 1081.39,827.39 1081.95,828.42 1082.51,826.29 1083.07,827.03 1083.63,827.07 1084.19,828.33 1084.75,827.86 1085.87,830.37 1086.43,828.99 1086.99,830.93 1087.55,832.07 1088.11,831.74 1088.67,829.85 1089.23,832.58 1089.79,830.31 1090.35,832.28 1090.91,828.99 1091.47,831.23 1092.03,830.03 1092.59,830.24 1093.15,829.97 1093.71,829.05 1094.27,830.52 1094.83,829.96 1095.39,830.81 1095.95,829.10 1096.51,830.81 1097.07,831.19 1097.63,828.72 1098.19,831.14 1098.75,831.58 1099.31,828.39 1099.87,829.28 1100.43,833.21 1100.99,830.95 1102.11,829.69 1102.67,831.66 1103.23,830.35 1103.79,831.70 1105.47,832.69 1106.03,831.78 1106.59,833.10 1107.15,833.10 1108.27,832.13 1109.39,834.34 1109.95,831.95 1110.51,831.53 1111.07,832.30 1111.63,831.10 1112.19,831.58 1112.75,831.24 1113.31,830.32 1113.87,831.21 1114.43,829.86 1114.99,830.14 1115.55,828.87 1116.11,829.41 1117.23,831.17 1117.79,832.60 1118.35,829.20 1118.91,828.34 1119.47,830.77 1120.03,826.20 1120.59,828.39 1121.15,827.42 1121.71,828.15 1122.27,825.74 1122.83,825.26 1123.39,822.17 1123.95,822.61 1124.51,822.18 1125.63,819.78 1126.19,820.95 1126.75,817.52 1127.31,816.07 1127.87,816.09 1128.43,816.63 1128.75,817.50 1128.99,816.79 1129.55,816.82 1130.11,820.44 1130.67,818.96 1131.79,823.36 1132.35,826.66 1132.91,825.65 1133.47,826.80 1134.03,829.79 1135.15,829.00 1135.71,829.54 1136.27,831.24 1136.83,830.66 1137.39,833.73 1137.95,833.56 1138.51,835.28 1139.63,832.75 1140.19,833.76 1140.75,833.47 1141.31,831.86 1141.87,834.89 1142.43,833.34 1142.99,834.01 1143.55,832.61 1144.67,836.16 1145.23,833.45 1145.79,832.81 1146.35,833.91 1146.91,833.96 1147.47,834.47 1148.03,832.53 1148.59,835.49 1150.27,833.69 1150.83,835.34 1151.39,836.20 1151.95,835.51 1152.51,835.63 1153.07,834.82 1153.63,835.04 1154.19,833.14 1154.75,836.02 1155.31,835.40 1155.87,834.24 1156.43,834.78 1156.99,833.08 1157.55,833.47 1158.11,835.19 1158.67,833.82 1159.23,833.30 1160.35,835.66 1160.91,833.47 1161.47,835.16 1162.03,835.27 1162.59,835.70 1164.27,834.44 1164.83,835.61 1165.39,833.41 1165.95,836.04 1166.51,833.35 1167.07,834.55 1167.63,834.93 1168.19,832.84 1168.75,835.23 1169.31,836.03 1169.87,833.93 1170.99,836.04 1171.55,836.10 1172.11,836.65 1172.67,833.83 1173.79,837.14 1174.35,834.26 1174.91,834.59 1175.47,835.61 1176.03,835.55 1176.59,834.20 1177.71,835.37 1178.27,835.59 1178.83,837.25 1179.95,835.49 1180.51,834.93 1181.63,838.04 1182.19,834.33 1182.75,833.91 1183.31,833.97 1183.87,835.21 1184.99,832.78 1185.55,834.07 1186.11,833.74 1186.67,835.87 1187.23,836.89 1187.79,834.98 1188.35,834.62 1188.91,836.54 1189.47,835.27 1190.03,834.89 1190.59,836.28 1191.15,834.44 1192.27,836.71 1192.83,831.99 1193.39,833.56 1193.95,832.25 1194.51,833.46 1195.07,832.81 1195.63,830.51 1196.19,830.66 1196.75,830.07 1197.31,831.82 1197.87,829.49 1198.43,829.95 1198.99,830.90 1199.55,829.32 1200.11,828.35 1200.67,827.86 1201.23,828.06 1201.25,828.75 1201.79,828.54 1202.35,829.94 1202.91,830.08 1203.47,831.98 1204.03,832.14 1204.59,833.54 1205.15,832.18 1205.71,832.28 1206.27,835.25 1206.83,834.97 1207.39,833.04 1209.63,839.72 1210.75,837.52 1211.87,837.35 1212.43,837.78 1212.99,837.83 1214.11,840.38 1214.67,839.88 1215.23,838.80 1215.79,840.89 1216.35,841.51 1216.91,840.47 1217.47,840.17 1218.59,840.54 1219.15,837.87 1219.71,838.93 1220.27,838.05 1220.83,839.20 1221.39,839.53 1221.95,837.87 1222.51,839.13 1223.07,838.32 1223.63,838.50 1224.19,837.96 1224.75,836.22 1225.31,839.39 1226.43,835.59 1226.99,837.95 1227.55,838.31 1228.11,835.61 1229.23,838.15 1230.35,836.61 1230.91,836.27 1231.47,836.69 1232.03,834.95 1233.15,836.79 1233.71,836.81 1234.27,838.48 1234.83,835.35 1235.39,839.81 1235.95,837.39 1236.51,837.54 1237.63,839.58 1238.19,838.04 1238.75,839.87 1239.31,839.83 1239.87,839.00 1240.43,838.89 1241.55,839.71 1242.11,837.86 1242.67,841.27 1243.23,840.15 1243.79,840.29 1244.35,839.47 1244.91,839.39 1245.47,841.42 1246.03,838.09 1246.59,840.07 1247.71,837.90 1248.27,840.35 1248.83,838.49 1249.39,839.98 1249.95,838.87 1250.51,836.99 1251.07,838.80 1251.63,838.08 1252.19,839.42 1252.75,839.54 1253.31,840.55 1253.87,840.27 1254.99,840.61 1256.11,840.08 1256.67,842.54 1257.23,841.52 1258.35,843.55 1258.91,844.05 1259.47,844.13 1260.03,843.28 1261.71,843.82 1262.27,842.32 1263.39,845.17 1263.95,844.51 1264.51,845.09 1265.07,842.49 1265.63,843.93 1266.19,847.37 1266.75,843.73 1267.31,845.47 1267.87,846.27 1268.43,845.91 1269.55,844.67 1270.11,843.56 1270.67,846.30 1271.23,844.01 1271.79,844.78 1272.35,841.35 1272.91,840.32 1273.47,839.52 1274.03,841.53 1274.59,839.75 1275.15,838.76 1275.71,838.84 1276.83,837.48 1277.39,835.71 1277.95,834.74 1279.07,835.65 1279.63,832.93 1280.19,833.04 1280.75,831.48 1281.31,831.41 1281.87,828.56 1282.43,831.32 1282.99,830.21 1283.55,827.35 1284.11,826.21 1284.67,823.99 1285.23,826.27 1285.79,824.80 1286.35,824.89 1286.91,822.84 1287.47,826.22 1288.03,823.79 1288.59,825.51 1289.15,828.24 1289.71,828.99 1290.27,830.31 1290.83,833.78 1291.95,833.68 1292.51,831.66 1293.07,834.75 1293.63,833.44 1294.19,833.28 1294.75,835.45 1295.31,832.44 1295.87,832.49 1296.43,832.85 1296.99,829.53 1297.55,828.78 1298.11,827.36 1298.67,827.46 1299.23,825.93 1299.79,827.48 1300.00,827.00 1300.35,827.72 1300.91,827.77 1301.47,827.35 1302.03,828.25 1302.59,828.36 1303.15,830.07 1304.27,831.72 1304.83,833.92 1305.39,833.69 1305.95,834.62 1306.51,836.37 1307.07,835.04 1307.63,837.05 1308.19,836.69 1308.75,839.88 1309.31,841.57 1309.87,840.44 1310.99,843.28 1311.55,845.71 1312.11,846.21 1312.67,847.66 1313.23,847.68 1313.79,848.30 1314.35,845.65 1314.91,845.52 1315.47,848.82 1316.03,849.87 1316.59,846.46 1317.15,846.38 1317.71,848.84 1318.27,849.80 1318.83,846.75 1319.39,847.60 1319.95,849.38 1321.07,849.50 1321.63,850.20 1322.19,848.22 1322.75,848.59 1323.31,851.10 1323.87,847.82 1324.43,850.22 1324.99,848.96 1325.55,850.16 1326.11,848.54 1326.67,848.46 1327.23,849.90 1327.79,848.58 1328.35,848.72 1328.91,846.68 1329.47,849.68 1330.03,848.86 1330.59,850.21 1331.15,848.77 1331.71,847.95 1332.27,850.66 1332.83,849.43 1333.39,848.86 1333.95,847.79 1334.51,850.60 1335.07,850.35 1335.63,848.81 1336.19,850.71 1336.75,850.65 1337.31,850.92 1337.87,849.97 1338.43,851.92 1338.99,847.83 1339.55,848.31 1340.11,850.41 1340.67,850.93 1341.23,850.65 1341.79,852.89 1342.91,848.93 1343.47,852.61 1344.03,851.06 1344.59,850.85 1345.15,851.97 1345.71,851.57 1346.27,850.73 1346.83,851.68 1347.39,851.30 1348.51,851.17 1349.07,849.39 1349.63,850.27 1350.75,850.45 1351.31,852.24 1351.87,850.80 1352.43,850.26 1352.99,849.09 1353.55,849.88 1354.11,849.31 1354.67,849.50 1355.23,850.54 1355.79,849.38 1356.35,850.05 1356.91,851.71 1358.03,850.49 1358.59,851.16 1359.15,850.92 1359.71,852.88 1360.27,852.78 1360.83,853.64 1361.39,851.67 1361.95,851.85 1362.51,852.80 1363.07,850.62 1363.63,851.01 1364.19,852.76 1364.75,851.21 1365.31,851.19 1365.87,852.23 1366.43,851.71 1366.99,851.50 1367.55,852.47 1368.11,850.72 1368.67,853.08 1369.23,852.57 1369.79,852.76 1370.35,852.29 1370.91,852.78 1371.47,850.32 1372.03,852.26 1372.59,853.45 1373.15,851.55 1374.27,851.56 1374.83,851.03 1375.39,855.31 1375.95,852.43 1376.51,853.30 1377.07,851.69 1377.63,852.08 1378.75,851.34 1379.87,854.20 1380.43,852.17 1381.55,855.11 1382.11,853.40 1383.23,854.01 1383.79,852.27 1384.35,851.97 1384.91,851.04 1386.03,853.98 1386.59,853.32 1388.27,852.31 1388.83,852.68 1389.39,855.51 1390.51,853.40 1391.63,852.22 1392.19,854.26 1392.75,853.10 1393.31,853.17 1393.87,852.81 1394.43,854.45 1394.99,853.40 1395.55,854.81 1396.11,852.45 1396.67,852.36 1397.23,851.63 1397.79,852.86 1398.35,851.68 1398.91,852.47 1399.47,854.33 1400.59,852.79 1401.15,852.66 1401.71,849.62 1402.27,850.64 1402.83,853.46 1403.39,851.43 1403.95,851.65 1404.51,853.41 1405.07,851.19 1405.63,852.71 1406.19,852.32 1406.75,852.80 1407.31,852.46 1407.87,854.44 1408.43,853.97 1408.99,854.97 1409.55,852.48 1410.11,853.08 1410.67,853.18 1411.23,854.75 1412.35,853.57 1412.91,852.21 1413.47,853.31 1414.03,851.87 1415.71,853.42 1416.27,852.93 1416.83,854.63 1417.95,852.23 1418.51,853.24 1419.07,851.86 1419.63,853.65 1420.75,853.51 1421.31,852.08 1421.87,854.06 1422.43,853.84 1422.99,855.10 1423.55,853.88 1424.11,853.16 1425.79,852.43 1426.35,852.67 1426.91,854.08 1427.47,853.28 1428.03,853.25 1428.59,852.65 1429.15,853.84 1429.71,854.53 1430.27,854.22 1430.83,852.68 1431.39,853.48 1431.95,856.05 1432.51,854.31 1433.63,853.57 1434.75,852.05 1435.31,853.71 1435.87,854.00 1436.43,853.31 1437.55,854.76 1438.11,854.75 1438.67,855.42 1439.23,852.61 1439.79,854.08 1440.35,854.31 1440.91,854.06 1441.47,852.51 1442.03,852.25 1442.59,855.10 1443.15,853.07 1443.71,853.95 1444.27,852.93 1444.83,853.19 1445.39,854.35 1445.95,854.55 1446.51,853.51 1447.07,853.20 1447.63,854.70 1448.19,853.78 1449.31,853.40 1449.87,854.01 1450.43,853.41 1451.55,854.06 1452.67,855.51 1453.23,853.96 1453.79,853.39 1454.35,856.33 1455.47,854.44 1456.03,852.75 1456.59,855.71 1457.15,853.96 1457.71,854.74 1458.27,852.29 1458.83,855.27 1459.39,855.58 1459.95,854.19 1460.51,854.26 1461.07,854.63 1461.63,853.24 1462.19,853.18 1462.75,854.88 1463.31,853.57 1464.43,854.56 1464.99,855.63 1465.55,854.36 1466.11,855.24 1466.67,855.64 1467.23,854.29 1468.35,855.83 1468.91,856.21 1469.47,855.35 1470.03,855.48 1470.59,854.24 1471.15,854.52 1471.71,855.17 1472.27,854.47 1472.83,854.13 1473.39,854.24 1473.95,855.74 1474.51,853.58 1475.07,855.00 1475.63,854.87 1476.19,854.48 1476.75,853.68 1477.31,854.66 1477.87,854.30 1478.43,855.52 1478.99,854.63 1479.55,854.91 1480.11,854.10 1480.67,855.97 1481.23,852.83 1481.79,856.87 1482.35,853.89 1482.91,854.59 1483.47,854.75 1484.03,853.89 1484.59,856.17 1485.15,854.59 1485.71,854.65 1486.27,856.80 1486.83,856.16 1487.39,853.87 1487.95,854.16 1488.51,855.58 1489.63,855.94 1490.19,855.08 1490.75,856.29 1491.31,855.89 1491.87,855.15 1492.43,854.86 1492.99,855.66 1493.55,855.44 1494.11,854.41 1494.67,854.14 1495.23,855.26 1495.79,854.23 1496.91,855.58 1497.47,853.57 1498.03,853.71 1498.59,852.91 1499.71,855.24 1500.27,854.36 1500.83,855.02 1501.95,854.08 1502.51,856.21 1503.07,855.08 1503.63,856.00 1504.75,854.97 1505.31,856.25 1505.87,854.13 1506.43,853.98 1506.99,855.34 1508.11,853.36 1508.67,853.62 1509.23,852.35 1509.79,853.95 1510.35,854.25 1510.91,853.73 1511.47,853.95 1512.03,854.48 1513.15,852.67 1513.71,853.09 1514.27,854.35 1514.83,854.21 1515.39,854.37 1515.95,853.13 1517.07,855.46 1517.63,853.68 1518.19,854.79 1518.75,853.62 1519.31,853.10 1519.87,854.54 1520.43,855.00 1520.99,854.08 1521.55,854.73 1522.11,853.18 1523.23,852.61 1523.79,854.76 1524.35,855.91 1524.91,854.36 1525.47,854.12 1526.03,855.71 1527.15,856.18 1527.71,855.70 1528.27,857.98 1528.83,856.42 1529.39,857.27 1529.95,856.23 1530.51,858.11 1531.07,859.10 1531.63,858.39 1532.19,855.96 1532.75,857.05 1533.31,854.95 1533.87,855.30 1534.43,854.64 1534.99,855.22 1536.11,853.53 1536.67,853.31 1537.23,854.61 1537.79,851.76 1538.35,852.59 1538.91,854.58 1540.03,851.53 1540.59,852.97 1541.15,852.95 1541.71,850.94 1542.27,851.76 1542.83,851.03 1543.39,852.16 1544.51,850.33 1545.07,851.59 1545.63,850.15 1546.19,852.59 1546.75,851.76 1547.31,850.23 1548.43,852.24 1548.99,852.15 1549.55,850.93 1550.11,851.89 1551.23,853.05 1551.79,852.06 1552.91,857.22 1553.47,854.49 1554.59,855.08 1555.15,856.03 1555.71,855.25 1556.27,855.81 1556.83,856.92 1557.39,854.70 1558.51,858.80 1559.07,858.38 1559.63,857.57 1560.19,857.85 1560.75,855.13 1561.31,858.27 1561.87,857.28 1562.43,858.86 1562.99,858.08 1563.55,858.40 1564.11,856.14 1564.67,856.07 1565.23,859.29 1565.79,857.19 1566.35,856.82 1566.91,858.78 1567.47,858.33 1568.03,858.38 1568.59,859.32 1569.15,857.98 1569.71,857.51 1570.27,857.47 1570.83,855.98 1571.39,857.70 1572.51,856.98 1573.07,859.80 1573.63,856.85 1574.19,857.32 1575.31,857.27 1575.87,858.39 1576.43,857.67 1576.99,858.71 1577.55,860.48 1578.11,857.85 1578.67,857.63 1579.23,857.80 1579.79,859.60 1580.35,858.68 1580.91,858.70 1581.47,858.01 1582.03,857.77 1582.59,859.72 1583.15,859.58 1583.71,857.37 1585.39,857.99 1585.95,859.19 1586.51,859.58 1587.07,858.40 1587.63,857.98 1588.19,859.83 1588.75,860.05 1589.31,857.31 1589.87,858.80 1590.43,857.68 1591.55,858.06 1592.11,859.91 1593.23,857.81 1593.79,858.48 1594.35,858.41 1594.91,856.74 1595.47,858.22 1596.03,856.78 1596.59,856.86 1597.15,859.17 1597.71,854.86 1598.27,858.77 1598.83,858.99 1599.39,857.96 1599.95,859.29 1600.51,859.01 1601.07,858.09 1601.63,859.24 1602.19,858.29 1602.75,858.55 1603.31,858.17 1603.87,861.64 1605.55,857.81 1606.11,858.53 1606.67,858.66 1607.23,858.42 1607.79,859.39 1608.35,859.46 1608.91,861.25 1609.47,861.20 1610.03,858.81 1610.59,861.46 1611.15,859.06 1611.71,860.76 1612.83,859.84 1613.39,860.15 1613.95,859.24 1614.51,858.80 1615.07,861.47 1615.63,858.56 1616.19,860.58 1616.75,858.96 1617.31,859.99 1618.43,859.27 1618.99,858.16 1620.11,859.92 1620.67,858.21 1621.23,858.54 1621.79,856.37 1622.35,856.34 1622.91,857.08 1623.47,854.58 1624.03,856.25 1624.59,854.78 1625.15,854.73 1625.71,856.39 1626.27,853.92 1626.83,856.38 1627.39,854.25 1627.95,854.07 1628.51,856.37 1629.07,857.10 1629.63,854.78 1630.75,858.68 1631.87,856.35 1632.99,857.98 1633.55,858.19 1634.11,857.63 1635.79,860.64 1636.35,859.70 1636.91,860.07 1637.47,859.82 1638.03,858.30 1638.59,860.96 1639.15,860.64 1639.71,858.95 1640.27,858.62 1640.83,858.43 1641.95,859.01 1642.51,858.74 1643.07,857.23 1643.63,856.30 1644.19,855.88 1644.75,858.42 1645.31,856.16 1646.43,853.27 1646.99,855.89 1647.55,855.17 1648.11,854.88 1648.67,853.65 1649.23,854.21 1649.79,853.58 1650.35,854.36 1650.91,856.39 1651.47,853.69 1652.03,853.38 1652.59,855.54 1653.15,855.96 1653.71,854.82 1654.27,855.65 1654.83,855.53 1655.39,858.53 1656.51,856.19 1657.07,858.89 1657.63,859.45 1658.19,857.27 1658.75,859.20 1659.31,859.59 1659.87,858.09 1660.43,858.17 1660.99,862.83 1661.55,859.36 1662.11,860.96 1663.23,862.06 1663.79,861.82 1664.35,860.84 1665.47,859.75 1666.03,861.24 1666.59,860.05 1667.15,861.77 1667.71,860.06 1668.27,861.11 1668.83,858.20 1669.39,861.17 1669.95,858.91 1670.51,859.31 1671.07,857.63 1671.63,859.27 1672.19,858.58 1672.75,859.26 1673.31,858.68 1673.87,859.92 1674.43,856.22 1674.99,856.90 1675.55,855.96 1676.11,856.76 1676.67,857.19 1677.23,857.12 1677.79,855.35 1678.35,854.37 1679.47,856.24 1680.03,854.10 1680.59,855.70 1681.15,854.42 1681.71,856.05 1682.27,854.97 1682.83,856.75 1683.39,855.03 1683.95,855.92 1684.51,859.09 1685.07,852.39 1685.63,856.20 1686.75,856.94 1687.31,856.86 1688.43,855.91 1689.55,857.17 1690.11,854.75 1690.67,857.13 1691.23,856.48 1691.79,858.04 1692.35,856.60 1692.91,857.99 1693.47,856.98 1694.03,858.25 1694.59,858.58 1695.15,857.31 1695.71,858.89 1696.27,858.19 1696.83,859.04 1697.39,858.24 1697.95,858.23 1698.51,859.18 1699.07,859.55 1699.63,858.85 1700.19,858.90 1700.75,858.07 1701.31,859.57 1702.43,858.06 1702.99,860.72 1703.55,858.40 1704.11,860.91 1704.67,859.83 1705.23,860.31 1705.79,862.01 1706.35,859.20 1707.47,857.94 1708.59,860.54 1709.15,859.57 1710.27,860.22 1710.83,859.86 1711.39,860.50 1712.51,858.74 1713.07,859.76 1713.63,859.83 1714.19,861.36 1714.75,860.65 1715.31,859.35 1715.87,861.41 1716.43,860.96 1716.99,859.38 1717.55,861.86 1718.11,860.20 1718.67,859.66 1719.23,859.87 1719.79,860.96 1720.91,859.57 1721.47,862.48 1722.03,860.78 1722.59,860.04 1723.15,860.70 1723.71,860.94 1724.27,862.31 1724.83,862.33 1725.39,859.64 1725.95,860.53 1727.07,860.95 1727.63,861.84 1728.19,861.41 1728.75,859.81 1729.31,862.47 1729.87,861.41 1730.43,858.79 1730.99,861.60 1731.55,861.00 1732.11,859.54 1732.67,860.86 1733.23,861.33 1734.35,860.10 1734.91,860.62 1735.47,860.28 1736.03,860.24 1736.59,860.72 1737.15,859.16 1737.71,860.30 1738.83,861.41 1739.39,861.34 1739.95,860.55 1740.51,860.68 1741.07,860.55 1741.63,863.12 1742.19,861.44 1742.75,861.24 1743.87,862.59 1744.43,862.28 1744.99,859.77 1745.55,862.08 1746.11,860.78 1746.67,862.55 1747.23,862.00 1747.79,859.76 1748.35,858.87 1748.91,858.74 1750.03,859.77 1751.15,860.00 1751.71,860.00 1752.27,858.84 1752.83,858.94 1753.95,860.36 1754.51,859.02 1755.07,858.47 1755.63,859.73 1756.19,858.92 1756.75,858.77 1757.31,858.19 1757.87,858.30 1758.99,856.71 1759.55,857.50 1760.11,855.84 1761.23,859.16 1761.79,856.21 1762.35,856.50 1762.91,857.98 1763.47,856.69 1764.03,858.01 1764.59,857.44 1765.15,857.25 1765.71,858.59 1766.27,857.34 1766.83,857.44 1767.39,857.11 1767.95,859.18 1768.51,858.80 1769.07,858.71 1769.63,860.35 1770.19,859.80 1770.75,861.26 1771.31,861.25 1771.87,860.45 1772.43,860.19 1772.99,862.43 1773.55,860.90 1774.11,860.40 1774.67,860.96 1775.23,859.64 1775.79,861.53 1776.35,860.20 1776.91,861.76 1777.47,860.82 1778.03,861.43 1778.59,863.10 1779.15,862.59 1779.71,861.15 1780.27,861.86 1780.83,860.33 1781.95,862.59 1782.51,861.99 1783.07,862.13 1783.63,861.56 1784.19,860.16 1784.75,861.24 1785.31,860.27 1785.87,862.14 1786.43,861.14 1786.99,861.36 1787.55,860.94 1788.11,862.24 1788.67,862.39 1789.23,862.38 1789.79,860.54 1790.35,862.31 1790.91,861.61 1791.47,859.77 1792.03,862.22 1792.59,861.83 1793.15,860.20 1793.71,862.73 1794.27,862.22 1794.83,863.57 1795.39,862.49 1795.95,862.11 1796.51,860.61 1797.07,864.23 1797.63,861.00 1798.75,862.83 1799.31,862.04 1799.87,859.40 1800.43,861.79 1800.99,861.42 1801.55,862.86 1802.11,861.82 1802.67,863.43 1803.23,863.08 1803.79,863.61 1804.35,863.58 1804.91,865.19 1805.47,864.05 1806.03,864.09 1806.59,863.11 1807.15,862.86 1807.71,861.89 1808.27,861.42 1808.83,862.07 1809.39,863.68 1809.95,862.18 1810.51,862.62 1811.07,862.49 1812.19,863.45 1812.75,864.60 1813.31,861.69 1813.87,864.61 1814.43,862.63 1814.99,862.34 1815.55,862.53 1816.11,864.28 1816.67,863.60 1817.23,864.22 1817.79,862.48 1818.35,864.35 1818.91,863.18 1819.47,863.62 1820.03,862.26 1820.59,862.77 1821.15,862.37 1821.71,863.84 1822.27,863.80 1822.83,859.94 1823.39,863.01 1823.95,863.03 1824.51,861.68 1825.07,862.21 1825.63,864.32 1826.19,862.88 1826.75,863.88 1827.31,863.76 1827.87,860.66 1828.43,864.66 1828.99,861.82 1829.55,862.95 1830.67,863.89 1831.23,863.96 1831.79,863.41 1832.35,863.50 1832.91,864.05 1833.47,864.17 1834.03,863.13 1834.59,863.61 1835.15,863.11 1835.71,861.92 1836.83,861.80 1837.39,863.91 1837.95,861.81 1838.51,862.46 1839.07,862.22 1839.63,861.14 1840.19,862.26 1840.75,860.52 1841.31,860.65 1841.87,862.24 1842.43,861.27 1842.99,861.87 1843.55,861.67 1844.11,863.01 1844.67,860.46 1845.23,860.43 1845.79,858.01 1846.35,861.39 1846.91,859.89 1847.47,859.63 1848.03,860.94 1849.15,859.31 1849.71,859.28 1850.27,860.67 1850.83,860.66 1851.39,860.03 1851.95,859.87 1852.51,861.86 1853.07,859.49 1853.63,858.96 1854.19,860.41 1855.31,858.61 1855.87,860.28 1856.43,859.70 1856.99,861.99 1857.55,860.95 1858.67,862.04 1859.23,861.71 1859.79,862.43 1860.35,860.88 1861.47,862.02 1862.03,863.49 1862.59,863.42 1863.71,864.11 1864.83,862.34 1865.39,862.11 1865.95,864.29 1866.51,861.61 1867.07,862.13 1867.63,863.53 1868.19,862.44 1868.75,863.95 1869.31,862.57 1869.87,863.36 1870.43,862.69 1870.99,864.28 1871.55,863.94 1872.11,864.78 1872.67,864.07 1873.23,864.02 1873.79,862.90 1874.35,863.51 1874.91,863.18 1875.47,862.12 1876.03,862.35 1876.59,863.39 1877.15,863.77 1877.71,864.86 1878.27,862.47 1878.83,861.63 1879.39,863.73 1879.95,862.79 1880.51,862.45 1881.07,862.62 1881.63,861.09 1882.19,863.42 1882.75,863.65 1883.87,862.90 1884.43,863.06 1884.99,864.12 1885.55,862.29 1886.11,865.17 1886.67,863.22 1887.23,863.48 1887.79,865.93 1888.35,863.64 1888.91,863.06 1889.47,863.95 1890.03,862.45 1890.59,864.83 1891.15,863.56 1891.71,863.42 1892.27,862.75 1893.39,864.75 1893.95,861.32 1894.51,862.39 1895.07,864.26 1895.63,863.39 1896.19,863.73 1896.75,862.69 1897.31,862.20 1897.87,864.13 1898.43,863.25 1898.99,863.60 1899.55,860.12 1900.11,863.40 1900.67,863.35 1901.23,863.60 1901.79,862.41 1902.35,864.48 1902.91,864.95 1903.47,863.46 1904.03,860.95 1904.59,863.48 1905.15,863.54 1905.71,864.08 1906.27,862.83 1906.83,864.04 1907.39,863.16 1908.51,863.00 1909.63,863.75 1910.19,863.38 1910.75,861.42 1911.31,863.04 1911.87,861.94 1912.43,862.28 1912.99,859.21 1913.55,862.59 1914.11,861.67 1915.23,862.23 1915.79,860.75 1916.35,860.74 1916.91,858.93 1917.47,861.69 1918.03,860.89 1918.59,861.73 1919.15,861.99 1919.71,860.94 1920.27,862.15 1920.83,859.46 1921.39,861.41 1921.95,862.19 1922.51,861.39 1923.07,862.28 1923.63,861.58 1924.19,862.59 1924.75,862.73 1925.31,861.19 1925.87,861.54 1926.43,862.28 1926.99,861.86 1927.55,862.35 1928.11,861.86 1928.67,862.44 1929.23,861.50 1929.79,862.93 1930.35,863.67 1930.91,861.96 1931.47,863.60 1932.03,863.52 1932.59,864.02 1933.15,861.56 1933.71,863.14 1934.27,862.92 1934.83,863.84 1935.39,864.24 1935.95,860.67 1937.07,863.64 1937.63,863.63 1938.19,863.94 1938.75,863.08 1939.31,863.53 1939.87,864.64 1940.43,864.80 1940.99,864.65 1941.55,863.67 1942.11,861.68 1942.67,863.95 1943.23,864.18 1943.79,863.90 1944.35,864.64 1944.91,864.67 1945.47,865.98 1946.03,864.05 1946.59,864.46 1947.15,865.38 1947.71,864.77 1948.27,863.29 1948.83,864.62 1949.39,862.52 1949.95,864.20 1950.51,864.38 1951.07,863.04 1951.63,864.11 1952.75,862.39 1953.31,863.45 1953.87,861.97 1954.43,862.50 1954.99,861.20 1955.55,863.43 1956.11,861.50 1956.67,861.02 1957.23,861.29 1957.79,862.50 1958.35,863.04 1958.91,861.17 1959.47,860.28 1960.03,860.58 1960.59,860.50 1961.15,861.26 1961.71,860.63 1962.27,861.36 1962.83,859.04 1963.95,860.73 1964.51,860.04 1965.07,860.36 1965.63,862.14 1966.19,860.99 1966.75,861.17 1968.43,860.36 1969.55,861.52 1970.67,861.81 1971.23,863.03 1971.79,862.16 1972.35,862.76 1972.91,862.31 1973.47,862.83 1974.03,861.27 1974.59,861.25 1975.15,862.99 1975.71,862.41 1976.27,862.64 1976.83,860.60 1977.39,864.58 1977.95,862.60 1978.51,864.96 1979.07,862.67 1979.63,862.78 1980.19,861.13 1980.75,863.97 1981.31,864.03 1981.87,863.74 1982.43,864.36 1982.99,863.27 1983.55,864.74 1984.11,864.33 1984.67,864.37 1985.23,863.41 1985.79,863.33 1986.35,865.04 1986.91,864.26 1988.03,864.35 1988.59,864.08 1989.15,862.84 1989.71,864.23 1990.83,863.21 1991.39,865.06 1991.95,865.72 1992.51,863.29 1993.07,863.98 1993.63,862.44 1994.19,864.50 1994.75,863.74 1995.31,864.29 1995.87,864.39 1996.43,863.53 1996.99,864.12 1997.55,863.92 1998.11,864.21 1998.67,864.05 1999.23,862.77 1999.79,863.27 2000.35,862.70 2000.91,862.57 2002.03,865.61 2003.15,863.80 2003.71,866.50 2004.27,865.01 2004.83,865.38 2005.39,863.81 2005.95,864.43 2006.51,862.99 2007.07,863.46 2007.63,862.34 2008.19,863.46 2009.31,862.11 2009.87,863.91 2010.43,863.20 2010.99,863.16 2011.55,863.48 2012.11,862.54 2012.67,863.64 2013.23,863.45 2013.79,862.96 2014.35,863.12 2014.91,864.00 2016.59,862.79 2017.15,864.17 2017.71,864.56 2018.83,862.75 2019.39,866.13 2019.95,864.12 2020.51,865.32 2021.07,862.12 2022.19,862.10 2022.75,862.29 2023.31,860.14 2023.87,861.08 2024.43,862.98 2024.99,861.84 2025.55,862.72 2026.11,861.86 2026.67,861.41 2027.23,862.59 2027.79,862.92 2028.35,862.03 2028.91,862.94 2029.47,862.54 2030.03,862.84 2030.59,862.66 2031.71,862.94 2032.83,862.49 2033.39,863.60 2033.95,863.15 2034.51,863.98 2035.07,863.27 2035.63,861.06 2036.19,864.25 2036.75,860.81 2037.31,862.61 2037.87,861.78 2038.43,862.23 2038.99,863.33 2040.11,863.17 2040.67,861.81 2041.23,862.95 2041.79,862.70 2042.35,862.71 2042.91,861.90 2043.47,861.86 2044.03,863.42 2044.59,861.98 2045.15,861.74 2045.71,863.79 2046.27,863.55 2046.83,862.86 2047.39,864.73 2047.95,863.27 2048.51,864.02 2049.07,861.33 2049.63,864.06 2050.19,865.20 2050.75,863.00 2051.31,865.00 2051.87,864.25 2052.43,863.95 2052.99,864.34 2054.11,862.16 2054.67,862.35 2055.23,865.04 2055.79,864.44 2056.35,862.67 2056.91,864.55 2057.47,864.55 2058.03,863.80 2058.59,864.91 2059.15,865.07 2059.71,864.85 2060.27,865.56 2060.83,863.59 2061.95,865.66 2062.51,866.11 2063.07,864.21 2063.63,865.60 2064.19,863.68 2064.75,862.53 2065.31,864.66 2065.87,865.37 2066.43,863.77 2066.99,865.29 2067.55,863.03 2069.79,865.14 2070.35,865.14 2070.91,865.74 2071.47,864.37 2072.03,864.79 2072.59,866.57 2073.15,865.19 2073.71,866.09 2074.27,865.63 2074.83,865.47 2075.39,865.82 2075.95,864.48 2076.51,865.75 2077.07,866.23 2077.63,865.72 2078.19,864.69 2078.75,864.29 2079.31,864.75 2079.87,866.07 2080.43,865.62 2080.99,864.57 2081.55,865.76 2082.11,863.80 2082.67,865.18 2083.23,864.33 2083.79,862.82 2084.35,864.02 2084.91,863.63 2085.47,864.08 2086.59,864.09 2087.15,865.00 2087.71,864.96 2088.27,864.20 2088.83,865.74 2089.39,865.73 2089.95,864.74 2090.51,865.11 2091.63,864.49 2092.75,865.78 2093.31,865.66 2093.87,864.06 2094.99,866.42 2095.55,866.90 2096.11,865.45 2096.67,866.48 2097.23,866.09 2097.79,864.81 2098.35,865.98 2098.91,864.75 2099.47,864.01 2100.03,866.56 2101.15,865.57 2101.71,864.24 2102.27,865.56 2102.83,864.99 2103.39,865.75 2103.95,865.40 2104.51,865.84 2105.07,863.72 2105.63,864.91 2106.19,865.07 2106.75,865.96 2107.31,863.42 2107.87,866.71 2108.43,866.67 2108.99,864.80 2109.55,864.26 2110.11,866.48 2110.67,864.07 2111.23,865.39 2112.35,867.03 2112.91,866.01 2113.47,865.43 2114.59,865.69 2115.15,866.13 2115.71,863.09 2116.27,864.74 2116.83,865.10 2117.39,864.42 2117.95,864.95"/>
<path stroke="#ae32ff" stroke-width="7.6" d="M138.35,511.38 138.91,510.58 139.47,511.96 140.03,511.31 140.59,509.15 141.15,512.39 141.71,511.16 142.83,513.67 143.95,510.02 144.51,510.54 145.07,512.73 145.63,510.05 146.19,511.80 146.75,511.81 147.31,509.73 147.87,511.10 148.43,511.64 148.99,509.75 149.55,509.69 150.11,510.53 150.67,508.24 151.23,508.65 151.79,510.83 152.35,509.91 152.91,507.84 153.47,509.06 154.03,511.60 154.59,507.29 155.15,510.30 155.71,510.37 156.27,509.31 156.83,510.07 157.39,508.22 157.95,511.29 158.51,511.75 159.07,508.36 159.63,509.64 160.19,510.11 160.75,509.40 161.31,510.67 161.87,509.02 162.43,511.28 162.99,510.05 163.55,510.27 164.11,511.19 164.67,511.48 165.23,508.86 165.79,510.66 166.35,510.53 166.91,509.53 167.47,511.21 168.03,508.58 168.59,508.83 169.15,509.95 169.71,508.70 170.27,511.07 170.83,509.56 171.39,511.41 171.95,507.78 172.51,508.25 173.07,510.81 173.63,508.08 174.19,510.52 174.75,508.60 175.87,511.31 176.99,508.64 177.55,508.94 178.11,511.24 178.67,510.19 179.23,510.65 179.79,509.83 180.35,509.89 180.91,509.33 181.47,508.13 182.03,509.95 182.59,509.89 183.15,506.97 183.71,509.18 184.83,511.05 185.39,507.34 185.95,508.76 186.51,509.35 187.07,509.25 187.63,507.23 188.19,508.62 188.75,507.60 189.31,508.14 189.87,507.76 190.43,508.58 190.99,507.79 191.55,508.53 192.11,508.61 193.23,510.68 193.79,507.96 194.35,507.17 194.91,507.60 195.47,507.21 196.03,505.68 196.59,507.53 197.15,506.28 197.71,507.89 198.27,506.59 198.83,508.03 199.39,507.90 199.95,506.19 200.51,506.40 201.07,505.92 201.63,506.38 202.19,508.16 202.75,506.49 203.31,506.68 203.87,506.21 204.43,508.83 204.99,506.75 205.55,507.15 206.11,506.34 206.67,507.34 207.23,506.04 207.79,506.33 208.35,504.35 208.91,504.71 209.47,507.12 210.03,507.80 210.59,504.82 211.15,507.08 211.71,507.19 212.27,510.73 212.83,505.59 213.39,506.17 213.95,505.65 214.51,507.61 215.07,507.99 215.63,506.29 216.19,508.70 216.75,509.38 217.31,505.91 217.87,507.73 218.99,506.46 220.11,506.83 220.67,505.22 221.79,507.58 222.35,505.80 222.91,506.00 223.47,504.95 224.03,506.77 224.59,506.16 225.15,507.38 226.27,504.47 226.83,506.91 227.39,505.50 227.95,506.72 228.51,506.46 229.07,502.44 229.63,502.83 230.19,505.11 230.75,504.14 231.31,502.47 232.43,506.75 232.99,505.93 233.55,503.77 234.67,505.84 235.23,504.68 235.79,506.79 236.35,503.58 236.91,507.18 238.03,504.92 238.59,504.34 239.15,504.23 239.71,502.73 240.27,504.53 240.83,504.95 241.95,502.82 242.51,502.78 243.07,501.18 243.63,501.33 244.19,499.97 244.75,502.07 245.31,500.39 245.87,501.91 246.43,500.13 246.99,502.51 247.55,502.56 248.67,501.62 249.23,499.56 249.79,499.19 250.35,498.00 251.47,500.62 252.03,496.80 252.59,500.78 253.15,496.70 253.71,495.73 254.27,497.63 254.83,498.57 255.39,496.45 255.95,495.50 256.51,498.59 257.07,494.33 257.63,496.73 258.75,493.88 259.31,494.01 259.87,492.07 260.43,491.61 260.99,492.92 261.55,490.60 262.11,490.50 262.67,492.90 263.23,492.95 264.35,490.86 264.91,489.06 265.47,488.87 266.03,487.67 266.59,484.43 267.15,488.28 267.71,488.18 268.27,488.97 268.83,485.67 269.39,488.27 269.95,485.54 270.51,484.18 271.63,486.25 272.19,484.63 272.75,484.67 273.31,482.66 273.87,484.56 274.43,484.98 274.99,482.34 275.55,484.19 276.11,481.23 276.67,483.35 277.23,480.49 277.79,482.85 278.91,479.11 279.47,481.06 280.03,478.44 280.59,479.91 281.15,478.42 281.71,479.86 282.27,478.20 282.83,480.57 283.39,479.35 283.95,479.50 284.51,476.25 285.07,474.68 285.63,476.19 286.19,479.29 286.75,475.11 287.31,477.84 287.87,477.34 288.43,474.46 288.99,474.38 289.55,476.23 290.11,474.57 291.23,473.96 291.79,474.86 292.35,474.49 292.91,476.33 293.47,473.67 294.03,475.06 294.59,473.07 295.15,476.12 295.71,471.62 296.27,471.43 296.83,470.48 297.39,468.76 297.95,469.75 298.51,471.90 299.07,469.87 299.63,472.56 300.19,469.02 300.75,468.84 301.31,471.59 301.87,471.27 302.43,468.62 302.99,472.45 303.55,472.41 304.67,467.52 305.23,471.30 305.79,468.80 306.91,468.90 307.47,467.25 308.03,469.82 308.59,466.78 309.15,469.67 309.71,469.40 310.27,470.59 310.83,468.62 311.39,469.15 311.95,467.75 312.51,467.72 313.07,467.07 313.63,468.95 314.19,466.45 314.75,469.37 315.31,466.82 315.87,465.21 316.43,465.59 316.99,468.40 317.55,465.99 318.11,467.56 318.67,464.37 319.23,467.21 319.79,467.50 320.35,466.77 320.91,467.60 321.47,464.83 322.03,463.57 322.59,464.14 323.15,467.18 323.71,466.69 324.27,468.39 324.83,466.48 325.39,468.45 325.95,464.38 326.51,467.55 327.07,465.80 327.63,466.79 328.19,469.08 328.75,469.30 329.31,467.02 329.87,466.85 330.43,469.28 330.99,468.52 331.55,466.06 332.11,467.27 332.67,466.31 333.23,467.84 333.79,467.34 334.35,467.29 335.47,465.83 336.03,468.45 336.59,467.43 337.15,463.21 337.71,466.39 338.27,467.47 338.83,465.57 339.39,465.19 339.95,465.79 340.51,468.04 341.07,466.29 342.19,469.82 342.75,469.11 343.31,468.81 343.87,467.18 344.43,469.38 344.99,467.89 345.55,468.57 346.11,465.76 346.67,469.19 347.23,466.83 347.79,467.85 348.35,469.54 348.91,467.99 349.47,467.67 350.03,467.84 350.59,469.96 351.15,469.89 351.71,469.19 352.27,467.28 352.83,468.25 353.39,470.39 353.95,470.53 354.51,468.23 355.07,468.20 355.63,470.39 356.19,470.74 357.31,467.91 357.87,471.22 358.43,468.94 358.99,469.97 359.55,466.34 360.11,469.03 360.67,469.70 361.23,470.93 361.79,469.19 362.35,468.16 362.91,468.27 363.47,469.78 364.03,470.49 364.59,470.52 365.15,467.56 366.27,469.62 366.83,471.33 367.39,470.60 367.95,470.35 368.51,467.21 369.07,470.96 369.63,468.56 370.19,468.85 370.75,467.69 371.31,467.46 372.43,466.06 372.99,465.03 373.55,467.32 374.11,467.83 374.67,465.67 375.23,464.84 375.79,464.80 376.35,466.29 376.91,468.72 377.47,466.90 378.03,470.03 378.59,465.41 379.15,465.05 379.71,465.52 380.27,465.11 381.39,468.14 381.95,464.23 382.51,465.17 383.07,465.57 383.63,466.97 384.19,463.64 384.75,464.44 385.31,464.53 385.87,462.17 386.43,462.50 386.99,460.67 387.55,459.77 388.11,460.42 388.67,462.93 389.23,463.28 390.35,458.42 390.91,462.09 391.47,459.85 392.03,461.73 393.15,457.10 393.71,457.80 394.27,456.51 394.83,459.86 395.39,453.93 395.95,456.24 396.51,456.09 397.07,453.14 397.63,456.40 398.75,456.23 399.31,455.79 399.87,453.72 400.43,454.92 400.99,451.99 401.55,452.45 402.67,450.94 403.23,450.79 403.79,448.46 404.35,448.53 404.91,447.24 405.47,447.39 406.03,447.06 406.59,445.03 407.15,448.55 407.71,448.27 408.27,445.22 409.39,441.92 409.95,442.14 410.51,441.67 411.07,443.21 411.63,441.08 412.19,441.04 412.75,440.62 413.87,436.19 414.43,436.50 414.99,435.86 416.11,436.91 416.67,432.33 417.23,434.31 417.79,432.23 418.91,435.25 420.03,429.82 420.59,429.21 421.15,429.78 421.71,426.23 422.27,425.08 422.83,425.36 423.39,426.91 423.95,421.81 424.51,423.85 425.07,422.81 426.75,417.28 427.31,417.53 427.87,419.45 428.43,420.23 428.99,417.22 430.11,415.39 430.67,420.52 431.23,412.95 431.79,411.64 432.35,415.00 432.91,410.94 433.47,413.41 434.03,409.52 434.59,412.47 435.15,412.14 435.71,407.75 436.27,407.86 436.83,404.81 437.39,407.47 437.95,403.31 438.51,401.41 439.07,402.48 440.75,397.56 441.31,399.41 441.87,395.79 442.43,393.62 442.99,393.31 443.55,393.84 444.11,391.43 444.67,390.44 445.23,388.20 445.79,387.91 446.35,386.85 446.91,391.03 447.47,383.27 448.03,385.68 448.59,385.01 449.15,382.22 449.71,380.53 450.27,382.64 450.83,383.21 451.39,381.01 451.95,377.14 452.51,375.56 453.07,376.49 453.63,371.27 454.19,371.08 454.75,374.21 455.31,371.34 455.87,370.02 456.43,369.57 456.99,368.43 457.55,366.19 458.11,368.32 458.67,367.18 459.23,366.83 459.79,360.39 460.35,367.39 460.91,365.01 461.47,365.22 462.59,355.82 463.15,356.55 463.71,356.54 464.27,361.60 464.83,354.17 465.39,353.58 465.95,356.39 466.51,355.64 467.07,354.49 467.63,349.78 468.19,354.38 469.31,347.05 469.87,349.05 470.43,344.59 470.99,343.92 471.55,344.76 472.11,343.06 472.67,343.96 473.79,342.15 474.35,340.48 474.91,344.19 475.47,338.03 476.03,338.05 476.59,335.58 477.15,335.22 477.71,332.88 478.27,339.26 478.83,333.09 479.39,335.81 480.51,329.53 481.07,331.43 482.19,329.44 483.31,336.89 483.87,332.73 484.43,334.53 484.99,335.10 485.55,326.98 486.11,336.67 486.67,329.51 487.23,337.39 487.79,333.35 488.35,334.83 488.91,339.59 489.47,336.19 490.03,329.53 490.59,329.52 491.15,331.26 491.71,336.47 492.27,335.13 492.83,336.96 493.39,336.01 493.95,338.18 494.51,334.18 495.07,333.97 496.19,342.43 496.75,339.03 497.31,337.28 498.43,345.59 498.99,345.28 499.55,344.44 500.11,344.64 500.67,341.99 501.79,353.86 502.35,349.73 502.91,355.97 503.47,351.30 504.03,354.63 505.15,358.27 505.71,355.46 506.27,362.55 507.39,356.67 507.95,363.49 508.51,363.13 509.07,362.17 510.19,368.00 510.75,369.00 511.31,369.51 511.87,368.99 513.55,378.92 514.11,376.97 515.23,380.11 516.35,378.69 516.91,383.19 518.03,387.82 518.59,389.14 519.15,389.71 520.27,394.01 520.83,394.48 521.39,395.72 521.95,395.09 522.51,399.23 523.07,400.85 523.63,400.58 524.75,403.51 525.31,402.96 525.87,404.66 526.43,405.39 526.99,408.79 527.55,406.98 528.11,410.71 528.67,407.52 529.23,414.97 529.79,414.34 530.35,412.66 530.91,415.08 531.47,419.33 532.59,414.77 533.15,417.56 533.71,418.18 534.27,421.04 534.83,420.87 535.39,418.55 535.95,422.99 536.51,425.06 537.07,426.24 537.63,425.37 538.19,428.92 538.75,429.06 539.31,428.90 539.87,431.48 540.43,425.99 540.99,432.76 541.55,433.89 542.11,433.34 542.67,435.92 543.23,435.15 544.35,437.64 544.91,436.77 545.47,439.34 546.03,437.95 547.15,445.42 547.71,446.52 548.27,443.63 548.83,447.58 549.95,443.66 551.07,446.45 551.63,446.89 552.19,448.30 552.75,446.50 553.31,447.81 553.87,450.52 554.43,449.55 554.99,450.96 555.55,450.73 556.67,453.22 557.23,451.10 557.79,454.94 558.35,452.30 558.91,454.66 559.47,454.57 560.03,456.32 560.59,456.19 561.15,457.09 561.71,456.17 562.27,456.29 563.39,457.44 564.51,455.57 565.07,459.43 565.63,460.74 566.19,457.79 566.75,460.59 567.31,458.83 568.43,461.43 569.55,460.87 570.11,458.52 570.67,461.42 571.23,461.81 571.79,464.14 572.35,461.97 572.91,463.61 573.47,464.31 574.03,466.23 574.59,462.67 575.15,465.90 575.71,464.99 576.83,464.09 577.39,464.99 577.95,468.01 578.51,465.92 579.07,465.54 579.63,466.37 580.19,469.66 580.75,469.34 582.43,469.02 582.99,467.79 583.55,467.68 584.11,471.35 584.67,469.91 585.23,469.92 585.79,469.50 586.91,472.92 587.47,470.74 588.03,471.21 588.59,470.74 589.15,472.06 589.71,471.27 590.27,471.89 590.83,471.09 591.39,472.43 591.95,471.73 592.51,473.64 593.07,472.87 593.63,475.74 594.19,472.15 594.75,472.05 595.31,474.94 595.87,474.58 596.43,471.83 596.99,477.49 597.55,474.20 598.11,476.06 598.67,474.12 599.23,476.28 599.79,476.88 600.35,474.82 601.47,477.07 602.03,478.87 602.59,477.46 603.15,478.38 603.71,477.07 604.83,478.18 605.95,474.99 606.51,475.40 607.07,478.46 607.63,478.70 609.31,477.01 609.87,475.35 610.43,479.20 610.99,475.10 611.55,479.68 612.11,477.14 612.67,481.57 613.23,479.03 613.79,478.05 614.35,478.62 614.91,478.33 615.47,481.53 616.03,479.37 616.59,479.97 617.15,478.30 617.71,480.54 618.27,477.94 618.83,479.34 619.39,482.58 619.95,477.89 620.51,481.25 621.07,483.11 621.63,482.02 622.19,483.93 622.75,483.73 623.31,482.94 623.87,479.88 624.43,481.52 624.99,482.14 625.55,484.13 626.11,482.60 626.67,482.76 627.23,481.86 627.79,483.35 628.35,483.54 628.91,480.56 629.47,483.86 630.03,484.37 630.59,483.77 631.15,483.63 631.71,482.79 632.27,484.67 632.83,483.05 633.39,486.13 633.95,484.54 634.51,481.33 635.07,483.92 635.63,484.60 636.19,485.77 636.75,485.22 637.31,485.21 638.43,487.43 638.99,483.04 640.11,487.98 641.23,484.36 641.79,487.69 642.35,488.05 642.91,485.38 643.47,487.09 644.03,486.43 644.59,486.84 645.15,487.65 645.71,485.95 646.83,486.49 647.39,484.61 647.95,487.55 648.51,488.07 649.07,487.17 649.63,487.40 650.19,489.33 650.75,487.43 651.31,487.51 651.87,489.62 652.43,489.58 652.99,491.78 653.55,487.69 654.11,489.68 654.67,488.18 655.23,492.73 655.79,489.43 656.35,490.78 656.91,487.14 658.03,490.92 658.59,489.52 659.15,489.31 659.71,491.03 660.27,490.04 661.39,490.67 661.95,489.37 662.51,492.49 663.07,492.43 663.63,490.42 664.19,490.32 664.75,488.21 665.31,488.96 665.87,492.16 666.43,489.45 666.99,490.74 667.55,493.11 668.67,492.03 669.23,492.45 669.79,491.90 670.35,492.64 670.91,492.70 671.47,494.50 672.03,493.68 672.59,492.11 673.15,494.72 673.71,493.79 674.83,494.28 675.95,493.02 676.51,494.00 677.07,494.06 677.63,492.17 678.19,491.86 678.75,492.50 679.31,491.82 680.43,487.89 680.99,490.25 682.11,485.46 682.67,484.83 683.23,485.05 683.79,483.18 684.35,479.78 684.91,479.04 686.59,475.26 687.15,472.24 687.71,472.76 688.27,469.39 688.83,467.78 689.95,460.63 690.51,459.88 691.07,455.27 691.63,454.21 692.19,454.59 692.75,454.44 693.31,465.24 694.43,474.90 696.67,485.07 697.79,493.35 698.35,491.73 698.91,493.93 699.47,493.73 700.03,492.88 700.59,497.30 701.15,497.49 701.71,498.36 702.27,496.45 702.83,496.36 703.39,499.43 703.95,496.26 704.51,498.53 705.07,498.89 705.63,497.37 706.19,496.57 706.75,497.39 707.31,494.97 707.87,496.43 708.43,496.13 708.99,494.97 710.11,497.52 710.67,499.80 711.23,495.89 711.79,498.17 712.35,498.27 712.91,497.56 713.47,497.31 714.03,498.79 714.59,498.68 715.15,495.78 715.71,499.11 716.27,496.74 716.83,496.55 717.39,495.55 717.95,497.86 718.51,494.29 719.63,494.99 720.19,493.36 720.75,494.09 721.31,494.13 721.87,494.69 722.99,490.24 723.55,489.92 725.23,484.06 726.91,471.40 728.59,455.63 731.95,419.80 733.07,401.57 734.19,361.31 734.50,357.10 734.75,359.75 736.43,410.45 739.23,468.26 740.35,486.79 741.47,495.09 742.03,495.91 742.59,498.73 743.15,498.60 744.27,501.15 744.83,498.74 745.39,498.42 746.51,503.65 747.07,503.05 747.63,501.80 748.19,502.83 748.75,501.79 749.87,504.10 750.43,501.02 750.99,501.12 751.55,500.21 752.11,501.49 752.67,503.72 753.79,501.05 754.35,501.92 754.91,502.06 755.47,503.76 756.59,503.18 757.15,504.47 757.71,503.61 758.27,504.31 758.83,502.20 759.39,501.90 759.95,502.65 760.51,505.76 761.07,501.71 761.63,503.24 762.19,503.54 762.75,502.02 763.31,501.85 763.87,505.83 764.43,503.53 764.99,503.54 765.55,504.77 766.11,504.70 766.67,503.38 767.23,503.34 767.79,505.29 768.35,504.78 768.91,505.49 769.47,503.77 770.03,508.38 770.59,505.38 771.15,507.20 771.71,503.63 772.27,503.96 772.83,503.22 773.95,504.73 774.51,503.85 775.07,503.42 776.19,504.95 776.75,506.28 777.31,503.48 777.87,504.71 778.99,506.16 779.55,504.14 780.11,504.57 780.67,503.91 781.23,503.91 781.79,504.49 782.35,503.55 783.47,503.80 784.03,506.60 784.59,504.31 785.15,506.60 785.71,504.57 786.27,504.50 786.83,503.69 787.95,506.70 788.51,507.05 789.07,503.83 789.63,508.36 790.19,505.54 790.75,505.71 791.31,506.25 792.43,503.43 792.99,504.42 793.55,503.95 794.11,506.39 795.23,501.47 795.79,505.22 796.91,502.60 797.47,500.05 798.03,506.00 798.59,501.12 799.15,500.91 799.71,500.41 800.27,500.60 800.83,500.19 801.39,500.78 801.95,500.90 802.51,499.92 803.07,500.87 803.63,497.51 804.19,499.35 805.31,496.74 805.87,497.15 806.43,496.03 807.50,495.50 807.55,494.00 808.11,493.91 808.67,494.16 809.79,498.66 810.35,498.35 810.91,499.84 811.47,499.38 812.03,499.67 813.15,505.00 813.71,501.60 814.27,504.49 814.83,501.36 815.39,500.95 816.51,501.16 817.07,503.07 818.19,502.60 818.75,502.01 819.31,504.03 819.87,505.04 820.43,503.61 821.55,501.76 822.11,502.60 822.67,501.14 823.23,504.33 823.79,501.48 824.35,503.37 824.91,500.26 825.47,502.29 826.03,501.91 826.59,502.07 827.15,501.50 827.71,500.10 828.27,504.41 828.83,499.26 829.39,502.48 829.95,500.84 830.51,500.08 831.07,502.02 831.63,502.78 832.19,501.68 832.75,497.88 833.31,498.41 833.87,499.78 834.43,498.81 834.99,499.22 836.11,494.37 836.67,494.20 837.23,496.06 837.79,494.45 838.35,493.83 838.91,495.74 839.47,496.93 840.03,494.49 840.59,495.75 841.15,496.33 841.71,497.93 842.27,496.32 842.83,496.33 843.39,497.11 843.95,496.36 844.51,499.75 845.07,500.11 845.63,498.10 847.31,498.66 847.87,497.64 848.43,499.51 849.55,500.23 850.11,498.05 850.67,499.16 851.23,497.17 851.79,500.86 852.35,496.24 853.47,499.45 854.03,494.80 854.59,496.71 855.15,493.73 855.71,497.24 856.27,496.00 857.39,495.54 857.95,497.67 858.51,498.05 859.63,500.34 860.19,499.55 861.31,502.90 861.87,502.89 862.43,503.49 862.99,503.76 863.55,503.56 864.11,504.60 864.67,504.59 865.23,507.64 865.79,504.68 866.35,503.77 866.91,505.05 867.47,504.68 868.03,503.95 868.59,505.31 869.15,503.89 869.71,503.33 870.83,506.41 871.95,504.46 872.51,504.16 873.07,504.05 873.63,504.92 874.19,503.69 874.75,504.23 875.31,503.56 875.87,504.06 876.43,501.29 876.99,503.64 877.55,502.74 878.11,503.17 878.67,504.09 879.23,502.29 879.79,502.52 880.35,503.98 880.91,503.83 881.47,504.97 882.03,504.77 882.59,502.89 883.15,505.33 883.71,505.37 884.27,506.17 884.83,507.98 885.39,506.98 885.95,507.09 886.51,505.70 887.63,509.32 888.19,509.08 888.75,507.02 889.31,506.85 890.43,509.23 890.99,508.14 891.55,510.87 892.11,511.57 892.67,507.73 893.23,512.01 893.79,511.91 894.35,507.71 894.91,508.13 895.47,509.86 896.03,509.92 896.59,508.75 897.71,511.03 898.83,507.15 900.51,512.00 901.07,511.94 901.63,507.48 902.75,510.63 903.31,509.73 903.87,511.58 904.43,511.32 904.99,511.74 905.55,511.84 906.11,509.14 906.67,511.50 907.23,507.37 908.91,506.57 909.47,508.03 910.03,507.97 910.59,504.10 911.15,505.55 911.71,505.62 912.27,504.16 912.83,500.97 913.39,502.95 913.95,502.81 914.51,498.79 915.63,501.90 916.00,501.00 916.19,502.33 916.75,502.44 917.31,500.05 917.87,501.41 918.43,505.07 918.99,505.32 919.55,508.27 920.11,509.82 920.67,509.91 921.23,513.19 921.79,514.13 922.35,514.13 922.91,514.61 923.47,514.54 924.03,515.84 924.59,516.62 925.71,514.48 926.27,512.90 926.83,514.15 927.95,513.68 928.51,513.23 929.07,515.98 929.63,515.78 930.19,512.77 930.75,515.93 931.31,515.52 931.87,517.10 932.43,513.90 932.99,515.53 933.55,513.97 935.23,515.85 935.79,514.74 936.35,512.56 936.91,515.69 937.47,514.94 938.03,514.83 938.59,513.33 939.71,516.43 940.27,516.65 941.39,514.79 941.95,516.52 942.51,514.52 943.07,516.55 944.19,513.50 944.75,515.53 945.31,515.38 945.87,515.51 946.43,514.15 946.99,513.94 947.55,516.44 948.11,514.86 948.67,516.53 949.23,516.62 949.79,513.71 950.35,514.22 950.91,511.27 951.47,514.41 952.03,513.75 952.59,514.49 953.15,513.91 954.83,513.54 955.39,515.64 955.95,514.75 956.51,516.41 957.07,514.81 957.63,513.91 958.19,513.69 958.75,516.15 959.31,512.15 959.87,515.08 960.43,515.35 960.99,513.15 961.55,516.87 962.11,515.92 962.67,515.76 963.23,515.24 963.79,516.27 964.35,515.79 964.91,516.57 965.47,514.96 966.03,518.19 966.59,514.66 967.15,515.21 967.71,514.09 968.27,515.45 968.83,513.68 969.39,515.20 969.95,514.53 970.51,513.04 971.07,510.06 971.63,511.36 972.19,511.08 972.75,511.12 973.31,508.28 973.87,510.08 974.43,510.37 974.99,508.95 975.55,508.84 976.11,510.95 976.67,508.51 977.23,510.02 977.79,514.31 978.35,512.09 978.91,513.12 979.47,513.42 980.59,515.42 981.15,514.05 981.71,514.24 982.27,515.49 982.83,518.14 983.39,516.07 983.95,519.37 984.51,517.85 985.63,516.78 986.19,518.06 986.75,520.75 987.31,515.99 988.43,519.51 988.99,518.69 989.55,517.29 990.11,516.90 990.67,517.97 991.23,515.09 991.79,519.24 992.35,516.17 992.91,514.94 993.47,516.89 994.03,517.00 994.59,516.57 995.15,514.82 996.27,517.80 996.83,517.60 997.39,518.76 998.51,515.92 999.07,516.39 999.63,517.25 1000.75,517.67 1002.43,517.79 1002.99,516.18 1003.55,518.57 1004.11,518.47 1004.67,517.43 1005.23,518.09 1005.79,517.53 1006.35,517.73 1006.91,515.61 1007.47,515.55 1008.03,518.75 1008.59,517.13 1009.15,518.65 1009.71,517.94 1010.27,515.75 1010.83,516.89 1011.39,512.83 1011.95,513.27 1012.51,510.52 1013.07,510.86 1013.63,510.65 1014.19,508.42 1014.75,507.79 1015.31,505.49 1015.87,505.41 1016.43,503.47 1016.99,503.10 1017.55,500.68 1018.11,500.27 1019.23,495.59 1020.35,493.34 1020.91,490.40 1021.47,488.72 1022.00,489.00 1022.03,491.22 1022.59,490.04 1023.15,490.15 1023.71,492.31 1024.27,496.57 1024.83,498.44 1025.39,503.15 1025.95,506.06 1026.51,507.16 1027.07,509.29 1027.63,509.75 1028.19,512.78 1028.75,511.54 1029.31,514.45 1029.87,514.42 1030.43,517.23 1030.99,516.11 1031.55,516.54 1032.11,518.69 1032.67,517.61 1033.23,519.60 1033.79,519.14 1035.47,520.02 1036.03,518.21 1036.59,520.08 1037.15,519.48 1037.71,519.28 1038.27,521.70 1038.83,520.34 1039.39,521.66 1039.95,517.97 1040.51,521.19 1041.07,520.30 1041.63,522.07 1042.19,520.37 1042.75,519.59 1043.31,519.27 1043.87,520.21 1044.43,518.13 1044.99,519.20 1045.55,518.72 1046.11,522.88 1046.67,520.70 1047.23,519.79 1047.79,516.91 1048.35,520.23 1048.91,520.00 1049.47,520.77 1050.03,521.04 1051.15,519.37 1051.71,520.80 1052.83,520.82 1053.95,521.32 1054.51,519.65 1055.07,521.58 1055.63,520.10 1056.19,520.47 1056.75,519.72 1057.87,522.25 1058.43,521.01 1058.99,520.86 1059.55,521.16 1061.23,518.80 1061.79,520.97 1062.91,521.99 1063.47,518.96 1064.59,521.52 1065.15,520.51 1065.71,521.90 1066.27,522.01 1066.83,519.81 1067.39,521.84 1067.95,520.65 1068.51,520.03 1069.07,520.73 1070.19,518.09 1070.75,520.61 1071.87,520.30 1072.43,519.90 1072.99,517.75 1074.11,520.66 1074.67,518.48 1075.23,518.29 1075.79,518.57 1076.35,517.75 1076.91,517.95 1077.47,517.82 1078.03,516.65 1079.15,517.04 1079.71,517.47 1080.27,520.44 1080.83,517.33 1081.39,516.62 1081.95,517.94 1082.51,516.66 1083.07,521.38 1083.63,519.07 1085.31,521.99 1085.87,520.76 1086.43,521.84 1087.55,521.73 1088.11,521.92 1088.67,520.77 1089.23,522.84 1089.79,520.61 1090.35,521.38 1090.91,519.46 1091.47,519.86 1092.03,518.56 1092.59,519.92 1094.27,517.44 1094.83,521.29 1095.39,519.50 1095.95,519.83 1096.51,520.59 1097.07,519.69 1097.63,520.76 1098.19,519.56 1098.75,520.32 1099.31,522.36 1099.87,519.58 1100.43,521.46 1100.99,521.07 1101.55,523.77 1102.11,522.14 1102.67,522.80 1103.23,522.73 1103.79,521.74 1104.35,522.70 1104.91,522.43 1105.47,524.23 1106.03,522.30 1106.59,524.29 1107.15,523.53 1108.27,524.68 1109.39,523.47 1109.95,522.23 1111.07,522.37 1111.63,522.99 1112.19,521.95 1112.75,521.69 1113.31,524.17 1113.87,522.79 1114.43,522.66 1114.99,520.98 1116.11,521.47 1116.67,520.67 1117.23,521.50 1117.79,521.42 1118.35,519.98 1118.91,519.71 1119.47,521.00 1120.03,517.90 1121.15,520.47 1122.27,518.18 1122.83,518.54 1123.95,515.38 1124.51,513.14 1125.07,511.88 1125.63,511.61 1126.19,513.07 1126.75,509.80 1127.50,510.00 1127.87,510.33 1128.43,511.67 1128.99,510.26 1129.55,511.70 1130.67,513.37 1131.23,513.91 1132.35,518.49 1132.91,518.73 1133.47,520.46 1134.03,519.46 1134.59,522.82 1135.15,520.11 1135.71,520.73 1136.27,522.15 1136.83,521.52 1137.39,522.43 1137.95,524.23 1138.51,523.04 1139.07,522.38 1139.63,524.21 1140.19,522.82 1141.31,524.20 1141.87,524.33 1142.43,522.10 1142.99,524.75 1143.55,524.41 1144.11,523.70 1145.23,524.10 1145.79,523.12 1146.35,525.64 1146.91,526.33 1147.47,524.34 1148.03,524.54 1148.59,524.28 1149.15,525.39 1149.71,524.51 1150.27,526.07 1150.83,524.90 1151.39,526.28 1151.95,523.31 1152.51,524.11 1153.07,525.58 1153.63,525.54 1154.19,524.74 1155.31,524.29 1155.87,526.18 1156.43,525.64 1156.99,527.07 1157.55,525.66 1159.23,527.12 1159.79,525.72 1160.35,525.99 1160.91,527.94 1161.47,523.77 1162.03,526.42 1162.59,526.53 1163.15,525.80 1163.71,524.10 1164.27,526.05 1164.83,525.50 1165.39,525.75 1166.51,525.09 1167.07,525.90 1167.63,524.45 1168.19,526.93 1168.75,526.06 1169.31,525.95 1169.87,526.42 1170.43,527.29 1170.99,525.85 1171.55,526.93 1172.11,529.18 1172.67,526.76 1173.23,527.46 1173.79,526.79 1174.35,526.98 1174.91,526.00 1175.47,528.47 1176.03,526.32 1176.59,527.91 1177.15,526.49 1177.71,527.38 1178.27,526.10 1178.83,525.62 1179.39,528.35 1179.95,528.25 1181.07,527.25 1181.63,527.74 1182.19,526.62 1183.31,529.21 1183.87,526.95 1184.43,529.97 1184.99,527.77 1185.55,528.78 1186.67,525.17 1187.23,524.84 1187.79,527.61 1188.35,526.68 1188.91,524.35 1189.47,527.35 1190.03,525.00 1190.59,528.54 1191.15,524.31 1191.71,525.46 1192.83,523.34 1193.39,524.66 1193.95,522.70 1194.51,522.44 1195.07,522.46 1195.63,520.64 1196.19,520.03 1196.75,520.68 1197.87,520.86 1198.43,521.27 1198.99,519.00 1199.55,520.61 1200.11,519.00 1200.67,518.62 1201.23,520.50 1201.79,521.06 1202.35,519.87 1202.91,520.22 1203.47,521.92 1204.03,522.03 1204.59,521.29 1205.15,523.67 1206.27,524.72 1207.39,527.15 1207.95,524.84 1209.07,527.24 1209.63,524.03 1210.19,528.03 1210.75,526.88 1211.31,529.73 1212.43,526.17 1212.99,527.77 1213.55,527.38 1214.11,528.00 1214.67,526.08 1215.23,528.11 1215.79,527.47 1216.35,527.70 1216.91,528.49 1217.47,528.40 1218.03,530.22 1218.59,528.28 1219.15,528.87 1219.71,527.05 1220.27,526.98 1220.83,529.58 1221.39,527.01 1221.95,525.68 1222.51,525.20 1223.07,525.28 1223.63,524.90 1224.19,524.81 1224.75,527.10 1225.31,525.35 1225.87,525.45 1226.43,527.05 1226.99,524.39 1227.55,524.58 1228.11,523.44 1228.67,526.68 1229.23,525.97 1229.79,523.44 1230.35,526.70 1230.91,527.00 1231.47,523.34 1232.59,527.29 1233.15,525.47 1233.71,526.28 1234.27,527.64 1234.83,527.74 1235.39,527.25 1236.51,529.54 1237.07,527.96 1237.63,531.37 1238.19,529.17 1238.75,529.27 1239.31,527.51 1240.43,527.78 1240.99,529.49 1241.55,527.24 1242.11,529.66 1242.67,529.48 1243.23,527.95 1243.79,528.40 1244.35,530.42 1244.91,527.72 1245.47,526.00 1246.03,527.78 1246.59,528.51 1247.15,529.16 1247.71,528.76 1248.27,531.02 1249.39,528.02 1249.95,528.73 1250.51,528.85 1251.07,527.61 1251.63,528.13 1252.19,528.00 1253.31,526.61 1253.87,525.30 1254.43,526.57 1254.99,525.96 1255.55,527.76 1256.11,527.51 1256.67,526.35 1257.23,527.59 1257.79,527.76 1258.35,527.00 1258.91,528.32 1259.47,529.10 1260.03,530.82 1260.59,529.64 1261.15,530.15 1261.71,531.21 1262.27,531.08 1262.83,529.90 1263.39,530.38 1263.95,529.39 1264.51,529.48 1265.63,530.24 1266.19,531.45 1266.75,531.31 1267.31,531.50 1267.87,529.07 1268.43,530.68 1268.99,531.06 1270.11,528.69 1270.67,531.61 1271.23,533.37 1271.79,530.21 1272.91,533.47 1273.47,530.75 1274.03,530.84 1274.59,529.79 1275.15,530.66 1275.71,531.00 1276.27,530.26 1276.83,527.87 1277.39,527.81 1277.95,524.90 1278.51,525.04 1280.19,523.06 1281.31,516.44 1281.87,516.41 1282.43,514.48 1283.55,507.28 1284.67,503.13 1285.23,499.80 1285.75,502.50 1285.79,500.68 1286.35,500.55 1288.03,509.37 1288.59,509.89 1289.15,513.59 1289.71,513.73 1290.83,517.96 1291.39,518.00 1291.95,520.26 1292.51,520.55 1293.63,523.20 1294.19,525.07 1295.31,522.95 1295.87,524.13 1296.43,521.47 1296.99,521.04 1298.11,518.14 1299.23,513.38 1299.79,513.19 1300.35,512.15 1300.91,512.12 1301.25,512.50 1302.03,511.10 1302.59,514.58 1303.71,518.34 1305.39,526.77 1305.95,525.62 1307.07,529.64 1307.63,528.04 1308.19,529.80 1308.75,532.60 1309.31,530.30 1309.87,531.88 1310.43,531.49 1310.99,532.54 1311.55,532.05 1312.11,533.77 1312.67,532.72 1313.23,536.00 1313.79,535.16 1314.35,535.25 1314.91,534.46 1315.47,535.26 1316.03,535.11 1316.59,535.87 1317.15,534.85 1317.71,534.90 1318.27,536.77 1318.83,536.24 1319.39,537.02 1319.95,536.26 1320.51,533.73 1321.07,536.09 1321.63,536.39 1322.19,535.91 1322.75,536.70 1323.31,536.65 1323.87,536.20 1324.99,536.13 1325.55,537.40 1326.11,534.74 1326.67,534.91 1327.23,537.11 1327.79,534.41 1328.35,536.68 1328.91,536.40 1329.47,537.77 1330.03,535.67 1330.59,535.67 1331.15,536.22 1331.71,536.11 1332.27,535.42 1332.83,535.51 1333.95,536.73 1334.51,533.69 1335.07,536.30 1335.63,536.01 1336.75,534.83 1337.31,535.03 1337.87,533.88 1338.43,536.03 1338.99,535.98 1340.11,536.48 1340.67,534.82 1341.23,536.72 1341.79,535.87 1342.35,536.46 1343.47,536.82 1344.03,537.47 1344.59,536.72 1345.15,536.86 1345.71,535.89 1346.27,536.22 1346.83,535.19 1347.39,536.95 1347.95,536.32 1349.07,537.15 1349.63,536.73 1350.19,538.67 1350.75,536.36 1351.31,538.92 1351.87,538.53 1352.43,537.01 1352.99,537.67 1353.55,537.96 1354.11,536.59 1355.23,537.73 1355.79,537.29 1356.91,535.16 1357.47,537.39 1358.03,537.62 1358.59,538.82 1359.15,538.32 1359.71,536.42 1360.27,536.38 1360.83,535.74 1361.39,538.03 1361.95,537.30 1362.51,537.52 1363.63,535.55 1364.19,537.23 1364.75,535.15 1365.31,535.09 1366.99,538.58 1367.55,537.71 1368.11,537.56 1368.67,537.74 1369.79,538.57 1370.35,536.29 1370.91,536.16 1371.47,539.95 1372.03,535.36 1372.59,534.45 1373.15,536.30 1373.71,536.45 1374.27,536.06 1374.83,538.58 1375.39,538.01 1375.95,536.39 1376.51,539.88 1377.07,537.36 1377.63,538.00 1378.19,536.94 1378.75,537.08 1379.87,539.56 1380.99,538.16 1381.55,537.82 1382.11,539.08 1382.67,536.18 1383.23,537.40 1383.79,536.30 1384.35,536.85 1384.91,536.57 1385.47,535.86 1386.03,535.75 1386.59,536.92 1387.15,538.90 1387.71,537.26 1388.83,536.20 1389.39,537.87 1389.95,537.97 1390.51,539.65 1391.07,537.39 1391.63,539.52 1392.19,537.28 1392.75,538.62 1393.31,538.89 1394.43,535.93 1394.99,537.98 1396.11,539.11 1396.67,539.00 1397.23,539.16 1397.79,536.56 1398.35,538.90 1398.91,537.82 1399.47,538.53 1400.03,535.69 1400.59,537.90 1401.71,537.71 1402.27,540.58 1402.83,537.48 1403.95,538.93 1404.51,538.69 1405.07,537.27 1405.63,536.99 1406.19,538.09 1406.75,537.21 1407.31,538.90 1408.43,536.76 1408.99,538.91 1410.67,538.72 1411.23,539.04 1412.35,536.47 1412.91,537.71 1413.47,537.79 1414.03,537.40 1414.59,538.11 1415.15,539.75 1415.71,538.75 1416.27,538.53 1416.83,538.89 1417.39,537.47 1417.95,540.36 1418.51,538.41 1419.07,539.38 1420.19,539.13 1420.75,539.69 1421.31,537.74 1421.87,538.53 1422.43,537.56 1422.99,537.65 1423.55,535.68 1424.11,537.93 1424.67,537.54 1425.23,538.10 1425.79,537.06 1426.35,536.96 1426.91,538.49 1427.47,537.68 1428.03,538.91 1428.59,537.58 1429.15,537.33 1429.71,539.15 1430.83,538.73 1431.39,539.05 1432.51,538.79 1433.07,537.48 1433.63,538.52 1434.19,537.98 1434.75,537.94 1435.31,537.15 1436.43,539.20 1436.99,539.13 1437.55,537.25 1438.11,539.78 1438.67,538.51 1439.23,540.19 1439.79,539.01 1440.35,538.38 1440.91,540.05 1441.47,537.69 1442.03,539.26 1442.59,538.92 1443.71,539.35 1444.27,539.30 1444.83,540.26 1445.39,537.56 1445.95,539.82 1446.51,540.28 1447.07,537.90 1447.63,537.83 1448.19,538.70 1448.75,537.99 1449.31,539.97 1449.87,539.48 1450.43,537.89 1450.99,537.93 1451.55,540.17 1452.11,537.83 1452.67,537.69 1453.23,540.69 1453.79,540.05 1454.35,538.54 1454.91,539.64 1455.47,537.75 1456.03,540.65 1456.59,542.32 1457.15,539.41 1457.71,540.59 1458.27,539.37 1458.83,538.66 1459.39,539.32 1459.95,539.01 1460.51,538.16 1461.07,539.33 1462.19,539.61 1462.75,539.41 1463.31,539.61 1464.43,538.54 1464.99,537.60 1465.55,539.17 1466.67,537.99 1467.23,539.60 1467.79,540.02 1468.35,540.87 1468.91,538.86 1469.47,541.21 1470.03,539.30 1471.15,541.09 1471.71,539.65 1472.83,538.63 1473.39,540.62 1473.95,538.84 1474.51,539.67 1475.07,539.50 1475.63,539.84 1476.19,540.89 1476.75,540.17 1477.31,541.70 1477.87,541.81 1478.99,538.47 1479.55,539.39 1480.11,539.00 1480.67,540.75 1481.23,539.71 1481.79,540.17 1482.35,538.09 1483.47,540.74 1484.03,539.45 1484.59,538.79 1485.15,539.69 1485.71,540.13 1486.27,539.70 1487.39,540.24 1487.95,539.14 1488.51,539.63 1489.63,539.24 1490.19,537.83 1490.75,539.35 1491.31,539.79 1491.87,537.89 1492.43,540.80 1492.99,539.30 1493.55,539.39 1494.11,539.95 1494.67,539.64 1495.23,540.40 1495.79,540.63 1496.35,537.44 1496.91,539.81 1497.47,540.51 1498.03,540.33 1498.59,540.52 1499.15,540.08 1499.71,539.97 1500.27,539.12 1500.83,541.87 1501.39,540.50 1503.07,539.83 1503.63,540.20 1504.19,541.07 1505.31,538.89 1505.87,539.95 1506.43,539.77 1506.99,540.35 1507.55,540.43 1508.11,542.04 1508.67,539.32 1509.23,540.97 1509.79,540.66 1510.35,539.37 1510.91,538.63 1511.47,540.24 1512.03,538.41 1512.59,541.12 1513.15,540.14 1513.71,537.48 1514.27,539.69 1515.95,538.23 1516.51,540.01 1517.07,537.80 1517.63,537.58 1518.19,539.27 1519.31,536.30 1519.87,540.38 1520.43,537.87 1520.99,536.34 1521.55,539.70 1522.11,537.51 1522.67,537.40 1523.23,536.75 1523.79,537.72 1524.35,537.56 1524.91,537.77 1525.47,538.80 1526.03,537.95 1527.15,537.62 1527.71,539.73 1528.83,539.22 1529.39,540.87 1531.07,539.17 1531.63,540.10 1532.19,539.79 1533.31,541.29 1533.87,541.41 1534.43,538.53 1534.99,540.25 1535.55,540.75 1536.67,540.11 1537.23,539.30 1537.79,539.43 1538.35,540.06 1538.91,538.48 1539.47,537.85 1540.03,538.69 1540.59,538.64 1541.15,536.94 1541.71,536.72 1542.27,535.52 1542.83,536.39 1543.39,536.20 1544.51,534.60 1545.07,534.14 1546.19,535.25 1547.00,533.75 1547.31,535.13 1547.87,533.71 1548.43,533.47 1548.99,532.82 1549.55,535.59 1550.11,535.53 1550.67,534.60 1551.23,535.09 1551.79,534.31 1553.47,537.31 1554.03,535.36 1554.59,539.03 1555.15,538.92 1555.71,537.35 1556.27,539.30 1556.83,539.09 1557.39,539.30 1557.95,539.88 1559.07,540.46 1560.19,541.79 1560.75,541.03 1561.31,540.76 1561.87,541.62 1562.43,542.00 1562.99,541.23 1563.55,542.42 1564.67,540.33 1565.23,542.30 1565.79,542.46 1566.35,542.00 1566.91,542.13 1567.47,540.81 1568.03,541.78 1568.59,542.17 1569.15,541.61 1569.71,540.36 1570.27,541.39 1570.83,540.53 1571.39,541.26 1571.95,541.00 1572.51,541.89 1573.07,540.57 1573.63,541.67 1574.75,541.83 1575.31,542.93 1575.87,540.93 1576.43,542.57 1576.99,542.56 1577.55,541.32 1578.11,540.60 1578.67,541.48 1579.79,541.96 1580.35,542.65 1580.91,542.21 1581.47,540.14 1582.03,542.60 1582.59,540.12 1583.15,541.04 1583.71,540.09 1584.27,541.97 1584.83,541.11 1585.39,542.53 1585.95,540.57 1587.07,543.12 1587.63,541.50 1588.19,542.78 1588.75,541.82 1589.31,541.78 1589.87,540.69 1590.99,544.25 1591.55,542.36 1592.11,542.88 1592.67,543.82 1593.23,541.98 1593.79,542.80 1594.35,542.90 1594.91,542.10 1596.03,543.89 1597.15,542.65 1597.71,542.84 1598.27,541.33 1598.83,543.15 1599.39,541.46 1599.95,543.43 1600.51,541.86 1601.07,542.98 1601.63,541.57 1602.19,541.65 1602.75,540.50 1603.31,542.01 1603.87,542.02 1604.43,542.74 1604.99,540.86 1605.55,540.17 1606.11,542.35 1606.67,539.26 1607.79,542.65 1608.35,541.95 1608.91,540.71 1610.03,543.06 1610.59,541.51 1611.15,541.59 1611.71,542.95 1612.27,541.09 1613.39,542.68 1613.95,540.09 1614.51,541.06 1615.07,542.75 1615.63,542.16 1616.19,543.87 1616.75,542.31 1617.31,542.77 1617.87,541.28 1618.43,541.47 1618.99,543.79 1619.55,541.80 1620.11,542.81 1620.67,542.37 1621.23,544.57 1621.79,540.92 1622.35,542.81 1623.47,541.21 1624.03,541.79 1624.59,542.72 1625.15,544.46 1625.71,543.35 1626.83,542.58 1627.39,541.06 1627.95,541.52 1628.51,543.40 1629.07,541.78 1629.63,544.13 1630.19,543.58 1630.75,544.20 1631.87,542.21 1632.43,544.21 1632.99,542.15 1633.55,543.09 1634.67,542.10 1635.23,542.78 1635.79,542.92 1636.35,541.95 1636.91,544.23 1637.47,542.38 1638.03,542.17 1638.59,543.27 1639.15,542.64 1639.71,543.21 1640.27,543.44 1640.83,541.78 1641.39,544.57 1641.95,541.53 1642.51,540.64 1643.07,542.60 1644.19,541.18 1644.75,539.26 1645.31,538.68 1645.87,539.11 1646.43,538.86 1646.99,539.50 1647.55,538.15 1648.11,538.12 1648.67,537.83 1649.23,536.22 1649.79,539.55 1650.35,538.26 1650.91,539.53 1651.47,538.52 1652.59,539.03 1653.15,540.63 1653.71,541.22 1654.27,539.52 1654.83,540.75 1655.39,539.95 1655.95,541.32 1656.51,540.28 1657.07,540.63 1657.63,542.52 1658.19,542.19 1658.75,542.27 1659.31,543.74 1659.87,541.93 1660.99,543.61 1661.55,542.46 1662.11,542.29 1662.67,543.74 1663.23,542.96 1663.79,543.06 1664.35,542.42 1664.91,542.23 1665.47,542.32 1666.59,544.14 1667.15,544.37 1667.71,542.77 1668.27,544.36 1668.83,545.14 1669.39,544.97 1669.95,543.24 1670.51,545.92 1671.07,544.15 1672.19,544.86 1672.75,542.56 1674.43,543.77 1674.99,542.34 1675.55,544.19 1676.11,542.81 1676.67,543.52 1677.23,543.63 1677.79,542.34 1678.35,544.41 1679.47,540.93 1680.03,544.00 1681.15,541.64 1682.27,543.83 1682.83,543.44 1683.39,544.12 1683.95,542.60 1684.51,543.72 1685.07,543.19 1685.63,543.24 1686.75,544.71 1687.31,543.15 1687.87,542.59 1688.43,543.48 1688.99,543.28 1689.55,540.74 1690.11,542.53 1691.23,541.45 1691.79,541.34 1692.35,541.82 1692.91,544.35 1693.47,542.18 1694.03,541.99 1694.59,540.78 1695.15,542.44 1695.71,543.17 1696.27,541.72 1696.83,543.00 1697.39,542.35 1697.95,542.06 1698.51,544.48 1699.07,541.38 1699.63,542.18 1700.19,540.57 1700.75,542.74 1701.31,541.33 1701.87,541.54 1702.43,542.93 1702.99,541.49 1703.55,542.90 1704.11,540.54 1704.67,542.94 1705.79,540.01 1706.35,542.77 1706.91,542.95 1707.47,541.61 1708.03,542.71 1708.59,541.98 1709.15,540.04 1709.71,542.22 1710.27,540.23 1710.83,541.60 1711.95,539.65 1712.51,540.00 1713.07,539.02 1713.63,540.52 1714.19,538.79 1714.75,541.86 1715.87,538.45 1716.43,540.33 1716.99,539.00 1717.55,541.15 1718.11,540.59 1718.67,539.08 1719.23,541.15 1719.79,540.82 1720.35,540.75 1720.91,538.96 1721.47,538.80 1722.03,542.09 1722.59,538.18 1723.15,540.11 1723.71,540.13 1724.27,538.84 1724.83,538.98 1725.39,538.73 1725.95,541.50 1726.51,540.32 1727.07,542.38 1727.63,542.54 1728.75,541.90 1729.31,541.87 1729.87,542.64 1730.99,541.40 1731.55,542.12 1732.11,544.21 1732.67,543.78 1733.23,541.84 1733.79,540.98 1734.35,541.81 1734.91,542.03 1735.47,542.96 1736.03,543.02 1736.59,544.57 1737.15,545.03 1737.71,543.48 1738.27,545.11 1738.83,544.72 1739.39,543.77 1739.95,544.19 1740.51,543.91 1741.07,543.00 1741.63,545.32 1742.19,545.58 1742.75,545.34 1743.31,544.44 1743.87,544.69 1744.43,544.67 1744.99,544.55 1745.55,544.07 1746.11,544.35 1746.67,544.16 1747.23,544.88 1747.79,544.72 1748.35,542.49 1748.91,545.88 1749.47,543.71 1750.59,541.45 1751.15,542.83 1751.71,543.36 1752.27,541.43 1752.83,541.62 1753.39,542.96 1753.95,541.73 1755.07,540.57 1755.63,541.51 1756.19,538.85 1756.75,539.51 1757.87,537.69 1758.43,537.43 1758.99,538.25 1759.55,538.22 1760.11,538.50 1760.40,539.00 1761.23,538.38 1762.91,539.15 1763.47,540.75 1764.03,539.26 1764.59,539.90 1765.15,539.85 1765.71,540.29 1766.27,541.74 1766.83,542.59 1767.39,542.30 1767.95,543.87 1768.51,543.60 1769.07,544.92 1769.63,543.90 1770.19,545.42 1771.87,543.66 1772.99,543.09 1773.55,543.65 1774.11,543.58 1774.67,543.96 1775.23,545.96 1775.79,544.16 1776.35,543.55 1776.91,545.78 1777.47,545.65 1778.03,544.00 1778.59,545.24 1779.15,544.96 1779.71,545.44 1780.27,544.46 1780.83,545.11 1781.95,544.73 1783.07,547.05 1783.63,545.59 1784.19,545.16 1784.75,544.95 1785.31,546.26 1786.43,544.57 1786.99,544.70 1788.67,546.90 1789.23,546.51 1789.79,545.77 1790.91,546.58 1791.47,545.13 1792.03,542.56 1792.59,546.66 1793.15,546.58 1793.71,546.07 1794.27,546.86 1795.39,544.73 1795.95,544.18 1796.51,545.19 1797.07,544.60 1798.19,546.16 1798.75,544.04 1799.31,545.27 1799.87,547.64 1800.43,545.79 1800.99,544.69 1801.55,546.03 1802.11,545.54 1802.67,546.56 1803.23,545.25 1803.79,547.50 1804.35,547.41 1804.91,547.96 1805.47,546.72 1806.03,547.61 1806.59,544.53 1807.15,545.07 1807.71,546.49 1808.83,545.40 1809.39,546.03 1809.95,545.79 1810.51,545.92 1811.07,543.84 1811.63,546.16 1812.19,545.90 1813.31,544.72 1813.87,546.03 1814.43,545.33 1814.99,545.49 1816.11,547.75 1816.67,546.13 1817.23,545.96 1817.79,546.68 1818.35,546.46 1818.91,545.59 1819.47,547.54 1820.03,547.37 1820.59,545.93 1821.71,546.58 1822.27,545.83 1822.83,547.15 1823.39,546.39 1823.95,545.12 1824.51,544.66 1825.07,548.00 1825.63,544.33 1826.19,546.95 1826.75,546.21 1827.31,546.30 1827.87,545.11 1828.43,545.83 1828.99,545.63 1829.55,547.20 1830.67,544.14 1831.23,545.99 1831.79,546.61 1832.35,546.58 1832.91,545.11 1833.47,545.63 1834.03,544.82 1835.15,545.75 1835.71,545.75 1836.27,543.14 1836.83,544.66 1837.39,545.03 1837.95,545.11 1838.51,542.13 1839.07,544.13 1839.63,545.24 1840.19,545.48 1840.75,543.49 1841.31,543.66 1841.87,542.45 1842.43,543.07 1842.99,542.74 1843.55,544.53 1844.11,540.27 1844.67,543.56 1845.23,543.29 1845.79,543.72 1846.35,541.83 1846.91,542.81 1847.47,542.34 1848.03,542.86 1849.15,541.96 1850.27,542.01 1850.83,544.03 1851.39,541.89 1851.95,541.93 1852.51,543.75 1853.07,542.64 1853.63,542.60 1854.19,543.82 1854.75,543.19 1855.31,543.34 1855.87,542.77 1856.43,540.83 1857.55,543.50 1858.11,543.17 1858.67,544.67 1859.23,543.30 1859.79,543.56 1860.35,543.50 1860.91,544.08 1861.47,546.66 1862.03,544.19 1862.59,543.13 1863.15,544.12 1863.71,543.48 1864.27,545.24 1864.83,545.38 1865.39,545.34 1866.51,544.80 1867.07,543.42 1867.63,545.47 1868.19,545.15 1868.75,546.99 1869.31,545.14 1869.87,545.38 1870.43,544.33 1871.55,546.41 1872.11,544.47 1872.67,545.50 1873.23,545.29 1873.79,546.14 1874.35,545.48 1875.47,545.72 1876.03,547.43 1876.59,547.27 1877.15,546.19 1877.71,546.78 1878.27,545.46 1878.83,546.44 1879.39,546.23 1879.95,546.53 1880.51,547.53 1881.07,546.01 1881.63,545.71 1882.19,546.73 1882.75,546.48 1883.31,547.31 1883.87,549.02 1884.43,546.76 1884.99,545.76 1885.55,545.80 1886.11,547.25 1886.67,545.29 1888.35,547.02 1888.91,545.88 1889.47,548.24 1890.03,548.23 1890.59,548.51 1891.15,547.07 1891.71,546.29 1892.27,547.41 1892.83,546.76 1893.39,546.49 1893.95,546.61 1894.51,547.66 1895.07,545.96 1895.63,549.18 1896.19,544.50 1896.75,546.61 1897.31,546.91 1897.87,546.71 1898.43,547.52 1898.99,547.37 1899.55,546.22 1900.67,548.75 1901.23,545.62 1902.35,545.94 1902.91,546.98 1903.47,545.56 1904.03,546.69 1904.59,546.72 1905.71,548.21 1906.27,546.34 1906.83,546.42 1907.39,547.37 1907.95,547.54 1909.07,544.38 1909.63,547.11 1910.19,546.66 1910.75,543.81 1911.31,546.37 1912.43,543.64 1912.99,546.06 1913.55,545.40 1914.11,546.89 1914.67,544.74 1915.23,544.23 1916.35,545.66 1917.47,543.54 1918.03,543.94 1919.15,542.71 1920.27,544.32 1920.83,543.83 1921.39,545.12 1921.95,543.85 1922.51,544.68 1923.07,543.37 1923.63,543.05 1924.19,545.66 1925.31,544.76 1926.43,547.53 1926.99,545.64 1927.55,546.37 1928.11,544.77 1928.67,545.26 1929.23,545.04 1929.79,546.59 1930.35,545.51 1930.91,543.49 1931.47,542.81 1932.03,546.72 1932.59,545.25 1933.15,545.15 1933.71,544.61 1935.39,545.16 1935.95,544.53 1936.51,545.80 1937.07,545.69 1937.63,547.07 1938.19,546.08 1938.75,544.45 1939.87,546.72 1940.99,545.76 1941.55,547.13 1942.11,546.74 1942.67,545.61 1943.23,547.29 1944.35,545.54 1945.47,546.60 1946.03,545.95 1947.15,546.76 1948.27,545.55 1949.39,546.07 1949.95,545.50 1950.51,548.49 1951.07,546.74 1951.63,547.41 1952.19,547.55 1952.75,548.63 1953.31,545.90 1953.87,548.27 1954.99,547.31 1955.55,546.36 1956.11,548.42 1956.67,548.26 1957.23,547.76 1958.35,546.07 1958.91,546.54 1959.47,547.90 1960.03,547.35 1960.59,548.14 1961.15,547.53 1961.71,548.30 1962.27,548.57 1962.83,548.54 1963.39,546.54 1963.95,548.05 1964.51,547.51 1965.07,548.76 1965.63,547.51 1966.19,548.13 1966.75,546.32 1967.31,547.21 1967.87,546.38 1968.43,546.34 1968.99,547.49 1969.55,547.49 1970.11,548.24 1970.67,546.20 1971.23,546.54 1971.79,549.72 1972.35,547.99 1973.47,548.80 1974.59,548.91 1975.15,546.97 1975.71,548.23 1976.27,547.61 1976.83,546.36 1977.95,547.74 1978.51,547.78 1979.07,546.78 1979.63,547.63 1980.19,545.53 1980.75,546.86 1981.31,545.25 1981.87,548.69 1982.99,546.22 1984.67,546.85 1985.23,545.33 1986.35,547.58 1986.91,547.49 1987.47,546.48 1988.03,547.70 1988.59,548.30 1989.15,546.51 1989.71,545.52 1990.27,545.69 1990.83,547.72 1991.39,546.84 1992.51,546.43 1993.07,548.22 1993.63,547.32 1994.19,547.89 1994.75,547.36 1995.31,545.95 1995.87,548.92 1996.43,547.37 1996.99,548.40 1998.11,547.19 1998.67,549.00 1999.79,548.28 2000.35,549.14 2000.91,547.28 2001.47,547.78 2002.03,547.08 2002.59,547.31 2003.15,548.08 2003.71,545.81 2004.27,547.85 2004.83,546.31 2005.39,548.02 2005.95,545.75 2007.07,548.17 2007.63,547.17 2008.19,547.80 2008.75,546.65 2009.31,548.12 2009.87,547.08 2010.43,548.09 2010.99,546.80 2011.55,546.49 2012.11,547.96 2012.67,546.60 2013.23,547.44 2013.79,549.15 2014.35,547.23 2014.91,546.30 2015.47,547.86 2016.03,545.96 2016.59,547.00 2017.15,546.52 2018.27,546.75 2018.83,544.55 2019.39,547.33 2019.95,548.01 2020.51,548.24 2021.07,547.55 2021.63,547.73 2022.19,546.18 2022.75,546.15 2023.31,548.35 2023.87,546.35 2024.43,545.10 2024.99,546.22 2025.55,545.31 2026.11,545.88 2026.67,545.98 2027.23,544.08 2027.79,545.22 2028.35,545.45 2029.47,543.88 2030.03,544.87 2030.59,544.64 2031.15,543.36 2031.71,543.29 2032.27,544.93 2032.83,543.82 2033.39,544.26 2033.95,545.76 2035.07,544.84 2035.63,545.56 2036.19,544.90 2036.75,546.75 2037.31,545.86 2037.87,547.62 2040.11,546.42 2040.67,545.66 2041.23,547.53 2041.79,548.53 2042.35,546.14 2042.91,546.34 2043.47,543.45 2044.03,546.37 2044.59,545.73 2045.15,548.64 2045.71,545.99 2046.27,547.30 2046.83,548.05 2047.39,547.47 2047.95,546.17 2048.51,547.41 2049.07,547.64 2049.63,547.35 2050.19,547.64 2050.75,545.45 2051.31,547.76 2051.87,546.82 2052.43,548.40 2052.99,546.63 2053.55,546.77 2054.11,548.30 2054.67,548.10 2055.23,546.73 2055.79,547.70 2056.35,547.73 2056.91,548.17 2057.47,548.22 2058.03,546.72 2058.59,548.52 2059.15,548.86 2059.71,546.19 2060.83,548.50 2061.39,546.21 2061.95,546.56 2062.51,546.10 2063.07,548.96 2063.63,548.50 2064.19,546.84 2064.75,548.48 2065.87,549.22 2066.99,549.60 2067.55,548.48 2068.11,550.26 2068.67,548.73 2069.23,551.34 2069.79,549.03 2070.91,550.98 2071.47,549.15 2072.03,549.62 2072.59,549.63 2073.15,548.98 2073.71,549.82 2074.27,550.27 2074.83,548.41 2075.39,550.34 2075.95,547.96 2076.51,548.35 2077.07,546.61 2077.63,546.85 2078.19,548.97 2078.75,547.30 2079.31,547.90 2079.87,546.87 2080.43,549.60 2080.99,548.41 2081.55,548.38 2082.11,551.07 2082.67,549.73 2083.23,549.83 2083.79,548.68 2084.35,551.23 2084.91,549.00 2085.47,549.91 2086.03,549.23 2086.59,547.65 2087.15,548.53 2088.27,548.95 2088.83,548.76 2089.39,547.53 2089.95,548.64 2090.51,549.03 2091.07,547.26 2091.63,548.62 2092.19,548.93 2092.75,549.72 2093.31,548.71 2093.87,548.90 2094.43,546.23 2094.99,547.58 2095.55,546.90 2096.11,548.80 2096.67,549.86 2097.23,549.48 2097.79,548.10 2098.35,550.12 2098.91,549.22 2099.47,549.59 2100.03,549.05 2100.59,549.48 2101.15,548.66 2101.71,549.21 2102.27,549.24 2102.83,547.96 2103.39,549.75 2105.07,546.75 2106.19,549.26 2106.75,548.10 2107.31,549.40 2108.43,548.95 2108.99,549.25 2110.11,548.65 2111.23,549.40 2111.79,549.16 2112.35,551.50 2112.91,549.90 2113.47,550.09 2114.59,549.44 2115.71,547.33 2116.27,547.65 2116.83,549.54 2117.39,548.46 2117.95,546.60"/>
<path stroke="#0068e2" stroke-width="7.6" d="M138.35,276.32 138.91,275.01 139.47,275.25 140.03,276.13 141.15,275.68 142.27,273.88 142.83,275.23 143.39,274.29 143.95,275.57 145.07,273.61 145.63,274.53 146.19,274.70 147.31,272.59 147.87,273.80 148.43,273.48 148.99,274.21 149.55,273.88 150.11,272.16 150.67,272.62 151.23,273.69 151.79,271.47 152.35,273.91 152.91,271.85 153.47,272.21 154.03,273.46 154.59,271.83 155.15,271.60 155.71,271.82 156.27,271.37 156.83,270.44 157.39,271.09 157.95,273.03 158.51,271.83 159.07,271.60 159.63,271.68 160.75,272.44 161.31,271.12 161.87,272.69 162.43,272.42 162.99,274.19 163.55,272.12 164.11,273.59 164.67,270.77 165.23,272.41 165.79,271.10 166.35,270.76 166.91,272.42 167.47,270.39 168.03,271.06 168.59,269.97 169.15,271.19 169.71,271.23 170.27,267.91 170.83,270.60 171.39,269.11 171.95,272.07 172.51,270.82 173.07,271.09 173.63,267.93 174.19,272.32 174.75,270.12 175.31,268.87 176.43,271.77 176.99,268.37 177.55,270.86 178.67,268.42 179.23,268.60 179.79,267.80 180.35,268.93 181.47,269.35 182.03,269.88 182.59,268.36 183.15,269.80 183.71,267.45 184.27,269.58 184.83,267.94 185.95,269.98 186.51,268.99 187.07,270.30 187.63,267.85 188.75,270.16 189.31,270.78 189.87,267.69 190.43,270.42 190.99,268.95 191.55,270.88 192.11,267.58 192.67,267.81 193.23,268.56 193.79,267.16 194.35,268.53 194.91,268.40 195.47,269.85 196.03,268.92 196.59,266.86 197.15,267.14 197.71,267.10 198.27,265.82 198.83,265.38 199.39,269.94 199.95,266.86 200.51,269.29 201.07,266.84 201.63,267.67 202.19,266.12 202.75,269.43 203.31,267.29 203.87,269.80 204.43,267.07 204.99,269.27 205.55,268.91 206.11,265.12 206.67,266.58 207.23,265.07 207.79,264.73 208.35,266.29 209.47,267.68 210.03,265.29 210.59,266.84 211.71,266.39 212.27,265.02 212.83,266.17 213.39,270.10 213.95,265.14 214.51,265.67 215.07,265.10 215.63,267.65 216.19,267.87 216.75,267.06 217.31,267.56 217.87,265.30 218.43,266.94 218.99,263.67 219.55,266.39 220.11,266.45 220.67,263.85 221.23,265.88 221.79,263.30 222.91,262.69 224.03,263.31 224.59,264.38 225.15,266.26 225.71,264.19 226.27,263.41 226.83,265.22 227.39,264.07 228.51,264.56 229.07,264.51 229.63,263.10 230.19,263.39 230.75,264.20 231.31,262.58 231.87,262.64 232.43,263.36 232.99,263.54 233.55,262.60 234.11,263.35 234.67,262.60 235.23,260.84 235.79,263.52 236.35,261.39 236.91,265.78 237.47,262.13 238.03,261.44 238.59,262.46 239.15,263.03 239.71,263.02 240.27,261.59 240.83,262.28 241.95,261.34 242.51,259.48 243.07,261.03 243.63,258.24 244.75,262.36 245.31,260.54 245.87,259.95 246.43,258.70 246.99,258.55 247.55,258.67 248.67,256.01 249.23,259.77 249.79,260.44 250.35,257.77 250.91,259.33 251.47,257.00 252.03,258.54 252.59,256.57 253.15,259.07 253.71,257.88 254.27,255.91 254.83,257.72 255.39,258.80 255.95,256.74 257.07,256.05 257.63,255.43 258.19,256.82 258.75,256.47 259.31,252.26 259.87,255.93 260.43,254.06 260.99,255.74 261.55,253.89 262.11,254.26 263.23,250.24 263.79,251.66 264.35,252.19 265.47,251.35 266.03,250.36 266.59,251.00 267.15,248.75 267.71,249.67 268.27,247.73 268.83,249.49 269.39,249.08 269.95,249.05 270.51,249.64 271.07,247.80 271.63,243.08 272.19,248.42 272.75,246.44 273.31,246.97 273.87,244.67 274.43,246.10 274.99,246.76 275.55,242.69 276.11,246.50 276.67,244.36 277.23,244.18 277.79,244.76 278.35,247.37 278.91,242.25 279.47,243.53 280.59,244.67 281.15,243.12 281.71,242.90 282.27,240.88 282.83,243.30 283.39,243.16 283.95,239.96 284.51,240.29 285.07,241.59 286.19,241.11 286.75,238.54 287.31,238.92 287.87,238.38 288.43,240.56 288.99,238.00 290.11,236.23 291.23,238.56 291.79,234.76 292.35,236.73 292.91,237.40 293.47,239.33 294.03,237.99 294.59,238.73 295.71,234.28 296.27,234.54 296.83,235.18 297.39,236.28 297.95,235.02 298.51,234.48 299.07,237.18 299.63,230.78 300.19,232.44 300.75,237.12 301.31,233.50 302.43,230.57 302.99,232.78 304.11,231.73 304.67,228.88 305.23,230.50 305.79,229.84 306.35,230.79 306.91,227.44 307.47,230.73 308.03,231.97 308.59,227.94 309.15,230.80 309.71,231.48 310.83,228.79 311.39,228.82 311.95,227.67 312.51,228.21 313.07,225.96 313.63,226.92 314.75,224.72 315.31,228.52 315.87,223.84 316.43,228.58 316.99,223.30 317.55,228.08 318.11,227.11 318.67,224.91 319.23,226.82 319.79,226.03 320.35,226.69 320.91,228.89 321.47,225.74 322.03,224.17 322.59,228.85 323.71,227.36 324.27,226.24 324.83,227.69 325.39,226.79 326.51,225.60 327.07,228.05 327.63,228.25 328.19,226.70 328.75,230.17 329.31,226.31 329.87,226.22 330.43,228.34 330.99,226.88 331.55,227.18 332.11,226.34 332.67,227.62 333.23,224.45 333.79,225.96 334.35,225.33 334.91,223.64 335.47,228.05 336.03,225.97 336.59,225.24 337.15,226.88 337.71,224.57 338.27,227.78 338.83,228.98 339.39,225.23 339.95,229.04 340.51,227.72 341.07,228.42 342.75,224.39 343.87,225.02 344.43,227.39 344.99,226.71 345.55,226.36 346.11,228.39 346.67,223.77 347.23,224.83 347.79,225.26 348.35,227.04 348.91,225.15 349.47,226.90 350.03,229.75 350.59,229.34 351.15,230.01 351.71,226.77 352.27,226.36 352.83,228.00 353.39,226.27 353.95,227.02 354.51,226.67 355.63,229.03 356.19,229.00 356.75,228.34 357.31,226.64 357.87,227.35 358.43,225.79 359.55,224.82 360.67,227.81 361.23,228.25 361.79,227.29 362.35,228.38 362.91,227.49 363.47,230.65 364.03,228.27 364.59,227.52 365.15,228.88 365.71,227.68 366.27,228.53 366.83,230.32 367.39,226.46 369.07,227.71 369.63,230.08 370.19,228.48 370.75,228.65 371.31,222.60 371.87,226.68 372.99,227.16 374.11,225.13 374.67,227.20 375.23,225.75 375.79,226.32 376.35,225.43 378.03,226.36 379.15,224.86 379.71,223.70 380.27,224.85 380.83,222.44 381.39,222.73 381.95,223.93 382.51,223.33 383.07,223.69 383.63,224.86 384.19,222.84 384.75,225.19 385.31,224.62 385.87,223.33 386.43,224.00 386.99,224.30 387.55,220.39 388.11,222.65 388.67,223.72 389.23,220.23 389.79,223.23 390.35,222.14 390.91,219.88 391.47,220.81 392.03,218.23 392.59,218.37 393.15,218.10 393.71,219.99 394.27,218.93 395.39,217.56 395.95,217.96 397.07,217.15 397.63,217.96 398.19,215.38 398.75,215.69 399.31,217.58 400.43,211.68 400.99,215.97 401.55,212.11 402.11,214.59 402.67,211.70 403.23,212.26 403.79,207.38 404.35,208.86 405.47,209.16 406.59,207.98 407.15,209.26 407.71,208.32 408.83,209.96 409.39,205.77 409.95,207.19 410.51,205.21 411.63,206.26 412.19,201.43 412.75,201.66 413.31,202.45 413.87,201.87 414.43,199.01 414.99,200.58 415.55,199.00 416.11,198.44 416.67,196.56 417.23,197.35 417.79,197.52 418.35,195.16 418.91,196.22 419.47,192.96 420.03,192.32 420.59,194.67 421.71,191.51 422.27,193.19 422.83,193.36 423.39,191.22 423.95,193.11 424.51,188.61 425.07,188.41 425.63,190.40 426.19,186.06 426.75,188.06 427.31,183.13 427.87,183.36 428.43,184.47 428.99,183.38 429.55,186.11 430.11,180.72 430.67,181.28 431.23,181.09 431.79,180.46 432.35,182.21 432.91,178.01 433.47,177.32 434.03,174.90 434.59,177.24 435.15,175.61 436.27,173.92 436.83,170.24 437.39,171.86 437.95,171.11 438.51,172.39 439.63,168.10 440.19,167.63 440.75,170.72 441.31,164.83 441.87,164.34 442.99,167.83 444.11,161.25 444.67,166.02 445.23,160.73 445.79,162.32 446.35,162.46 446.91,158.54 448.03,159.72 448.59,154.18 449.15,156.82 449.71,156.27 450.27,155.11 450.83,151.60 451.39,152.06 453.07,146.86 453.63,148.08 454.19,146.31 454.75,147.31 455.31,139.86 456.43,143.09 456.99,143.96 457.55,138.33 458.11,135.33 458.67,137.18 459.23,138.09 459.79,138.68 460.35,138.86 461.47,134.20 462.03,138.36 462.59,131.34 463.15,132.64 463.71,132.88 464.27,128.61 465.39,128.65 465.95,124.15 466.51,124.94 467.07,123.44 467.63,127.70 468.75,119.58 469.31,122.23 469.87,118.00 470.43,120.35 470.99,115.67 471.55,119.24 472.67,114.27 473.23,116.59 473.79,116.26 474.91,112.80 475.47,109.00 476.03,112.68 476.59,105.65 477.15,107.57 477.71,112.34 478.27,103.62 478.83,102.21 479.39,103.34 479.95,105.16 480.51,103.56 481.07,105.49 482.19,100.39 482.75,103.50 483.31,100.52 483.87,102.84 484.43,104.14 484.99,101.39 485.55,102.90 486.11,96.42 487.23,98.09 487.79,95.37 488.35,99.40 488.91,98.96 489.47,96.23 490.03,95.01 491.15,89.01 491.50,90.50 492.83,92.85 493.39,94.38 493.95,92.53 495.63,101.70 496.19,96.43 496.75,100.57 497.31,101.75 497.87,100.44 498.43,101.02 498.99,100.42 499.55,101.52 500.11,101.40 500.67,98.99 501.23,106.22 502.35,103.78 502.91,108.63 503.47,106.26 504.03,108.61 504.59,104.54 505.15,106.52 505.71,110.95 506.83,114.95 507.39,115.12 507.95,117.13 508.51,113.55 509.07,113.81 509.63,112.71 510.19,119.77 510.75,119.95 511.31,124.30 511.87,122.42 512.43,127.58 512.99,123.32 513.55,130.86 514.11,128.50 514.67,133.00 515.23,132.84 515.79,131.26 516.35,135.69 516.91,134.15 517.47,138.19 518.03,137.72 518.59,138.92 519.15,139.14 519.71,140.11 520.27,142.79 520.83,139.45 521.39,146.91 521.95,146.65 522.51,148.33 523.07,148.25 523.63,151.23 524.19,151.40 524.75,156.09 525.31,151.71 525.87,157.34 526.43,154.77 526.99,157.76 527.55,157.49 528.67,155.27 529.23,160.47 529.79,156.83 530.91,163.69 531.47,164.27 532.03,163.73 532.59,161.53 533.15,165.89 533.71,167.15 534.27,166.94 534.83,172.25 535.39,171.78 535.95,173.31 536.51,173.91 537.07,172.31 537.63,173.90 538.19,174.68 538.75,179.46 539.31,178.57 539.87,179.75 540.99,180.84 541.55,183.85 542.11,182.97 542.67,182.90 543.23,184.05 543.79,187.30 544.35,182.19 544.91,188.25 545.47,185.96 546.03,187.97 546.59,187.28 547.15,188.46 547.71,189.15 548.27,184.03 548.83,188.76 549.39,190.21 550.51,189.38 551.07,194.50 551.63,192.91 552.75,197.72 553.31,194.69 553.87,196.43 554.43,199.21 554.99,198.44 555.55,199.80 556.11,197.70 556.67,203.34 557.79,201.10 558.35,204.71 558.91,203.45 559.47,204.93 560.03,204.03 560.59,206.19 561.15,206.58 561.71,205.30 562.27,206.47 562.83,209.35 563.39,208.07 563.95,208.01 564.51,210.60 565.07,208.30 565.63,209.93 566.19,208.41 566.75,209.78 567.31,210.58 568.43,213.50 568.99,211.59 569.55,214.60 570.11,214.11 570.67,215.37 571.23,213.30 571.79,215.50 572.35,215.29 572.91,216.68 573.47,220.74 574.03,217.57 574.59,219.52 575.15,218.79 575.71,215.47 576.27,218.98 576.83,219.80 577.39,216.34 577.95,217.88 578.51,224.48 579.07,219.52 579.63,218.77 580.19,220.07 580.75,218.98 581.31,220.89 581.87,221.92 582.43,221.67 582.99,223.98 583.55,224.44 584.11,223.97 584.67,221.59 585.23,221.88 585.79,220.61 586.35,223.58 586.91,222.03 587.47,221.54 588.03,221.97 588.59,223.31 589.15,223.75 589.71,222.02 590.27,226.12 590.83,224.99 591.39,222.91 591.95,226.52 592.51,224.21 593.07,228.08 593.63,227.99 594.19,226.91 594.75,230.16 595.31,225.61 595.87,227.38 596.99,225.19 597.55,225.01 598.11,228.70 598.67,226.92 599.23,226.32 599.79,226.66 600.35,232.46 600.91,228.50 601.47,227.94 602.03,228.69 602.59,230.76 603.15,229.03 603.71,228.72 604.27,228.97 604.83,228.43 605.39,228.65 605.95,231.02 606.51,228.90 607.07,229.28 607.63,225.36 608.19,230.41 608.75,231.22 609.31,228.50 609.87,230.30 610.43,228.02 610.99,230.33 611.55,230.50 612.11,227.24 612.67,231.99 613.23,232.67 614.35,229.62 614.91,231.24 615.47,231.71 616.03,232.97 616.59,231.71 617.15,231.67 617.71,233.65 618.83,232.54 619.39,231.53 619.95,231.80 621.07,231.42 621.63,231.85 622.19,234.14 622.75,231.95 623.31,232.65 623.87,230.22 624.43,234.56 624.99,232.57 625.55,234.42 626.11,234.97 626.67,234.08 627.23,236.06 627.79,234.09 628.35,235.03 628.91,238.68 629.47,235.84 630.03,237.83 631.15,235.69 631.71,238.60 632.27,236.19 633.39,239.20 633.95,234.31 635.07,238.42 635.63,237.54 636.19,239.25 637.31,238.52 637.87,238.87 638.43,237.41 638.99,236.65 639.55,236.32 640.11,239.20 640.67,237.82 641.23,241.20 641.79,238.32 642.91,237.60 643.47,242.72 644.03,240.92 644.59,241.87 645.15,239.62 645.71,243.72 646.27,239.94 646.83,241.45 647.39,241.01 647.95,242.86 648.51,239.73 649.07,241.05 649.63,240.97 650.19,241.28 650.75,241.05 651.87,242.41 652.43,240.68 652.99,241.00 653.55,241.66 654.11,241.90 654.67,241.54 655.23,242.80 655.79,242.82 656.35,243.54 656.91,241.73 657.47,243.18 658.03,242.63 658.59,240.75 659.71,243.30 660.83,242.02 661.39,244.20 661.95,245.02 662.51,244.75 663.07,244.75 663.63,242.50 664.19,245.51 664.75,246.76 665.31,245.96 665.87,244.53 666.43,245.97 666.99,244.22 667.55,244.00 668.11,245.34 668.67,245.06 669.23,243.63 669.79,244.17 670.35,245.71 670.91,243.55 671.47,244.75 672.03,245.08 672.59,245.73 673.15,244.57 674.27,246.67 674.83,244.67 675.39,244.74 675.95,243.72 676.51,246.41 677.07,244.99 677.63,244.66 678.19,242.99 678.75,244.61 679.31,244.02 679.87,245.05 680.43,244.97 680.99,245.48 681.55,247.87 682.11,244.11 682.67,245.54 683.23,244.69 684.91,244.85 685.47,243.25 686.59,241.72 687.71,238.60 688.83,237.52 689.39,234.28 689.95,236.51 690.51,234.72 691.07,233.95 691.63,232.27 692.19,229.27 693.31,226.69 693.87,223.23 694.43,224.52 694.99,220.33 695.30,222.30 696.11,224.93 696.67,225.89 698.91,239.71 699.47,241.92 700.03,239.62 700.59,243.90 701.15,244.20 701.71,246.59 702.27,247.11 702.83,246.67 703.39,247.96 703.95,250.87 705.07,250.50 705.63,252.00 706.19,250.89 706.75,253.11 707.31,251.93 707.87,253.36 708.43,249.25 708.99,251.79 709.55,250.93 710.11,249.39 710.67,249.72 711.79,251.91 712.35,250.65 712.91,250.92 714.03,250.71 714.59,253.10 715.15,252.29 715.71,253.30 716.27,251.01 716.83,251.68 717.39,250.83 717.95,252.23 718.51,251.42 719.07,253.25 719.63,251.72 720.75,249.56 721.31,249.62 721.87,251.00 722.43,249.35 724.11,250.27 724.67,247.10 725.23,247.72 725.79,245.78 726.35,245.99 726.91,244.24 727.47,243.31 728.03,240.08 728.59,238.81 729.15,235.84 729.71,236.23 730.27,232.85 731.39,228.91 731.95,226.01 733.63,213.79 735.87,183.52 738.67,136.22 739.23,132.94 741.47,165.33 744.27,224.25 745.39,241.69 745.95,246.91 747.07,252.46 747.63,252.91 748.19,252.12 748.75,254.94 749.31,254.60 749.87,254.88 750.43,257.70 750.99,255.71 751.55,256.69 752.11,256.83 752.67,257.56 753.23,259.87 753.79,256.62 754.35,257.32 754.91,258.89 755.47,257.60 756.03,256.82 756.59,257.44 757.15,259.35 757.71,256.46 758.27,260.05 758.83,260.24 759.39,258.38 760.51,258.86 761.07,257.87 761.63,258.94 762.19,256.26 762.75,257.24 763.87,258.12 764.43,259.73 764.99,259.65 765.55,260.64 766.67,258.96 767.23,259.63 767.79,258.10 768.91,258.51 769.47,257.52 770.03,258.39 770.59,258.57 771.15,257.73 771.71,258.48 772.27,258.43 772.83,259.93 773.39,260.22 773.95,257.83 774.51,260.48 775.63,258.18 776.19,258.89 776.75,258.12 777.31,258.26 777.87,257.74 778.43,259.45 778.99,257.40 779.55,257.94 780.67,260.81 781.23,259.33 782.35,260.86 782.91,259.70 783.47,261.08 784.03,257.26 784.59,260.38 785.15,259.13 786.27,261.44 786.83,259.83 787.39,258.98 787.95,259.75 788.51,259.49 789.07,260.12 790.19,259.05 790.75,258.79 791.31,260.69 792.43,258.98 792.99,259.19 793.55,260.72 794.11,259.58 795.23,261.70 795.79,263.55 796.35,260.72 796.91,261.90 797.47,258.43 798.59,260.08 799.15,260.48 799.71,257.99 800.27,260.59 801.39,259.20 801.95,259.21 802.51,257.83 803.07,259.21 804.19,256.87 804.75,257.39 805.31,255.44 806.43,256.08 806.99,256.71 807.55,255.75 808.11,256.32 808.67,254.61 809.23,254.72 809.79,256.68 810.91,254.91 811.47,255.35 812.03,255.32 812.59,255.98 813.15,255.26 813.71,253.53 814.83,255.50 815.39,255.25 815.95,254.11 816.51,256.12 817.07,254.17 817.63,254.67 818.19,253.03 818.75,255.67 819.31,256.19 819.87,255.77 820.43,256.20 820.99,255.21 821.55,256.84 822.11,255.49 822.67,257.34 823.23,257.31 823.79,256.97 824.35,257.25 824.91,257.28 825.47,256.85 826.03,255.62 826.59,259.06 827.15,260.24 827.71,257.57 828.27,256.41 828.83,257.14 829.39,255.13 829.95,257.34 830.51,258.05 831.07,256.72 831.63,256.80 832.19,253.48 832.75,255.24 833.31,254.11 833.87,257.37 834.43,255.25 834.99,254.65 835.55,255.60 836.11,255.77 836.67,255.44 837.23,253.49 837.79,254.68 838.35,254.58 838.91,253.14 839.47,254.02 840.03,252.08 840.59,253.38 841.15,254.17 842.27,250.89 842.83,252.56 843.39,252.78 843.95,252.98 844.51,251.00 845.07,251.99 845.63,252.19 846.19,255.84 846.75,254.04 847.31,253.71 847.87,255.67 848.43,254.70 848.99,255.71 849.55,258.06 850.11,258.33 851.23,256.87 851.79,254.70 852.35,258.29 852.91,256.87 853.47,259.17 854.03,259.06 854.59,256.19 855.15,256.11 855.71,257.25 856.83,257.45 857.39,254.64 857.95,253.44 858.51,255.37 859.07,254.57 859.63,254.96 860.19,256.42 860.75,253.48 861.31,255.42 861.87,253.99 862.99,255.82 864.11,253.50 865.23,256.32 865.79,255.79 866.35,256.40 866.91,258.00 867.47,258.10 868.03,260.40 868.59,260.88 869.15,257.35 869.71,260.86 870.27,259.02 870.83,259.66 871.39,261.10 871.95,259.80 873.07,258.13 873.63,259.20 874.75,259.30 875.31,257.53 875.87,259.55 876.43,257.13 876.99,259.20 877.55,257.09 878.11,258.81 878.67,258.65 879.23,256.05 879.79,256.84 880.35,257.04 880.91,258.47 881.47,257.17 882.03,257.40 882.59,262.65 883.15,260.65 883.71,261.62 884.27,261.02 885.39,263.28 885.95,263.30 886.51,262.99 887.07,263.30 887.63,265.26 888.19,263.44 888.75,265.06 889.31,263.58 890.43,260.14 891.55,252.74 892.11,252.02 892.67,249.32 893.23,248.01 893.75,247.50 893.79,247.14 894.91,253.35 895.47,258.93 896.03,258.87 896.59,260.95 897.15,261.53 897.71,260.81 898.27,261.62 898.83,263.33 899.39,261.66 899.95,264.01 900.51,265.01 901.07,263.17 901.63,263.74 902.19,263.27 902.75,264.70 903.31,264.89 903.87,264.04 904.43,264.30 905.55,265.67 906.11,263.49 906.67,264.46 907.23,263.98 907.79,262.58 908.35,264.81 908.91,265.05 909.47,264.66 910.03,263.52 910.59,265.54 911.15,265.10 911.71,262.78 912.27,262.69 912.83,263.66 913.39,261.15 913.95,262.80 914.51,262.45 915.07,260.03 915.63,259.45 916.19,259.13 916.75,260.52 917.31,259.79 917.87,257.63 918.43,257.10 918.75,257.50 918.99,258.84 919.55,257.96 920.11,260.22 920.67,259.27 921.79,261.14 922.35,259.01 922.91,262.82 923.47,262.56 924.03,261.23 924.59,261.28 925.15,262.61 925.71,264.97 926.27,264.61 926.83,265.84 927.39,267.92 927.95,266.27 928.51,266.79 929.07,267.90 929.63,267.95 930.19,266.15 930.75,265.48 931.31,267.09 931.87,267.03 932.43,267.34 932.99,268.09 933.55,268.47 934.11,266.88 934.67,268.80 935.23,267.31 935.79,268.16 937.47,269.75 938.59,268.28 939.15,268.97 939.71,268.73 940.27,267.60 940.83,268.09 941.39,267.64 941.95,268.48 942.51,266.52 943.07,266.70 943.63,265.98 944.19,269.44 944.75,268.00 945.31,268.19 945.87,266.45 946.43,269.43 946.99,269.09 947.55,270.17 948.11,270.52 948.67,269.28 949.23,268.64 949.79,269.37 950.35,268.71 950.91,268.46 952.03,268.56 952.59,267.37 953.15,267.58 953.71,269.56 954.27,267.10 954.83,266.77 955.39,268.16 955.95,266.53 956.51,267.07 957.07,265.80 957.63,267.55 958.75,265.89 959.31,268.75 959.87,269.30 960.43,268.16 960.99,270.40 961.55,266.46 962.11,266.78 962.67,268.44 963.23,269.09 963.79,267.73 964.91,266.74 965.47,269.75 966.03,267.16 966.59,268.55 967.15,268.19 967.71,266.19 968.27,268.89 968.83,267.07 969.39,268.10 969.95,267.76 970.51,266.90 971.07,268.76 971.63,268.39 972.19,266.30 972.75,267.00 973.31,266.72 973.87,266.85 974.43,264.06 974.99,266.50 975.55,262.95 976.11,261.95 976.67,263.34 977.23,261.35 977.79,264.44 978.35,260.23 978.91,262.49 979.47,263.53 980.03,261.57 980.59,265.44 981.15,264.23 981.71,267.50 982.83,269.22 983.39,270.76 983.95,271.05 984.51,269.07 985.07,269.02 985.63,270.49 986.19,268.39 986.75,271.55 987.31,269.95 987.87,272.92 988.99,269.77 989.55,269.44 990.11,272.17 990.67,266.55 991.79,272.26 992.35,269.70 992.91,270.27 993.47,269.46 994.03,270.24 994.59,268.73 995.15,269.25 995.71,270.79 996.27,269.73 996.83,269.99 997.39,271.24 997.95,271.22 999.07,269.22 999.63,268.89 1000.19,270.60 1000.75,270.43 1001.87,274.24 1002.99,269.90 1003.55,269.89 1004.11,268.29 1004.67,270.71 1005.23,270.85 1005.79,271.56 1006.35,269.69 1006.91,270.78 1007.47,270.80 1008.03,271.91 1008.59,269.32 1009.15,272.27 1009.71,270.37 1010.27,270.15 1010.83,268.67 1011.39,269.20 1011.95,269.23 1012.51,268.37 1013.07,268.50 1013.63,266.49 1014.19,267.01 1015.31,263.58 1015.87,263.39 1016.43,264.31 1016.99,264.44 1017.55,263.36 1018.11,264.07 1018.67,262.15 1019.79,260.02 1020.35,260.38 1020.91,258.60 1021.47,255.20 1022.03,255.33 1023.15,251.85 1023.71,253.44 1024.27,249.79 1025.39,247.54 1025.95,245.71 1026.25,246.00 1026.51,246.76 1027.63,248.21 1028.19,251.68 1030.99,264.05 1031.55,263.34 1032.11,263.97 1032.67,265.71 1033.23,266.79 1033.79,269.64 1034.35,268.78 1034.91,266.43 1035.47,268.51 1036.59,270.52 1037.15,269.70 1037.71,271.83 1038.27,269.28 1038.83,272.27 1039.39,269.79 1039.95,270.03 1040.51,270.85 1041.07,270.04 1041.63,269.72 1042.19,270.94 1042.75,270.96 1043.31,272.73 1043.87,272.11 1044.43,270.61 1044.99,272.02 1046.11,269.75 1046.67,271.34 1047.79,271.18 1048.35,272.89 1049.47,271.21 1050.59,272.41 1051.15,269.59 1051.71,272.21 1052.83,272.06 1053.39,272.83 1053.95,272.60 1054.51,270.85 1055.07,272.40 1056.19,270.40 1056.75,271.74 1057.31,271.37 1057.87,272.44 1058.43,270.99 1058.99,271.14 1059.55,272.23 1060.11,271.52 1060.67,271.80 1061.23,271.67 1061.79,273.08 1062.35,273.02 1062.91,272.07 1063.47,269.77 1064.03,273.51 1064.59,271.73 1065.15,272.51 1065.71,272.09 1066.27,270.89 1066.83,273.18 1067.39,272.14 1067.95,272.84 1068.51,272.92 1069.07,275.12 1069.63,272.28 1070.19,272.72 1070.75,271.88 1071.31,271.86 1071.87,272.22 1072.43,271.15 1072.99,271.05 1074.11,270.06 1074.67,269.80 1075.23,272.25 1075.79,268.41 1076.35,269.08 1076.91,268.06 1077.47,269.73 1078.03,269.84 1079.15,267.95 1079.71,269.32 1080.27,269.72 1080.83,266.18 1081.95,267.46 1082.51,267.76 1083.07,267.71 1083.63,268.92 1084.19,268.46 1085.31,271.79 1085.87,272.07 1086.43,274.96 1086.99,273.99 1087.55,274.98 1088.11,274.30 1088.67,274.86 1089.23,274.28 1089.79,274.47 1090.35,274.28 1090.91,273.07 1091.47,275.00 1092.03,272.48 1092.59,274.28 1093.15,272.57 1093.71,273.79 1094.27,272.86 1094.83,273.16 1095.39,275.08 1095.95,274.48 1096.51,270.92 1097.07,271.21 1097.63,270.13 1098.19,270.93 1098.75,269.01 1099.31,270.98 1099.87,268.83 1100.43,271.78 1100.99,269.78 1101.55,269.40 1102.67,271.60 1103.23,270.63 1103.79,274.14 1104.35,273.07 1104.91,272.65 1105.47,272.56 1106.03,274.40 1107.15,275.38 1108.27,274.26 1108.83,275.92 1109.95,274.07 1110.51,275.01 1111.63,274.39 1112.19,275.97 1112.75,272.27 1113.31,275.29 1113.87,274.22 1114.43,273.95 1114.99,273.98 1115.55,275.02 1116.11,273.37 1117.23,275.64 1117.79,275.44 1118.35,273.77 1118.91,274.06 1119.47,273.61 1120.03,273.57 1120.59,275.74 1121.15,275.86 1121.71,273.21 1122.27,276.26 1122.83,275.37 1123.95,272.34 1124.51,271.59 1125.07,272.66 1125.63,272.00 1126.19,269.00 1126.75,270.46 1127.31,269.77 1127.87,270.47 1128.43,267.85 1128.99,267.63 1130.11,266.52 1130.67,265.01 1131.23,266.78 1131.79,263.58 1132.35,263.81 1132.91,262.54 1133.47,262.61 1134.03,264.08 1134.59,262.65 1135.00,262.50 1135.15,262.68 1135.71,261.97 1136.27,260.62 1136.83,263.51 1140.19,270.64 1141.31,273.84 1141.87,276.07 1142.43,275.26 1142.99,272.41 1143.55,274.92 1144.67,276.11 1145.79,273.81 1146.35,276.34 1146.91,274.91 1147.47,277.54 1148.03,274.52 1148.59,277.53 1149.15,274.16 1149.71,277.62 1150.27,275.62 1150.83,276.65 1151.39,276.35 1151.95,276.90 1152.51,276.20 1153.07,276.67 1153.63,274.90 1154.19,276.06 1154.75,274.79 1155.31,276.06 1155.87,276.27 1156.43,275.97 1156.99,277.20 1158.11,276.66 1159.23,277.25 1159.79,275.16 1160.35,275.55 1160.91,276.32 1161.47,275.27 1162.03,276.00 1162.59,274.63 1163.15,275.26 1163.71,278.04 1164.83,274.53 1165.39,276.80 1165.95,276.07 1166.51,274.25 1167.07,275.54 1168.19,277.20 1168.75,276.09 1169.31,278.13 1169.87,277.00 1170.43,279.77 1170.99,278.05 1171.55,279.16 1172.11,278.91 1172.67,276.22 1173.23,278.72 1173.79,280.24 1174.35,279.28 1175.47,275.74 1176.03,278.08 1176.59,276.16 1177.15,277.28 1177.71,277.70 1178.27,277.73 1178.83,275.87 1179.39,277.36 1179.95,277.20 1180.51,276.34 1181.07,276.29 1182.19,278.04 1182.75,276.06 1183.31,277.60 1183.87,275.32 1184.99,276.20 1186.11,276.23 1186.67,275.34 1187.79,275.51 1188.35,276.65 1188.91,276.64 1190.03,277.40 1191.15,275.05 1191.71,275.17 1192.27,277.32 1192.83,276.31 1193.39,276.56 1193.95,275.68 1194.51,273.85 1195.07,274.25 1195.63,273.64 1196.19,275.94 1196.75,273.96 1197.31,275.05 1197.87,273.47 1198.43,274.64 1199.55,272.84 1200.11,274.82 1200.67,272.39 1201.23,272.60 1201.79,273.38 1202.91,271.80 1203.47,272.14 1204.03,273.20 1205.15,269.12 1205.71,273.12 1206.27,271.48 1206.83,271.67 1207.39,273.26 1207.95,272.21 1208.51,273.01 1209.07,275.19 1209.63,275.29 1210.75,274.86 1211.31,275.34 1211.87,277.70 1212.43,278.18 1212.99,277.09 1213.55,278.84 1214.11,276.24 1214.67,279.15 1215.23,278.89 1215.79,278.22 1216.35,280.20 1216.91,280.12 1217.47,279.28 1218.59,279.15 1219.15,280.40 1219.71,280.20 1220.83,278.67 1221.39,279.76 1221.95,280.21 1222.51,279.21 1223.07,279.35 1224.19,280.74 1225.31,281.22 1225.87,278.00 1226.43,280.63 1227.55,277.43 1228.11,278.63 1228.67,275.06 1229.23,274.36 1229.79,277.67 1230.35,273.19 1230.91,274.31 1231.47,272.27 1232.03,272.75 1232.59,272.00 1233.15,273.89 1233.71,270.37 1233.75,273.75 1234.27,271.95 1234.83,272.56 1235.39,274.87 1235.95,273.55 1237.07,276.42 1237.63,276.70 1238.19,278.24 1238.75,278.93 1239.87,278.01 1240.43,278.75 1240.99,278.96 1241.55,280.71 1242.11,278.94 1242.67,279.87 1243.23,280.06 1243.79,278.53 1244.35,277.64 1244.91,280.31 1245.47,279.08 1246.59,278.33 1247.71,278.18 1248.27,277.43 1248.83,277.07 1249.39,277.90 1249.95,277.78 1251.07,275.32 1251.63,278.10 1252.75,277.77 1253.31,276.34 1253.87,277.88 1255.55,276.23 1256.11,278.54 1256.67,277.47 1257.23,277.84 1257.79,277.51 1258.35,279.76 1258.91,279.40 1259.47,281.73 1260.03,280.54 1260.59,281.54 1261.15,280.53 1261.71,280.54 1262.27,280.82 1262.83,281.50 1263.39,280.95 1263.95,281.03 1264.51,281.23 1265.07,283.20 1265.63,283.51 1266.19,281.94 1266.75,284.07 1267.31,283.11 1267.87,282.56 1268.43,282.71 1268.99,284.58 1269.55,283.29 1270.11,283.45 1270.67,285.12 1271.23,281.94 1271.79,281.91 1272.35,282.40 1272.91,280.90 1273.47,280.96 1274.03,280.39 1274.59,282.85 1276.27,279.41 1276.83,281.10 1277.39,281.37 1277.95,279.91 1278.51,280.96 1279.07,279.26 1279.63,280.31 1280.75,277.67 1281.31,275.69 1281.87,276.28 1282.43,275.91 1282.99,276.27 1283.55,273.13 1284.67,271.57 1285.23,272.68 1286.35,270.22 1286.91,270.58 1287.47,270.52 1288.03,269.46 1288.59,270.69 1289.15,269.10 1289.71,268.89 1290.27,268.95 1290.83,267.22 1291.39,269.09 1292.51,268.01 1293.07,272.00 1293.63,271.30 1294.75,271.60 1295.31,273.26 1295.87,276.11 1296.43,272.54 1296.99,275.21 1297.55,273.44 1298.11,274.21 1298.67,276.13 1300.35,271.00 1300.91,271.10 1301.47,268.63 1302.03,268.06 1303.15,270.43 1303.71,268.21 1303.75,267.00 1304.83,267.73 1305.39,266.22 1305.95,268.92 1306.51,268.63 1307.07,271.24 1307.63,271.57 1308.19,272.26 1308.75,273.68 1309.31,272.76 1309.87,272.52 1310.99,277.42 1311.55,277.61 1312.67,280.64 1313.23,282.98 1313.79,280.99 1314.35,285.19 1314.91,285.73 1315.47,284.98 1316.03,285.03 1316.59,287.27 1317.71,283.48 1318.27,287.05 1318.83,284.73 1319.95,287.32 1320.51,285.02 1321.63,286.88 1322.19,286.22 1322.75,287.27 1323.31,285.79 1323.87,285.80 1324.43,286.24 1324.99,286.18 1325.55,286.78 1326.67,287.36 1327.23,285.07 1328.91,287.94 1329.47,287.57 1330.03,285.92 1330.59,288.46 1331.15,286.57 1331.71,289.07 1332.27,285.71 1332.83,286.07 1333.39,288.00 1333.95,286.30 1335.07,288.06 1335.63,287.70 1336.19,288.84 1336.75,286.31 1337.31,287.35 1337.87,286.38 1338.43,287.63 1338.99,287.62 1339.55,287.38 1340.11,285.80 1340.67,287.32 1341.23,286.34 1341.79,286.59 1343.47,288.29 1344.03,287.16 1344.59,287.46 1345.15,289.65 1345.71,287.89 1346.27,288.20 1346.83,287.09 1347.39,289.43 1347.95,286.76 1348.51,287.00 1349.63,286.88 1350.19,287.73 1350.75,286.63 1351.87,288.85 1352.43,286.10 1352.99,286.51 1353.55,286.09 1354.11,287.16 1354.67,286.92 1355.23,288.24 1355.79,284.53 1356.35,288.42 1356.91,286.71 1357.47,287.63 1358.03,285.44 1358.59,288.39 1359.15,285.29 1359.71,285.98 1360.27,287.28 1360.83,285.78 1361.39,286.28 1361.95,289.11 1362.51,287.47 1363.07,286.89 1363.63,286.71 1364.19,288.07 1364.75,287.85 1365.87,285.62 1366.43,287.15 1366.99,285.52 1368.67,289.26 1369.79,288.67 1370.35,289.28 1370.91,286.73 1371.47,288.40 1372.03,285.63 1372.59,286.29 1373.15,287.43 1373.71,289.08 1374.27,286.24 1374.83,285.73 1375.39,286.78 1375.95,287.06 1376.51,285.34 1377.07,286.64 1377.63,285.76 1378.19,287.49 1379.31,287.15 1379.87,286.69 1380.43,287.65 1380.99,286.21 1381.55,288.64 1382.11,289.27 1382.67,288.13 1383.23,285.86 1383.79,288.74 1384.35,285.25 1384.91,287.33 1386.03,286.45 1387.15,287.44 1387.71,284.62 1388.27,286.90 1388.83,284.81 1389.39,285.96 1389.95,285.09 1390.51,285.98 1391.07,286.31 1391.63,286.03 1392.19,286.59 1392.75,286.23 1393.31,286.65 1393.87,286.79 1394.43,286.26 1394.99,288.10 1395.55,285.48 1396.11,288.24 1396.67,285.88 1397.23,285.11 1397.79,285.03 1399.47,286.63 1400.03,287.87 1400.59,285.05 1401.15,286.85 1401.71,287.31 1402.27,285.79 1403.39,288.57 1403.95,288.35 1404.51,286.80 1405.07,289.26 1405.63,288.08 1406.75,287.77 1407.31,288.86 1407.87,287.92 1408.43,288.23 1408.99,287.46 1410.11,287.93 1410.67,287.94 1411.23,287.29 1411.79,287.80 1412.35,287.24 1412.91,287.92 1413.47,286.72 1414.03,287.48 1414.59,289.27 1415.15,288.60 1415.71,288.27 1416.27,286.96 1416.83,288.06 1417.39,288.00 1417.95,287.59 1418.51,289.56 1419.07,286.52 1419.63,288.76 1420.19,289.76 1421.87,289.29 1422.43,288.86 1422.99,289.61 1423.55,289.08 1424.67,288.55 1425.23,289.46 1425.79,288.54 1426.91,287.37 1427.47,288.55 1428.03,286.38 1428.59,289.43 1429.15,287.56 1430.27,289.62 1430.83,288.86 1431.39,289.35 1431.95,290.35 1433.07,286.87 1433.63,289.33 1434.19,288.28 1434.75,289.21 1435.31,289.39 1435.87,287.08 1436.43,289.56 1436.99,287.70 1437.55,288.27 1438.11,287.15 1438.67,290.03 1439.23,288.65 1439.79,289.37 1440.35,286.93 1441.47,289.70 1442.03,290.10 1442.59,288.74 1443.15,287.93 1443.71,288.95 1444.27,288.88 1445.39,288.22 1445.95,289.01 1446.51,287.22 1447.07,288.48 1447.63,288.26 1448.19,288.74 1448.75,286.26 1449.87,288.33 1450.43,288.77 1450.99,288.54 1451.55,289.30 1452.11,288.49 1452.67,288.19 1453.23,287.48 1454.35,292.08 1454.91,287.23 1455.47,288.62 1456.03,287.81 1456.59,288.83 1457.15,290.47 1457.71,288.30 1458.27,289.88 1459.39,288.01 1459.95,287.97 1460.51,289.54 1461.07,288.33 1461.63,290.11 1462.19,289.06 1462.75,288.82 1463.31,287.45 1463.87,287.97 1464.43,286.40 1464.99,288.97 1465.55,288.64 1466.11,290.05 1466.67,288.07 1467.23,288.88 1467.79,288.36 1468.35,289.60 1468.91,287.65 1469.47,288.99 1470.03,288.40 1470.59,286.56 1471.71,289.79 1472.27,289.39 1472.83,288.33 1473.39,290.01 1473.95,288.56 1474.51,288.68 1475.63,287.36 1476.19,288.15 1476.75,289.90 1477.31,288.65 1477.87,286.10 1478.43,289.05 1478.99,288.43 1479.55,286.74 1480.11,288.89 1480.67,288.84 1481.79,289.98 1482.35,288.91 1482.91,289.32 1483.47,288.34 1484.03,288.39 1484.59,289.09 1485.15,288.41 1485.71,288.33 1486.27,287.52 1486.83,288.12 1487.39,286.89 1487.95,287.33 1488.51,287.19 1489.07,289.35 1489.63,288.56 1490.19,288.42 1490.75,289.89 1491.31,286.92 1491.87,288.87 1492.43,289.43 1492.99,288.28 1493.55,287.83 1494.11,287.77 1494.67,288.61 1495.79,288.22 1496.35,289.57 1497.47,289.57 1498.03,287.31 1498.59,289.17 1499.15,288.87 1499.71,287.89 1500.27,289.34 1500.83,287.69 1501.39,289.86 1501.95,289.89 1502.51,288.84 1503.07,290.57 1503.63,287.52 1504.19,289.89 1504.75,288.44 1505.31,287.80 1505.87,287.91 1506.43,289.62 1506.99,288.22 1507.55,287.63 1508.11,290.20 1508.67,288.50 1509.23,290.87 1509.79,288.27 1510.35,289.31 1510.91,287.87 1511.47,288.04 1512.03,288.70 1512.59,287.03 1513.15,287.96 1513.71,287.48 1514.27,288.23 1514.83,289.90 1515.39,288.61 1516.51,287.70 1517.07,288.84 1517.63,289.09 1518.19,290.38 1518.75,289.25 1519.31,289.52 1519.87,288.79 1520.43,289.87 1520.99,287.05 1521.55,288.57 1522.11,287.01 1522.67,286.06 1523.23,287.08 1523.79,286.29 1524.35,288.01 1524.91,287.45 1525.47,286.21 1526.03,286.19 1526.59,287.81 1527.15,287.45 1527.71,288.30 1528.27,286.63 1528.83,289.77 1529.39,286.78 1529.95,285.39 1530.51,288.29 1531.07,290.13 1531.63,288.22 1532.75,287.04 1533.87,289.43 1535.55,291.18 1536.11,288.94 1536.67,290.36 1537.23,289.47 1537.79,290.84 1538.35,289.49 1539.47,289.25 1540.03,288.25 1540.59,288.03 1541.15,288.52 1541.71,287.34 1542.27,289.86 1542.83,287.02 1543.39,288.32 1543.95,288.19 1544.51,286.90 1545.07,286.34 1545.63,286.13 1546.19,286.44 1546.75,285.64 1547.87,284.64 1548.43,287.06 1548.99,282.74 1549.55,281.66 1550.11,285.65 1550.67,285.04 1551.23,283.39 1551.79,286.50 1552.35,286.29 1552.91,286.34 1553.47,287.26 1554.03,285.72 1554.59,285.48 1555.15,287.07 1555.71,286.95 1556.27,286.50 1556.83,287.62 1557.39,286.92 1558.51,289.46 1559.07,287.41 1559.63,288.24 1560.75,288.57 1561.31,290.84 1561.87,290.78 1562.43,289.78 1562.99,291.40 1563.55,290.68 1564.11,291.42 1564.67,290.92 1565.23,291.62 1565.79,291.75 1566.35,289.22 1566.91,290.55 1568.03,290.25 1568.59,290.79 1569.15,290.45 1569.71,291.86 1570.27,290.98 1570.83,291.22 1571.39,293.62 1571.95,292.66 1572.51,291.00 1573.63,291.85 1574.75,291.49 1575.31,291.80 1575.87,290.87 1576.43,292.63 1576.99,292.40 1577.55,291.01 1578.11,292.15 1578.67,290.60 1579.23,289.74 1580.91,291.92 1581.47,290.67 1582.03,290.70 1583.15,291.73 1583.71,289.21 1584.27,291.68 1584.83,289.64 1585.39,291.88 1585.95,292.28 1587.07,289.76 1587.63,290.35 1588.19,292.02 1588.75,290.28 1589.31,289.37 1589.87,291.15 1590.99,289.82 1591.55,291.36 1592.11,291.50 1592.67,290.51 1593.79,289.93 1594.35,290.84 1594.91,289.06 1596.03,290.50 1596.59,291.54 1597.15,289.44 1597.71,291.01 1598.27,291.83 1599.39,290.33 1599.95,292.57 1601.07,292.37 1602.75,290.08 1603.31,290.88 1603.87,291.23 1604.43,291.24 1604.99,292.11 1605.55,291.31 1606.11,291.54 1606.67,290.57 1607.23,290.45 1608.35,291.95 1609.47,291.26 1610.03,291.26 1610.59,289.62 1611.15,293.50 1611.71,291.41 1612.27,290.57 1612.83,290.99 1613.39,291.84 1613.95,291.31 1614.51,291.81 1615.07,290.36 1616.19,292.25 1616.75,290.32 1617.31,289.91 1617.87,289.78 1618.43,290.01 1618.99,290.81 1619.55,292.23 1620.11,292.03 1620.67,289.54 1621.23,290.86 1621.79,289.91 1622.35,290.98 1622.91,290.34 1623.47,291.65 1624.03,290.87 1624.59,292.14 1625.15,291.31 1625.71,292.93 1626.83,290.68 1627.39,292.84 1628.51,289.76 1629.07,292.17 1629.63,293.00 1630.19,291.18 1631.31,292.33 1632.43,292.05 1632.99,290.35 1633.55,290.85 1634.11,290.43 1634.67,292.53 1635.23,291.97 1635.79,292.02 1636.35,293.00 1636.91,293.46 1638.03,291.15 1638.59,291.94 1639.15,289.98 1639.71,291.18 1640.27,291.49 1640.83,289.60 1641.39,291.24 1641.95,291.71 1642.51,290.43 1643.07,290.40 1643.63,291.89 1644.19,291.28 1644.75,292.00 1645.31,291.78 1645.87,289.23 1646.43,289.76 1646.99,289.07 1647.55,289.36 1648.11,287.50 1648.67,288.25 1649.23,287.86 1650.35,289.23 1650.91,288.97 1651.47,285.06 1652.03,287.23 1652.59,286.98 1653.15,285.74 1653.71,288.78 1654.27,287.35 1655.39,289.26 1655.95,288.63 1656.51,290.81 1657.07,287.74 1657.63,291.16 1658.19,289.42 1658.75,291.99 1659.31,290.66 1660.43,292.73 1660.99,292.99 1661.55,294.14 1662.11,294.28 1662.67,291.91 1663.23,292.42 1663.79,293.51 1664.91,291.74 1665.47,292.67 1667.15,293.45 1667.71,291.40 1668.83,292.76 1669.39,290.96 1669.95,292.03 1670.51,292.23 1671.63,291.25 1672.19,293.62 1672.75,291.13 1673.31,293.60 1673.87,293.12 1674.43,291.77 1674.99,292.72 1675.55,291.23 1676.11,291.47 1677.23,291.56 1677.79,293.02 1678.35,291.88 1678.91,292.17 1679.47,291.92 1680.03,294.56 1680.59,290.59 1681.71,292.65 1682.27,290.20 1682.83,290.85 1683.39,292.20 1683.95,292.62 1684.51,291.84 1685.07,292.62 1685.63,290.97 1686.19,290.62 1687.31,291.70 1687.87,289.07 1688.43,292.12 1688.99,290.06 1689.55,289.01 1690.11,291.32 1690.67,289.58 1691.23,288.99 1691.79,290.88 1692.35,289.70 1692.91,289.48 1693.47,291.48 1694.03,289.00 1695.15,291.46 1695.71,290.64 1696.27,289.19 1696.83,289.71 1697.39,289.47 1697.95,290.70 1698.51,288.50 1699.07,292.01 1699.63,289.19 1700.19,289.02 1700.75,287.45 1701.31,289.07 1702.43,288.16 1702.99,287.24 1703.55,290.47 1704.67,287.89 1705.23,288.70 1705.79,290.10 1706.35,289.47 1706.91,289.72 1707.47,288.65 1708.03,290.32 1708.59,287.99 1709.15,289.50 1709.71,287.94 1710.27,289.89 1710.83,290.52 1711.39,289.95 1711.95,290.61 1712.51,290.83 1713.07,289.25 1713.63,289.88 1714.19,289.61 1714.75,291.83 1715.31,288.99 1715.87,289.92 1716.99,290.45 1717.55,292.18 1718.11,290.23 1718.67,290.91 1719.23,290.97 1719.79,291.54 1720.35,290.97 1722.59,291.40 1723.15,289.45 1723.71,291.22 1724.83,291.23 1725.95,292.56 1726.51,292.90 1727.07,291.99 1727.63,291.77 1728.19,292.27 1728.75,290.76 1729.31,291.80 1729.87,290.96 1730.43,294.16 1730.99,293.10 1731.55,292.53 1732.11,293.48 1732.67,293.46 1733.23,292.64 1733.79,293.33 1734.35,292.75 1734.91,293.67 1735.47,292.44 1737.15,293.74 1737.71,292.42 1738.27,293.12 1738.83,292.02 1739.39,292.63 1739.95,290.92 1740.51,290.28 1741.07,291.93 1741.63,292.38 1742.19,290.95 1742.75,294.19 1743.31,291.26 1743.87,291.38 1744.43,292.34 1744.99,291.71 1745.55,292.49 1746.11,291.32 1746.67,293.16 1747.23,291.67 1748.35,292.01 1748.91,291.10 1749.47,292.41 1750.03,292.15 1750.59,292.77 1751.15,290.91 1751.71,291.26 1752.27,290.89 1752.83,291.83 1753.39,291.08 1753.95,291.59 1755.07,291.11 1755.63,289.92 1756.19,287.89 1756.75,289.03 1757.31,291.01 1757.87,288.64 1758.99,290.65 1759.55,288.57 1760.11,288.91 1760.67,288.42 1761.23,289.83 1762.35,287.53 1762.91,288.07 1764.03,286.90 1764.59,288.99 1765.71,290.00 1766.27,288.16 1767.39,291.29 1767.95,287.36 1768.51,288.85 1769.07,289.21 1769.63,292.31 1770.19,291.20 1770.75,291.41 1771.31,291.16 1771.87,291.44 1772.43,291.18 1772.99,292.05 1773.55,291.16 1774.11,292.96 1774.67,292.46 1775.23,292.56 1775.79,293.50 1776.91,292.46 1777.47,292.48 1778.03,291.57 1778.59,293.30 1779.15,292.63 1779.71,292.29 1780.27,292.71 1780.83,293.53 1781.39,292.77 1782.51,295.77 1783.07,292.07 1783.63,292.00 1784.75,292.57 1785.31,291.65 1785.87,293.55 1786.43,292.40 1786.99,293.57 1787.55,293.59 1788.11,292.62 1789.23,295.33 1789.79,292.66 1790.35,292.22 1790.91,294.79 1791.47,292.61 1792.59,290.87 1793.15,293.63 1793.71,293.19 1794.27,291.60 1794.83,293.76 1795.39,292.13 1795.95,294.46 1796.51,295.03 1797.07,293.95 1797.63,294.82 1798.19,291.77 1798.75,291.58 1799.31,294.41 1799.87,291.97 1800.43,293.08 1800.99,294.89 1802.11,293.12 1802.67,293.65 1803.23,294.57 1803.79,292.67 1804.35,293.52 1805.47,293.97 1806.03,293.50 1807.15,291.95 1807.71,294.30 1808.27,293.22 1808.83,294.44 1809.39,294.26 1809.95,291.26 1810.51,293.74 1811.07,293.05 1811.63,294.21 1812.19,292.65 1812.75,294.39 1813.31,295.42 1813.87,292.05 1814.43,293.76 1815.55,294.45 1816.11,294.34 1816.67,292.94 1817.79,294.26 1818.35,292.75 1818.91,293.52 1819.47,293.18 1820.03,293.71 1820.59,292.31 1821.15,294.68 1821.71,294.10 1822.27,295.25 1822.83,295.29 1824.51,294.57 1825.07,295.07 1825.63,292.95 1826.19,292.06 1826.75,293.75 1827.31,293.64 1827.87,294.35 1828.99,293.39 1829.55,294.78 1831.23,291.94 1831.79,293.00 1832.35,295.37 1832.91,293.31 1833.47,293.21 1834.03,293.95 1834.59,292.58 1835.15,295.55 1835.71,292.92 1836.27,292.89 1836.83,293.68 1837.39,295.64 1837.95,295.43 1839.07,294.36 1839.63,291.99 1840.19,295.25 1841.87,292.77 1842.43,294.20 1842.99,292.63 1843.55,293.32 1844.11,295.65 1844.67,293.39 1845.23,294.20 1845.79,293.89 1846.35,295.09 1846.91,293.47 1847.47,294.79 1848.59,294.40 1849.15,293.53 1849.71,294.54 1850.83,291.66 1851.39,294.44 1851.95,292.93 1852.51,294.11 1853.07,294.43 1853.63,295.61 1854.19,293.09 1854.75,295.33 1855.87,294.14 1856.43,294.40 1857.55,295.51 1858.11,295.04 1858.67,293.52 1859.23,293.42 1859.79,294.14 1860.35,292.50 1860.91,295.59 1861.47,295.06 1862.03,293.19 1862.59,294.07 1863.15,291.83 1863.71,296.35 1864.27,292.89 1864.83,292.78 1865.39,296.59 1865.95,293.60 1866.51,294.75 1867.07,293.14 1867.63,294.24 1868.19,294.62 1869.31,293.77 1870.99,294.44 1871.55,295.39 1872.11,293.38 1872.67,293.58 1873.23,293.40 1873.79,294.02 1874.35,294.01 1874.91,294.48 1875.47,294.20 1876.03,296.34 1876.59,294.83 1877.15,294.68 1877.71,295.11 1878.27,294.31 1878.83,295.79 1879.39,293.45 1879.95,293.07 1880.51,294.40 1882.19,293.20 1882.75,293.25 1883.31,295.95 1883.87,294.89 1884.43,291.89 1884.99,294.73 1886.11,295.33 1886.67,294.15 1887.23,295.43 1887.79,296.01 1888.91,294.20 1889.47,294.62 1890.03,295.76 1890.59,294.11 1891.15,295.78 1891.71,294.03 1892.27,294.68 1892.83,293.90 1893.39,294.63 1893.95,293.38 1895.07,294.16 1895.63,293.24 1896.19,293.33 1896.75,295.63 1897.31,294.85 1897.87,294.77 1898.99,294.12 1899.55,295.02 1900.11,294.92 1900.67,293.75 1902.35,294.32 1902.91,293.00 1903.47,295.10 1904.03,294.15 1904.59,295.17 1905.71,293.39 1906.27,293.30 1906.83,292.86 1908.51,296.13 1909.63,293.41 1910.19,294.44 1910.75,294.27 1911.31,295.02 1911.87,293.40 1912.43,294.68 1912.99,293.64 1913.55,295.32 1914.11,293.46 1914.67,294.50 1915.23,294.69 1915.79,295.82 1916.35,294.17 1918.03,292.99 1918.59,294.71 1919.15,295.22 1919.71,295.23 1920.27,294.73 1920.83,296.56 1921.39,295.38 1921.95,294.86 1922.51,294.84 1923.07,295.27 1923.63,293.35 1924.19,294.90 1924.75,294.44 1925.31,294.80 1925.87,294.74 1926.43,294.99 1926.99,293.93 1928.11,293.47 1928.67,295.21 1929.23,293.83 1929.79,293.56 1930.35,295.05 1930.91,294.61 1932.03,294.73 1932.59,293.06 1933.15,293.91 1933.71,293.53 1934.27,293.82 1934.83,294.41 1935.39,297.01 1935.95,295.76 1936.51,295.79 1937.07,293.37 1937.63,295.35 1938.75,293.83 1939.31,294.02 1940.43,297.62 1940.99,294.64 1941.55,294.69 1942.11,295.77 1942.67,294.22 1943.23,295.54 1943.79,295.48 1944.35,296.11 1944.91,294.67 1945.47,294.30 1946.03,293.22 1946.59,296.43 1947.15,292.36 1947.71,294.76 1948.27,294.59 1948.83,294.06 1949.95,296.06 1950.51,293.97 1951.07,294.93 1951.63,294.58 1952.19,293.87 1953.31,294.43 1953.87,293.71 1954.43,295.24 1954.99,295.59 1955.55,294.59 1956.11,295.44 1956.67,293.37 1957.23,293.71 1957.79,296.32 1958.35,293.80 1958.91,295.92 1959.47,293.68 1960.03,295.14 1960.59,294.92 1961.71,295.08 1962.27,294.53 1962.83,293.18 1963.39,295.38 1963.95,294.00 1964.51,296.18 1965.07,295.50 1965.63,293.97 1966.19,295.64 1967.31,292.66 1967.87,295.30 1968.43,294.17 1968.99,293.85 1970.11,295.23 1970.67,293.91 1971.23,294.21 1971.79,292.53 1972.35,294.23 1972.91,293.90 1973.47,294.31 1974.03,295.40 1974.59,295.20 1975.15,295.70 1975.71,293.98 1976.27,294.04 1976.83,295.79 1977.39,294.09 1977.95,295.84 1978.51,293.34 1979.07,294.51 1979.63,294.39 1980.19,291.51 1980.75,293.95 1981.31,294.91 1981.87,293.78 1983.55,293.99 1984.11,294.57 1984.67,293.75 1985.23,295.35 1985.79,294.92 1986.35,294.12 1986.91,294.01 1988.03,294.50 1988.59,293.26 1989.15,293.82 1989.71,296.67 1990.27,294.75 1990.83,293.76 1991.39,294.07 1991.95,293.77 1992.51,294.73 1993.63,294.90 1994.19,295.93 1994.75,294.89 1995.31,292.39 1995.87,292.72 1996.43,292.22 1996.99,293.36 1997.55,293.96 1998.11,293.99 1998.67,292.35 1999.23,294.64 1999.79,292.92 2000.35,295.04 2000.91,295.74 2001.47,295.28 2002.03,296.00 2002.59,294.45 2003.15,294.79 2003.71,294.68 2004.27,294.93 2004.83,293.27 2005.39,295.27 2005.95,296.04 2007.07,294.09 2007.63,294.77 2008.19,293.86 2008.75,294.87 2009.31,293.35 2009.87,294.60 2010.43,294.57 2010.99,292.51 2011.55,296.06 2012.11,296.10 2012.67,294.23 2013.23,296.12 2013.79,295.32 2014.35,295.73 2014.91,295.58 2015.47,293.41 2016.03,295.25 2016.59,294.81 2017.71,296.10 2018.83,292.45 2019.39,293.97 2019.95,292.83 2020.51,295.33 2021.07,294.59 2021.63,296.08 2022.19,294.74 2022.75,296.92 2023.31,293.20 2023.87,295.61 2024.43,294.50 2024.99,294.85 2025.55,296.57 2026.11,294.13 2026.67,295.14 2027.23,295.02 2027.79,295.54 2028.35,294.27 2029.47,293.66 2030.03,295.24 2030.59,295.39 2031.15,292.71 2031.71,294.38 2032.27,295.03 2032.83,294.51 2033.39,294.52 2033.95,293.88 2035.07,297.34 2035.63,294.11 2036.19,293.95 2036.75,294.23 2037.31,295.71 2037.87,296.18 2038.43,295.11 2038.99,295.07 2039.55,296.00 2040.11,294.34 2040.67,295.33 2041.23,293.87 2042.35,296.05 2042.91,294.42 2043.47,294.81 2044.03,293.92 2044.59,293.68 2045.15,295.74 2045.71,294.72 2046.27,295.77 2046.83,295.02 2047.39,294.86 2047.95,296.88 2048.51,294.83 2049.07,296.44 2049.63,294.71 2050.19,296.03 2050.75,296.31 2051.31,297.42 2051.87,296.58 2052.43,296.59 2052.99,297.43 2053.55,295.83 2054.11,296.96 2054.67,297.36 2055.79,296.28 2056.35,296.13 2056.91,296.23 2057.47,294.81 2058.59,294.77 2059.15,295.22 2059.71,295.33 2060.27,297.29 2060.83,296.38 2061.39,296.66 2061.95,295.82 2062.51,297.47 2063.63,296.62 2064.75,296.51 2065.31,297.94 2065.87,297.35 2066.43,296.27 2066.99,297.20 2067.55,297.07 2068.11,298.04 2068.67,296.70 2069.23,296.83 2069.79,296.46 2070.91,297.77 2071.47,296.13 2072.03,297.18 2072.59,297.05 2073.15,297.81 2073.71,296.43 2074.27,297.85 2075.39,296.51 2075.95,298.45 2076.51,296.06 2077.07,297.06 2077.63,297.64 2078.19,297.34 2078.75,295.84 2079.31,296.94 2079.87,296.26 2080.43,297.00 2080.99,295.91 2081.55,298.86 2082.11,298.35 2083.23,295.48 2083.79,295.70 2084.35,298.83 2084.91,295.95 2085.47,295.78 2086.03,297.43 2086.59,295.06 2087.15,294.72 2087.71,297.50 2088.27,295.77 2088.83,297.82 2089.39,298.06 2089.95,296.95 2090.51,298.67 2091.07,296.43 2091.63,295.78 2092.19,296.65 2092.75,296.73 2093.31,295.85 2093.87,297.60 2094.43,295.64 2095.55,297.96 2096.11,297.39 2097.23,297.66 2097.79,296.79 2098.35,296.89 2098.91,296.15 2099.47,293.20 2100.03,296.23 2100.59,293.78 2102.27,296.68 2102.83,294.46 2103.39,293.80 2103.95,294.80 2104.51,294.19 2105.07,295.54 2105.63,293.93 2106.19,295.66 2106.75,296.50 2107.31,295.62 2107.87,295.45 2108.43,296.67 2108.99,295.84 2110.11,296.53 2110.67,293.66 2111.79,297.73 2112.35,295.77 2112.91,297.01 2113.47,295.76 2114.03,296.25 2114.59,294.72 2115.15,294.86 2115.71,295.73 2116.27,295.93 2116.83,294.49 2117.39,294.02 2117.95,296.48"/>
</g>
<g>
<path fill="#0000ff" d="M424.10,1493.6 L424.10,1413.30 A3.8,3.8 0 0 1 431.70,1413.30 L431.70,1493.6 Z"/>
<path fill="#0000ff" d="M478.95,1493.6 L478.95,1360.05 A3.8,3.8 0 0 1 486.55,1360.05 L486.55,1493.6 Z"/>
<path fill="#0000ff" d="M596.20,1493.6 L596.20,1413.30 A3.8,3.8 0 0 1 603.80,1413.30 L603.80,1493.6 Z"/>
<path fill="#0000ff" d="M643.20,1493.6 L643.20,1413.30 A3.8,3.8 0 0 1 650.80,1413.30 L650.80,1493.6 Z"/>
<path fill="#0000ff" d="M670.45,1493.6 L670.45,1306.80 A3.8,3.8 0 0 1 678.05,1306.80 L678.05,1493.6 Z"/>
<path fill="#0000ff" d="M744.95,1493.6 L744.95,1413.30 A3.8,3.8 0 0 1 752.55,1413.30 L752.55,1493.6 Z"/>
<path fill="#0000ff" d="M769.20,1493.6 L769.20,1413.30 A3.8,3.8 0 0 1 776.80,1413.30 L776.80,1493.6 Z"/>
<path fill="#0000ff" d="M869.70,1493.6 L869.70,1413.30 A3.8,3.8 0 0 1 877.30,1413.30 L877.30,1493.6 Z"/>
<path fill="#0000ff" d="M937.45,1493.6 L937.45,1360.05 A3.8,3.8 0 0 1 945.05,1360.05 L945.05,1493.6 Z"/>
<path fill="#0000ff" d="M980.20,1493.6 L980.20,1228.30 A3.8,3.8 0 0 1 987.80,1228.30 L987.80,1493.6 Z"/>
<path fill="#0000ff" d="M1020.95,1493.6 L1020.95,1360.05 A3.8,3.8 0 0 1 1028.55,1360.05 L1028.55,1493.6 Z"/>
<path fill="#0000ff" d="M1071.20,1493.6 L1071.20,1428.05 A3.8,3.8 0 0 1 1078.80,1428.05 L1078.80,1493.6 Z"/>
<path fill="#0000ff" d="M1438.20,1493.6 L1438.20,1413.30 A3.8,3.8 0 0 1 1445.80,1413.30 L1445.80,1493.6 Z"/>
<path fill="#0000ff" d="M1578.95,1493.6 L1578.95,1428.05 A3.8,3.8 0 0 1 1586.55,1428.05 L1586.55,1493.6 Z"/>
<path fill="#0000ff" d="M1667.60,1493.6 L1667.60,1427.90 A3.8,3.8 0 0 1 1675.20,1427.90 L1675.20,1493.6 Z"/>
<path fill="#0000ff" d="M1750.10,1493.6 L1750.10,1306.60 A3.8,3.8 0 0 1 1757.70,1306.60 L1757.70,1493.6 Z"/>
<path fill="#ff0000" d="M265.45,1493.6 L265.45,1404.30 A3.8,3.8 0 0 1 273.05,1404.30 L273.05,1493.6 Z"/>
<path fill="#ff0000" d="M309.20,1493.6 L309.20,1436.30 A3.8,3.8 0 0 1 316.80,1436.30 L316.80,1493.6 Z"/>
<path fill="#ff0000" d="M409.30,1493.6 L409.30,1372.55 A3.8,3.8 0 0 1 416.90,1372.55 L416.90,1493.6 Z"/>
<path fill="#ff0000" d="M455.70,1493.6 L455.70,1404.30 A3.8,3.8 0 0 1 463.30,1404.30 L463.30,1493.6 Z"/>
<path fill="#ff0000" d="M545.45,1493.6 L545.45,1338.80 A3.8,3.8 0 0 1 553.05,1338.80 L553.05,1493.6 Z"/>
<path fill="#ff0000" d="M779.95,1493.6 L779.95,1306.80 A3.8,3.8 0 0 1 787.55,1306.80 L787.55,1493.6 Z"/>
<path fill="#ff0000" d="M959.70,1493.6 L959.70,1332.55 A3.8,3.8 0 0 1 967.30,1332.55 L967.30,1493.6 Z"/>
<path fill="#ff0000" d="M1136.95,1493.6 L1136.95,1268.80 A3.8,3.8 0 0 1 1144.55,1268.80 L1144.55,1493.6 Z"/>
<path fill="#ff0000" d="M1374.70,1493.6 L1374.70,1296.30 A3.8,3.8 0 0 1 1382.30,1296.30 L1382.30,1493.6 Z"/>
<path fill="#ff0000" d="M1721.40,1493.6 L1721.40,1228.10 A3.8,3.8 0 0 1 1729.00,1228.10 L1729.00,1493.6 Z"/>
</g>
<rect x="162" y="1135.3" width="116.6" height="7.8" fill="#ff0000"/>
<rect x="163" y="1222.2" width="116.2" height="7.8" fill="#0000ff"/>
<text transform="translate(308.6,1163.2) scale(1,1.015)" font-size="61.3" xml:space="preserve">C  PDF#50-0927</text>
<text transform="translate(306.6,1243.0) scale(1,1.015)" font-size="61.3" xml:space="preserve">C  PDF#46-0944</text>
<text transform="translate(1738.6,256.0) scale(1,1.015)" font-size="75.4" xml:space="preserve">SiO2-BF</text>
<text transform="translate(1744.7,491.2) scale(1,1.015)" font-size="75.4" xml:space="preserve">KH550-BF</text>
<text transform="translate(1752.0,815.0) scale(1,1.015)" font-size="75.4" xml:space="preserve">N-BF</text>
<text transform="translate(1748.7,1077.0) scale(1,1.015)" font-size="75.4" xml:space="preserve">BF</text>
<text transform="translate(141.4,1582.6) scale(1,1.015)" font-size="75.4" text-anchor="middle" xml:space="preserve">10</text>
<text transform="translate(423.3,1582.6) scale(1,1.015)" font-size="75.4" text-anchor="middle" xml:space="preserve">20</text>
<text transform="translate(705.2,1582.6) scale(1,1.015)" font-size="75.4" text-anchor="middle" xml:space="preserve">30</text>
<text transform="translate(987.2,1582.6) scale(1,1.015)" font-size="75.4" text-anchor="middle" xml:space="preserve">40</text>
<text transform="translate(1269.2,1582.6) scale(1,1.015)" font-size="75.4" text-anchor="middle" xml:space="preserve">50</text>
<text transform="translate(1551.1,1582.6) scale(1,1.015)" font-size="75.4" text-anchor="middle" xml:space="preserve">60</text>
<text transform="translate(1833.1,1582.6) scale(1,1.015)" font-size="75.4" text-anchor="middle" xml:space="preserve">70</text>
<text transform="translate(2115.0,1582.6) scale(1,1.015)" font-size="75.4" text-anchor="middle" xml:space="preserve">80</text>
<text transform="translate(1128.2,1672.2) scale(1,1.015)" font-size="75.4" text-anchor="middle" xml:space="preserve">2θ(°)</text>
<text transform="translate(70.8,766.4) rotate(-90) scale(1,1.015)" font-size="75.4" text-anchor="middle" xml:space="preserve">I (a.u.)</text>
</svg></body></html>
